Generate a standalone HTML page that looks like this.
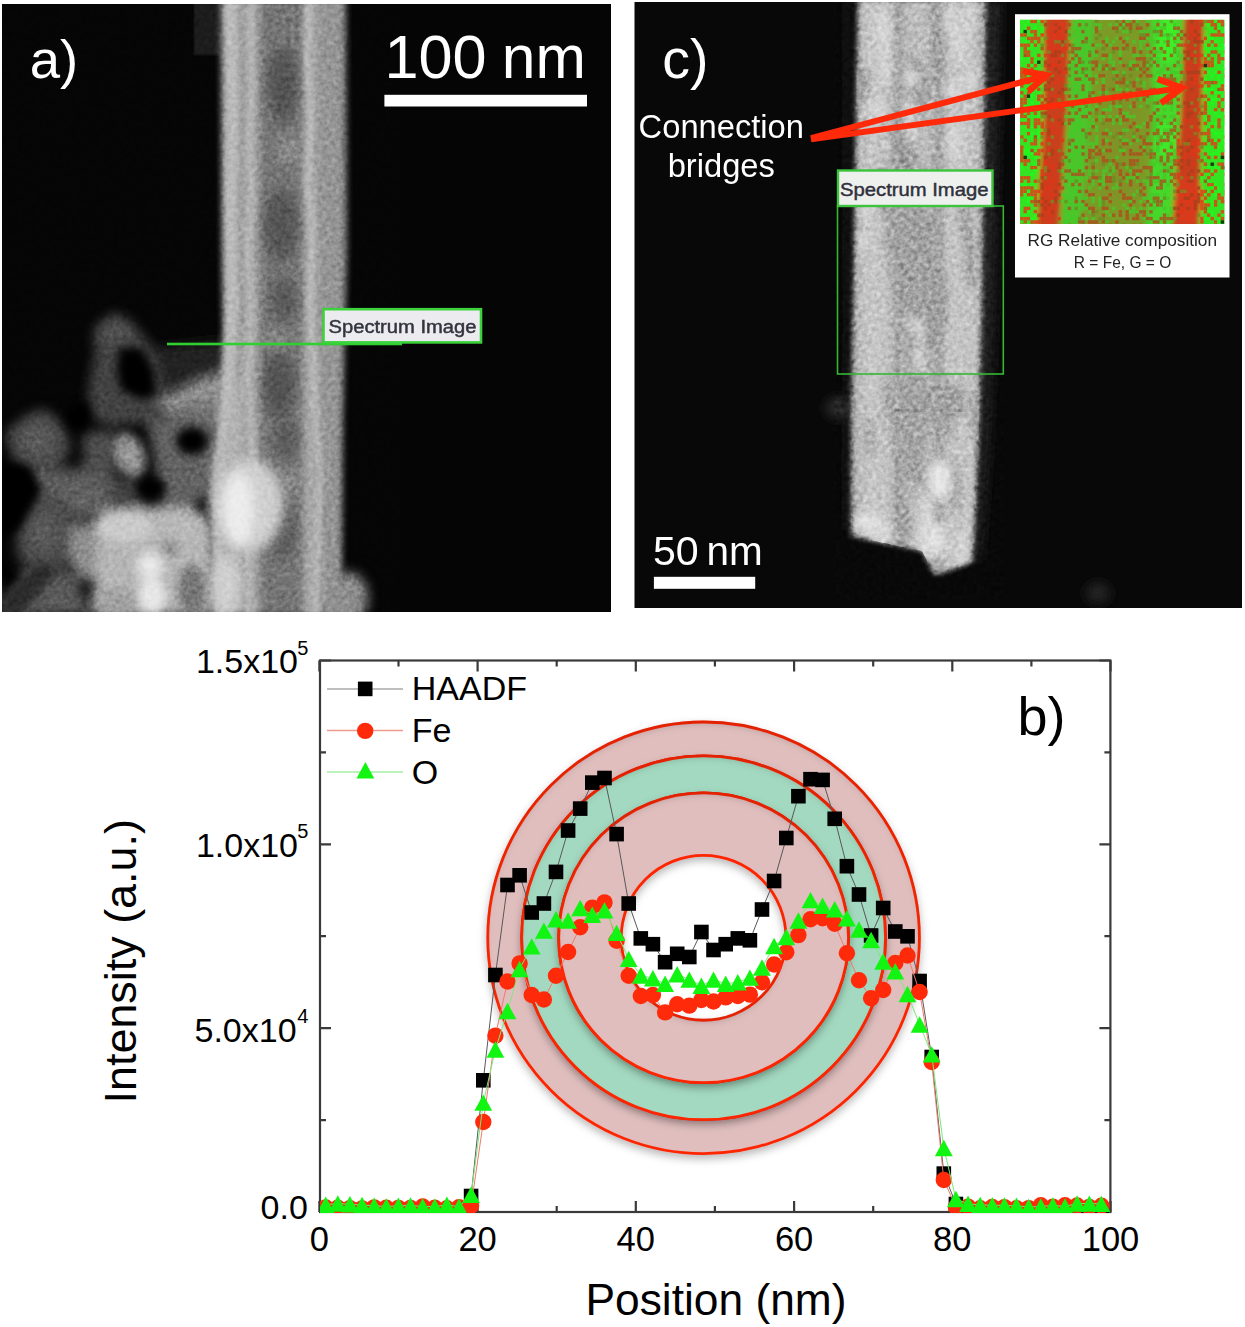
<!DOCTYPE html>
<html><head><meta charset="utf-8"><style>
html,body{margin:0;padding:0;background:#fff;}
body{width:1245px;height:1327px;overflow:hidden;position:relative;}
svg{position:absolute;left:0;top:0;}
text{font-family:"Liberation Sans",sans-serif;}
</style></head><body>
<svg width="1245" height="1327" viewBox="0 0 1245 1327">
<defs>
<filter id="sh" x="-20%" y="-20%" width="140%" height="140%">
<feGaussianBlur in="SourceAlpha" stdDeviation="4" result="b1"/><feOffset in="b1" dy="4" result="o1"/><feFlood flood-color="#000" flood-opacity="0.28" result="f1"/><feComposite in="f1" in2="o1" operator="in" result="drop"/>
<feComponentTransfer in="SourceAlpha" result="inv"><feFuncA type="table" tableValues="1 0"/></feComponentTransfer><feGaussianBlur in="inv" stdDeviation="3" result="b2"/><feOffset in="b2" dy="3.5" result="o2"/><feFlood flood-color="#000" flood-opacity="0.3" result="f2"/><feComposite in="f2" in2="o2" operator="in" result="is1"/><feComposite in="is1" in2="SourceAlpha" operator="in" result="inner"/>
<feMerge><feMergeNode in="drop"/><feMergeNode in="SourceGraphic"/><feMergeNode in="inner"/></feMerge></filter>
<filter id="b1" x="-50%" y="-50%" width="200%" height="200%"><feGaussianBlur stdDeviation="1.5"/></filter>
<filter id="b2" x="-50%" y="-50%" width="200%" height="200%"><feGaussianBlur stdDeviation="2.5"/></filter>
<filter id="b3" x="-50%" y="-50%" width="200%" height="200%"><feGaussianBlur stdDeviation="3"/></filter>
<filter id="b4" x="-50%" y="-50%" width="200%" height="200%"><feGaussianBlur stdDeviation="4"/></filter>
<filter id="b6" x="-50%" y="-50%" width="200%" height="200%"><feGaussianBlur stdDeviation="6"/></filter>
<filter id="noise2" x="0" y="0" width="100%" height="100%" color-interpolation-filters="sRGB"><feTurbulence type="fractalNoise" baseFrequency="0.22" numOctaves="2" seed="9"/><feColorMatrix type="matrix" values="0.33 0.33 0.33 0 0  0.33 0.33 0.33 0 0  0.33 0.33 0.33 0 0  0 0 0 0 1"/><feComponentTransfer><feFuncR type="linear" slope="2.5" intercept="-0.75"/><feFuncG type="linear" slope="2.5" intercept="-0.75"/><feFuncB type="linear" slope="2.5" intercept="-0.75"/></feComponentTransfer></filter>
<clipPath id="pa"><rect x="2" y="4" width="609" height="608"/></clipPath>
<clipPath id="pcl"><rect x="634.5" y="2" width="607.5" height="606"/></clipPath>
<clipPath id="pc"><rect x="320" y="660" width="790.4" height="553"/></clipPath>
</defs>
<g clip-path="url(#pa)">
<rect x="2" y="4" width="609" height="608" fill="#050505"/>
<rect x="194" y="0" width="28" height="55" fill="#1c1c1c" filter="url(#b1)"/>
<defs>
<radialGradient id="rg1"><stop offset="0" stop-color="#5a5a5a"/><stop offset="1" stop-color="#3c3c3c"/></radialGradient>
<radialGradient id="rg2"><stop offset="0" stop-color="#a8a8a8"/><stop offset="1" stop-color="#7a7a7a"/></radialGradient>
<radialGradient id="rg3"><stop offset="0" stop-color="#f8f8f8"/><stop offset="0.5" stop-color="#d8d8d8"/><stop offset="1" stop-color="#a8a8a8"/></radialGradient>
<radialGradient id="rg4"><stop offset="0" stop-color="#606060"/><stop offset="1" stop-color="#444"/></radialGradient>
<linearGradient id="lg1" x1="0" x2="1" y1="0" y2="0"><stop offset="0" stop-color="#585858"/><stop offset="1" stop-color="#8a8a8a"/></linearGradient>
</defs>
<!-- particle cluster -->
<g filter="url(#b6)">
 <path d="M95,328 L114,314 L133,324 L147,340 L157,359 L164,383 L166,400 L159,416 L142,423 L112,426 L93,419 L88,402 L90,378 L95,355 L94,338Z" fill="#434343"/>
 <path d="M96,326 L114,313 L132,322 L130,340 L110,345 L97,340Z" fill="#505050"/>
 <path d="M152,348 L226,340 L226,366 L165,392Z" fill="#202020"/>
 <path d="M160,400 L197,382 L228,372 L228,434 L197,426 L166,422Z" fill="url(#lg1)"/>
 <path d="M160,400 L200,380 L228,370 L228,390 L200,398 L166,412Z" fill="#969696"/>
 <path d="M5,433 L28,414 L45,409 L62,423 L71,447 L62,466 L38,471 L14,461Z" fill="url(#rg4)"/>
 <path d="M83,433 L114,430 L116,476 L100,484 L84,472Z" fill="#4e4e4e"/>
 <path d="M96,478 L140,478 L142,508 L100,510Z" fill="#404040"/>
 <path d="M147,419 L214,416 L222,470 L218,515 L165,512 L160,490Z" fill="#626262"/>
 <path d="M30,470 L84,468 L112,480 L112,515 L60,520 L30,505Z" fill="#585858"/>
 <path d="M43,485 L100,484 L104,512 L60,516Z" fill="#626262"/>
 <path d="M14,500 L50,492 L72,505 L74,560 L50,572 L18,560Z" fill="url(#rg4)"/>
 <path d="M71,525 L105,520 L110,575 L80,580 L70,560Z" fill="#8e8e8e"/>
 <path d="M100,512 L150,506 L200,510 L214,530 L214,615 L92,615 L96,560Z" fill="#b6b6b6"/>
 <path d="M0,585 L40,560 L75,575 L90,615 L0,615Z" fill="#5a5a5a"/>
</g>
<g filter="url(#b4)">
 <ellipse cx="129" cy="455" rx="16" ry="24" fill="url(#rg2)" transform="rotate(-22 129 455)"/>
 <ellipse cx="150" cy="566" rx="22" ry="24" fill="url(#rg3)"/>
 <ellipse cx="125" cy="528" rx="28" ry="15" fill="#cacaca"/>
 <ellipse cx="180" cy="530" rx="20" ry="15" fill="#b8b8b8"/>
 <ellipse cx="170" cy="548" rx="8" ry="9" fill="#8a8a8a"/>
 <ellipse cx="118" cy="600" rx="22" ry="12" fill="#a0a0a0"/>
 <ellipse cx="192" cy="590" rx="14" ry="26" fill="#767676"/>
 <ellipse cx="152" cy="596" rx="14" ry="18" fill="#e6e6e6"/>
 <path d="M0,600 L40,560 L60,570 L20,615 L0,615Z" fill="#2a2a2a"/>
</g>
<g filter="url(#b4)">
 <path d="M119,348 L142,348 L154,371 L156,395 L142,400 L121,390 L117,371Z" fill="#050505"/>
 <ellipse cx="192" cy="441" rx="16" ry="14" fill="#050505"/>
 <ellipse cx="151" cy="488" rx="15" ry="10" fill="#050505"/>
 <ellipse cx="202" cy="505" rx="7" ry="9" fill="#1a1a1a"/>
 <path d="M0,462 L30,468 L42,490 L20,530 L0,540Z" fill="#050505"/>
 <path d="M0,560 L22,575 L0,600Z" fill="#050505"/>
 <path d="M66,410 L86,400 L92,418 L82,432 L66,424Z" fill="#050505"/>
</g>
<!-- tube -->
<defs>
<linearGradient id="tg" gradientUnits="userSpaceOnUse" x1="214" x2="350" y1="0" y2="0">
<stop offset="0.044" stop-color="#a8a8a8"/><stop offset="0.088" stop-color="#b2b2b2"/>
<stop offset="0.191" stop-color="#b2b2b2"/><stop offset="0.221" stop-color="#9c9c9c"/>
<stop offset="0.257" stop-color="#adadad"/><stop offset="0.301" stop-color="#aaaaaa"/>
<stop offset="0.331" stop-color="#8e8e8e"/><stop offset="0.368" stop-color="#747474"/>
<stop offset="0.632" stop-color="#767676"/><stop offset="0.669" stop-color="#9e9e9e"/>
<stop offset="0.706" stop-color="#b0b0b0"/><stop offset="0.743" stop-color="#a2a2a2"/>
<stop offset="0.779" stop-color="#959595"/><stop offset="0.912" stop-color="#959595"/>
<stop offset="0.971" stop-color="#868686"/>
</linearGradient>
</defs>
<g filter="url(#b3)">
 <path d="M221,0 L346,0 L347,250 L345,330 L343,420 L342,565 L342,615 L212,615 L210,470 L219,420 L223,330 L222,250 Z" fill="url(#tg)"/>

</g>
<g filter="url(#b6)">
 <ellipse cx="283" cy="85" rx="15" ry="38" fill="#525252"/>
 <ellipse cx="281" cy="225" rx="17" ry="36" fill="#545454"/>
 <ellipse cx="284" cy="300" rx="13" ry="22" fill="#585858"/>
 <ellipse cx="279" cy="385" rx="16" ry="34" fill="#525252"/>
 <ellipse cx="286" cy="440" rx="12" ry="20" fill="#5a5a5a"/>
 <ellipse cx="283" cy="530" rx="13" ry="30" fill="#5c5c5c"/>
 <ellipse cx="290" cy="150" rx="12" ry="14" fill="#8c8c8c"/>
 <ellipse cx="276" cy="340" rx="12" ry="10" fill="#888"/>
 <ellipse cx="292" cy="480" rx="10" ry="12" fill="#8a8a8a"/>
</g>
<g filter="url(#b2)" fill="none" stroke-linecap="round" opacity="0.85">
 <path d="M230,0 L233,100 L230,200 L232,300 L228,380 L222,440 L218,500 L220,615" stroke="#bdbdbd" stroke-width="9"/>
 <path d="M251,0 L252,80 L249,150 L252,200 L247,240 L251,300 L248,380 L252,460 L247,540 L250,615" stroke="#bcbcbc" stroke-width="5"/>
 <path d="M309,0 L307,60 L311,120 L307,180 L313,240 L310,300 L314,360 L316,420 L320,470 L318,540 L316,615" stroke="#c0c0c0" stroke-width="6"/>
 <path d="M241,0 L242,100 L240,200 L241,300 L238,380" stroke="#909090" stroke-width="3"/>
</g>
<g filter="url(#b6)">
 <ellipse cx="348" cy="598" rx="20" ry="26" fill="#8e8e8e"/>
 <ellipse cx="250" cy="505" rx="34" ry="46" fill="#cfcfcf"/>
 <ellipse cx="238" cy="510" rx="16" ry="38" fill="#ececec"/>
 <ellipse cx="226" cy="585" rx="14" ry="30" fill="#d0d0d0"/>
</g>
<rect x="0" y="0" width="400" height="612" filter="url(#noise2)" style="mix-blend-mode:overlay" opacity="0.2"/>
<!-- label -->
<rect x="167" y="342.7" width="235" height="2.6" fill="#2fd02f"/>
<rect x="323.5" y="309.2" width="157.5" height="33.2" fill="#ececf0" stroke="#3cd23c" stroke-width="2.6"/>
<text x="328.5" y="333.3" font-size="18" fill="#34343f" stroke="#34343f" stroke-width="0.45" textLength="148" lengthAdjust="spacingAndGlyphs">Spectrum Image</text>
<text x="29.8" y="77.8" font-size="54.5" fill="#fff">a)</text>
<text x="384.4" y="78.4" font-size="61.2" fill="#fff">100</text><text x="501.8" y="78.2" font-size="60.5" fill="#fff">nm</text>
<rect x="384.4" y="94.8" width="202.6" height="11.7" fill="#fff"/>
</g>

<g clip-path="url(#pcl)">
<rect x="634.5" y="2" width="607.5" height="606" fill="#080808"/>
<g filter="url(#b6)"><path d="M984,0 L1000,0 L994,300 L988,450 L980,560 L972,560 L978,420 L982,200Z" fill="#262626"/><path d="M846,0 L858,0 L855,200 L852,400 L850,530 L844,530 L846,300Z" fill="#141414"/><ellipse cx="838" cy="408" rx="12" ry="10" fill="#2e2e2e"/><ellipse cx="1098" cy="593" rx="12" ry="10" fill="#262626"/></g>
<defs><linearGradient id="ctg" gradientUnits="userSpaceOnUse" x1="850" x2="988" y1="0" y2="0"><stop offset="0" stop-color="#9a9a9a"/><stop offset="0.06" stop-color="#bcbcbc"/><stop offset="0.15" stop-color="#c8c8c8"/><stop offset="0.28" stop-color="#c2c2c2"/><stop offset="0.35" stop-color="#a0a0a0"/><stop offset="0.42" stop-color="#bebebe"/><stop offset="0.57" stop-color="#bebebe"/><stop offset="0.64" stop-color="#a0a0a0"/><stop offset="0.71" stop-color="#c6c6c6"/><stop offset="0.9" stop-color="#c4c4c4"/><stop offset="0.96" stop-color="#b0b0b0"/><stop offset="1" stop-color="#8a8a8a"/></linearGradient></defs>
<g filter="url(#b2)"><path d="M858,0 L986,0 L984,150 L982,300 L979,420 L975,520 L972,562 L940,574 L934,574 L922,551 L851,536 L851,420 L854,250 L856,120Z" fill="url(#ctg)"/></g>
<g filter="url(#b4)" clip-path="url(#ctube)"><ellipse cx="971" cy="259" rx="6" ry="31" fill="#a0a0a0"/><ellipse cx="917" cy="112" rx="4" ry="20" fill="#a0a0a0"/><ellipse cx="936" cy="306" rx="8" ry="27" fill="#9c9c9c"/><ellipse cx="922" cy="368" rx="4" ry="18" fill="#a0a0a0"/><ellipse cx="930" cy="340" rx="6" ry="27" fill="#a6a6a6"/><ellipse cx="939" cy="13" rx="8" ry="34" fill="#a0a0a0"/><ellipse cx="888" cy="399" rx="4" ry="25" fill="#a0a0a0"/><ellipse cx="933" cy="230" rx="7" ry="14" fill="#a0a0a0"/><ellipse cx="905" cy="520" rx="6" ry="25" fill="#a0a0a0"/><ellipse cx="870" cy="438" rx="4" ry="22" fill="#a0a0a0"/><ellipse cx="861" cy="84" rx="7" ry="18" fill="#9c9c9c"/><ellipse cx="917" cy="114" rx="6" ry="22" fill="#a6a6a6"/><ellipse cx="892" cy="241" rx="8" ry="14" fill="#a0a0a0"/><ellipse cx="933" cy="227" rx="4" ry="17" fill="#a6a6a6"/><ellipse cx="899" cy="152" rx="6" ry="15" fill="#a0a0a0"/><ellipse cx="932" cy="331" rx="6" ry="17" fill="#9c9c9c"/><ellipse cx="920" cy="276" rx="7" ry="20" fill="#a0a0a0"/><ellipse cx="905" cy="460" rx="7" ry="22" fill="#a6a6a6"/><ellipse cx="913" cy="342" rx="6" ry="19" fill="#9c9c9c"/><ellipse cx="959" cy="398" rx="5" ry="18" fill="#9c9c9c"/><ellipse cx="899" cy="547" rx="5" ry="32" fill="#a0a0a0"/><ellipse cx="896" cy="422" rx="4" ry="18" fill="#a6a6a6"/><ellipse cx="939" cy="302" rx="8" ry="34" fill="#9c9c9c"/><ellipse cx="918" cy="413" rx="8" ry="23" fill="#a6a6a6"/><ellipse cx="938" cy="396" rx="6" ry="29" fill="#a6a6a6"/><ellipse cx="914" cy="85" rx="7" ry="32" fill="#9c9c9c"/><ellipse cx="976" cy="415" rx="5" ry="28" fill="#a0a0a0"/><ellipse cx="955" cy="489" rx="6" ry="26" fill="#a6a6a6"/><ellipse cx="894" cy="219" rx="7" ry="34" fill="#a6a6a6"/><ellipse cx="948" cy="411" rx="6" ry="31" fill="#a0a0a0"/><ellipse cx="917" cy="295" rx="6" ry="19" fill="#9c9c9c"/><ellipse cx="939" cy="72" rx="5" ry="14" fill="#a6a6a6"/><ellipse cx="922" cy="89" rx="7" ry="23" fill="#a0a0a0"/><ellipse cx="884" cy="190" rx="7" ry="29" fill="#a0a0a0"/><ellipse cx="930" cy="494" rx="5" ry="17" fill="#a6a6a6"/><ellipse cx="945" cy="470" rx="7" ry="16" fill="#a6a6a6"/><ellipse cx="910" cy="161" rx="7" ry="28" fill="#9c9c9c"/><ellipse cx="897" cy="259" rx="7" ry="20" fill="#a6a6a6"/><ellipse cx="930" cy="180" rx="6" ry="18" fill="#a6a6a6"/><ellipse cx="900" cy="141" rx="6" ry="27" fill="#9c9c9c"/><ellipse cx="910" cy="362" rx="5" ry="24" fill="#a0a0a0"/><ellipse cx="928" cy="403" rx="5" ry="19" fill="#a6a6a6"/><ellipse cx="938" cy="307" rx="6" ry="30" fill="#a0a0a0"/><ellipse cx="937" cy="58" rx="6" ry="18" fill="#a0a0a0"/><ellipse cx="966" cy="217" rx="6" ry="27" fill="#a0a0a0"/><ellipse cx="885" cy="64" rx="5" ry="23" fill="#d8d8d8"/><ellipse cx="962" cy="549" rx="5" ry="20" fill="#d8d8d8"/><ellipse cx="949" cy="19" rx="6" ry="17" fill="#d8d8d8"/><ellipse cx="883" cy="26" rx="6" ry="20" fill="#d8d8d8"/><ellipse cx="926" cy="514" rx="7" ry="20" fill="#d8d8d8"/><ellipse cx="875" cy="530" rx="5" ry="18" fill="#d8d8d8"/><ellipse cx="918" cy="467" rx="5" ry="19" fill="#d8d8d8"/><ellipse cx="885" cy="535" rx="7" ry="17" fill="#d8d8d8"/><ellipse cx="918" cy="325" rx="5" ry="18" fill="#d8d8d8"/><ellipse cx="886" cy="34" rx="5" ry="20" fill="#d8d8d8"/><ellipse cx="959" cy="46" rx="5" ry="17" fill="#d8d8d8"/><ellipse cx="970" cy="80" rx="6" ry="12" fill="#d8d8d8"/><ellipse cx="863" cy="241" rx="4" ry="12" fill="#d8d8d8"/><ellipse cx="968" cy="17" rx="4" ry="20" fill="#d8d8d8"/><ellipse cx="912" cy="78" rx="7" ry="10" fill="#d8d8d8"/><ellipse cx="919" cy="358" rx="6" ry="13" fill="#d8d8d8"/><ellipse cx="911" cy="129" rx="6" ry="15" fill="#d8d8d8"/><ellipse cx="878" cy="110" rx="7" ry="12" fill="#d8d8d8"/><ellipse cx="955" cy="142" rx="6" ry="20" fill="#d8d8d8"/><ellipse cx="910" cy="120" rx="6" ry="23" fill="#d8d8d8"/><ellipse cx="923" cy="543" rx="7" ry="22" fill="#d8d8d8"/><ellipse cx="923" cy="452" rx="6" ry="18" fill="#d8d8d8"/><ellipse cx="954" cy="91" rx="7" ry="11" fill="#d8d8d8"/><ellipse cx="960" cy="44" rx="5" ry="16" fill="#d8d8d8"/><ellipse cx="867" cy="205" rx="7" ry="13" fill="#d8d8d8"/>
<path d="M895,200 Q920,190 938,230 Q945,290 925,320 Q900,320 892,280Z" fill="#a2a2a2"/>
<path d="M898,380 Q915,370 930,390 L926,480 Q910,500 898,470Z" fill="#a4a4a4"/>
<ellipse cx="940" cy="480" rx="12" ry="20" fill="#e6e6e6"/>
<ellipse cx="937" cy="540" rx="9" ry="18" fill="#e2e2e2"/>
<ellipse cx="866" cy="522" rx="12" ry="10" fill="#e0e0e0"/>
</g>
<defs><clipPath id="ctube"><path d="M858,0 L986,0 L984,150 L982,300 L979,420 L975,520 L972,562 L940,574 L934,574 L922,551 L851,536 L851,420 L854,250 L856,120Z"/></clipPath></defs>
<path d="M895,410 L972,411" stroke="#606060" stroke-width="2" opacity="0.45" filter="url(#b1)"/>
<rect x="834" y="0" width="170" height="600" filter="url(#noise2)" style="mix-blend-mode:overlay" opacity="0.4"/>
<rect x="837.5" y="206" width="165.8" height="168" fill="none" stroke="#34b834" stroke-width="1.6"/>
<rect x="838" y="170.5" width="154.5" height="35.5" fill="#eef0ee" stroke="#3cc43c" stroke-width="2.4"/>
<text x="840" y="195.5" font-size="18.5" fill="#30303c" stroke="#30303c" stroke-width="0.45" textLength="148.5" lengthAdjust="spacingAndGlyphs">Spectrum Image</text>
<rect x="1015" y="14.2" width="214.5" height="263.3" fill="#fff"/>
<defs><clipPath id="cmc"><rect x="1020.1" y="19.7" width="204.3" height="204.3"/></clipPath></defs>
<g clip-path="url(#cmc)">
<rect x="1020.1" y="19.7" width="204.3" height="204.3" fill="#7c9a26"/>
<g filter="url(#b2)">
<path d="M1010,10 L1042,10 L1044,120 L1036,235 L1010,235Z" fill="#30e424"/>
<path d="M1045,10 L1070,10 L1066,120 L1058,235 L1036,235 L1043,120Z" fill="#c8401c"/>
<path d="M1072,10 L1094,10 L1090,120 L1080,235 L1060,235 L1068,120Z" fill="#4cc62a"/>
<path d="M1100,60 L1140,60 L1140,200 L1100,200Z" fill="#84902a" opacity="0.6"/>
<path d="M1150,10 L1183,10 L1180,120 L1172,235 L1146,235 L1153,120Z" fill="#44d82a"/>
<path d="M1185,10 L1204,10 L1202,120 L1198,235 L1171,235 L1180,120Z" fill="#c83e1c"/>
<path d="M1205,10 L1235,10 L1235,235 L1200,235Z" fill="#30e424"/>
<ellipse cx="1058" cy="45" rx="12" ry="25" fill="#d43a1a"/>
<ellipse cx="1050" cy="190" rx="12" ry="30" fill="#d03a1a"/>
<ellipse cx="1188" cy="200" rx="14" ry="25" fill="#d83a1a"/>
<ellipse cx="1168" cy="40" rx="10" ry="22" fill="#3cf028"/>
<ellipse cx="1166" cy="140" rx="10" ry="18" fill="#40e82a"/>
</g>
<g opacity="0.8"><rect x="1020.1" y="19.7" width="3.4" height="3.4" fill="#22f81e"/><rect x="1026.9" y="19.7" width="3.4" height="3.4" fill="#22f81e"/><rect x="1030.3" y="19.7" width="3.4" height="3.4" fill="#f03018"/><rect x="1033.7" y="19.7" width="3.4" height="3.4" fill="#f03018"/><rect x="1037.1" y="19.7" width="3.4" height="3.4" fill="#22f81e"/><rect x="1040.5" y="19.7" width="3.4" height="3.4" fill="#f03018"/><rect x="1077.9" y="19.7" width="3.4" height="3.4" fill="#46c82a"/><rect x="1094.9" y="19.7" width="3.4" height="3.4" fill="#6c8a24"/><rect x="1115.3" y="19.7" width="3.4" height="3.4" fill="#6c8a24"/><rect x="1122.1" y="19.7" width="3.4" height="3.4" fill="#b04c1e"/><rect x="1125.5" y="19.7" width="3.4" height="3.4" fill="#46c82a"/><rect x="1132.3" y="19.7" width="3.4" height="3.4" fill="#b04c1e"/><rect x="1135.7" y="19.7" width="3.4" height="3.4" fill="#46c82a"/><rect x="1145.9" y="19.7" width="3.4" height="3.4" fill="#46c82a"/><rect x="1156.1" y="19.7" width="3.4" height="3.4" fill="#46c82a"/><rect x="1169.7" y="19.7" width="3.4" height="3.4" fill="#6c8a24"/><rect x="1190.1" y="19.7" width="3.4" height="3.4" fill="#a8401c"/><rect x="1200.3" y="19.7" width="3.4" height="3.4" fill="#e0361a"/><rect x="1203.7" y="19.7" width="3.4" height="3.4" fill="#6c8a24"/><rect x="1207.1" y="19.7" width="3.4" height="3.4" fill="#f03018"/><rect x="1210.5" y="19.7" width="3.4" height="3.4" fill="#f03018"/><rect x="1213.9" y="19.7" width="3.4" height="3.4" fill="#22f81e"/><rect x="1217.3" y="19.7" width="3.4" height="3.4" fill="#f03018"/><rect x="1220.7" y="19.7" width="3.4" height="3.4" fill="#f03018"/><rect x="1023.5" y="23.1" width="3.4" height="3.4" fill="#22f81e"/><rect x="1043.9" y="23.1" width="3.4" height="3.4" fill="#a8401c"/><rect x="1054.1" y="23.1" width="3.4" height="3.4" fill="#a8401c"/><rect x="1060.9" y="23.1" width="3.4" height="3.4" fill="#e0361a"/><rect x="1067.7" y="23.1" width="3.4" height="3.4" fill="#b04c1e"/><rect x="1077.9" y="23.1" width="3.4" height="3.4" fill="#b04c1e"/><rect x="1084.7" y="23.1" width="3.4" height="3.4" fill="#6c8a24"/><rect x="1094.9" y="23.1" width="3.4" height="3.4" fill="#46c82a"/><rect x="1098.3" y="23.1" width="3.4" height="3.4" fill="#46c82a"/><rect x="1108.5" y="23.1" width="3.4" height="3.4" fill="#46c82a"/><rect x="1115.3" y="23.1" width="3.4" height="3.4" fill="#46c82a"/><rect x="1118.7" y="23.1" width="3.4" height="3.4" fill="#b04c1e"/><rect x="1122.1" y="23.1" width="3.4" height="3.4" fill="#46c82a"/><rect x="1125.5" y="23.1" width="3.4" height="3.4" fill="#b04c1e"/><rect x="1128.9" y="23.1" width="3.4" height="3.4" fill="#b04c1e"/><rect x="1135.7" y="23.1" width="3.4" height="3.4" fill="#6c8a24"/><rect x="1145.9" y="23.1" width="3.4" height="3.4" fill="#b04c1e"/><rect x="1156.1" y="23.1" width="3.4" height="3.4" fill="#b04c1e"/><rect x="1162.9" y="23.1" width="3.4" height="3.4" fill="#6c8a24"/><rect x="1173.1" y="23.1" width="3.4" height="3.4" fill="#46c82a"/><rect x="1200.3" y="23.1" width="3.4" height="3.4" fill="#a8401c"/><rect x="1207.1" y="23.1" width="3.4" height="3.4" fill="#22f81e"/><rect x="1210.5" y="23.1" width="3.4" height="3.4" fill="#f03018"/><rect x="1213.9" y="23.1" width="3.4" height="3.4" fill="#f03018"/><rect x="1217.3" y="23.1" width="3.4" height="3.4" fill="#22f81e"/><rect x="1220.7" y="23.1" width="3.4" height="3.4" fill="#f03018"/><rect x="1224.1" y="23.1" width="3.4" height="3.4" fill="#22f81e"/><rect x="1023.5" y="26.5" width="3.4" height="3.4" fill="#22f81e"/><rect x="1026.9" y="26.5" width="3.4" height="3.4" fill="#f03018"/><rect x="1033.7" y="26.5" width="3.4" height="3.4" fill="#22f81e"/><rect x="1040.5" y="26.5" width="3.4" height="3.4" fill="#22f81e"/><rect x="1054.1" y="26.5" width="3.4" height="3.4" fill="#e0361a"/><rect x="1057.5" y="26.5" width="3.4" height="3.4" fill="#a8401c"/><rect x="1071.1" y="26.5" width="3.4" height="3.4" fill="#46c82a"/><rect x="1074.5" y="26.5" width="3.4" height="3.4" fill="#46c82a"/><rect x="1094.9" y="26.5" width="3.4" height="3.4" fill="#b04c1e"/><rect x="1098.3" y="26.5" width="3.4" height="3.4" fill="#46c82a"/><rect x="1111.9" y="26.5" width="3.4" height="3.4" fill="#b04c1e"/><rect x="1115.3" y="26.5" width="3.4" height="3.4" fill="#b04c1e"/><rect x="1118.7" y="26.5" width="3.4" height="3.4" fill="#46c82a"/><rect x="1122.1" y="26.5" width="3.4" height="3.4" fill="#6c8a24"/><rect x="1128.9" y="26.5" width="3.4" height="3.4" fill="#b04c1e"/><rect x="1135.7" y="26.5" width="3.4" height="3.4" fill="#b04c1e"/><rect x="1139.1" y="26.5" width="3.4" height="3.4" fill="#b04c1e"/><rect x="1152.7" y="26.5" width="3.4" height="3.4" fill="#46c82a"/><rect x="1159.5" y="26.5" width="3.4" height="3.4" fill="#46c82a"/><rect x="1162.9" y="26.5" width="3.4" height="3.4" fill="#46c82a"/><rect x="1173.1" y="26.5" width="3.4" height="3.4" fill="#b04c1e"/><rect x="1176.5" y="26.5" width="3.4" height="3.4" fill="#b04c1e"/><rect x="1190.1" y="26.5" width="3.4" height="3.4" fill="#e0361a"/><rect x="1196.9" y="26.5" width="3.4" height="3.4" fill="#e0361a"/><rect x="1203.7" y="26.5" width="3.4" height="3.4" fill="#46c82a"/><rect x="1213.9" y="26.5" width="3.4" height="3.4" fill="#f03018"/><rect x="1217.3" y="26.5" width="3.4" height="3.4" fill="#22f81e"/><rect x="1020.1" y="29.9" width="3.4" height="3.4" fill="#22f81e"/><rect x="1023.5" y="29.9" width="3.4" height="3.4" fill="#101010"/><rect x="1030.3" y="29.9" width="3.4" height="3.4" fill="#f03018"/><rect x="1033.7" y="29.9" width="3.4" height="3.4" fill="#f03018"/><rect x="1040.5" y="29.9" width="3.4" height="3.4" fill="#22f81e"/><rect x="1047.3" y="29.9" width="3.4" height="3.4" fill="#e0361a"/><rect x="1054.1" y="29.9" width="3.4" height="3.4" fill="#a8401c"/><rect x="1057.5" y="29.9" width="3.4" height="3.4" fill="#e0361a"/><rect x="1064.3" y="29.9" width="3.4" height="3.4" fill="#a8401c"/><rect x="1067.7" y="29.9" width="3.4" height="3.4" fill="#46c82a"/><rect x="1077.9" y="29.9" width="3.4" height="3.4" fill="#46c82a"/><rect x="1081.3" y="29.9" width="3.4" height="3.4" fill="#b04c1e"/><rect x="1084.7" y="29.9" width="3.4" height="3.4" fill="#46c82a"/><rect x="1091.5" y="29.9" width="3.4" height="3.4" fill="#46c82a"/><rect x="1094.9" y="29.9" width="3.4" height="3.4" fill="#b04c1e"/><rect x="1115.3" y="29.9" width="3.4" height="3.4" fill="#6c8a24"/><rect x="1122.1" y="29.9" width="3.4" height="3.4" fill="#46c82a"/><rect x="1125.5" y="29.9" width="3.4" height="3.4" fill="#46c82a"/><rect x="1128.9" y="29.9" width="3.4" height="3.4" fill="#6c8a24"/><rect x="1139.1" y="29.9" width="3.4" height="3.4" fill="#46c82a"/><rect x="1142.5" y="29.9" width="3.4" height="3.4" fill="#46c82a"/><rect x="1145.9" y="29.9" width="3.4" height="3.4" fill="#46c82a"/><rect x="1149.3" y="29.9" width="3.4" height="3.4" fill="#46c82a"/><rect x="1152.7" y="29.9" width="3.4" height="3.4" fill="#6c8a24"/><rect x="1156.1" y="29.9" width="3.4" height="3.4" fill="#6c8a24"/><rect x="1159.5" y="29.9" width="3.4" height="3.4" fill="#b04c1e"/><rect x="1179.9" y="29.9" width="3.4" height="3.4" fill="#b04c1e"/><rect x="1190.1" y="29.9" width="3.4" height="3.4" fill="#e0361a"/><rect x="1193.5" y="29.9" width="3.4" height="3.4" fill="#a8401c"/><rect x="1217.3" y="29.9" width="3.4" height="3.4" fill="#f03018"/><rect x="1220.7" y="29.9" width="3.4" height="3.4" fill="#22f81e"/><rect x="1020.1" y="33.3" width="3.4" height="3.4" fill="#f03018"/><rect x="1023.5" y="33.3" width="3.4" height="3.4" fill="#f03018"/><rect x="1033.7" y="33.3" width="3.4" height="3.4" fill="#f03018"/><rect x="1040.5" y="33.3" width="3.4" height="3.4" fill="#f03018"/><rect x="1050.7" y="33.3" width="3.4" height="3.4" fill="#e0361a"/><rect x="1054.1" y="33.3" width="3.4" height="3.4" fill="#e0361a"/><rect x="1067.7" y="33.3" width="3.4" height="3.4" fill="#6c8a24"/><rect x="1071.1" y="33.3" width="3.4" height="3.4" fill="#46c82a"/><rect x="1098.3" y="33.3" width="3.4" height="3.4" fill="#6c8a24"/><rect x="1139.1" y="33.3" width="3.4" height="3.4" fill="#6c8a24"/><rect x="1142.5" y="33.3" width="3.4" height="3.4" fill="#6c8a24"/><rect x="1145.9" y="33.3" width="3.4" height="3.4" fill="#b04c1e"/><rect x="1156.1" y="33.3" width="3.4" height="3.4" fill="#46c82a"/><rect x="1159.5" y="33.3" width="3.4" height="3.4" fill="#b04c1e"/><rect x="1162.9" y="33.3" width="3.4" height="3.4" fill="#46c82a"/><rect x="1166.3" y="33.3" width="3.4" height="3.4" fill="#6c8a24"/><rect x="1169.7" y="33.3" width="3.4" height="3.4" fill="#46c82a"/><rect x="1176.5" y="33.3" width="3.4" height="3.4" fill="#b04c1e"/><rect x="1179.9" y="33.3" width="3.4" height="3.4" fill="#46c82a"/><rect x="1183.3" y="33.3" width="3.4" height="3.4" fill="#a8401c"/><rect x="1193.5" y="33.3" width="3.4" height="3.4" fill="#e0361a"/><rect x="1196.9" y="33.3" width="3.4" height="3.4" fill="#a8401c"/><rect x="1210.5" y="33.3" width="3.4" height="3.4" fill="#f03018"/><rect x="1213.9" y="33.3" width="3.4" height="3.4" fill="#f03018"/><rect x="1217.3" y="33.3" width="3.4" height="3.4" fill="#f03018"/><rect x="1220.7" y="33.3" width="3.4" height="3.4" fill="#f03018"/><rect x="1224.1" y="33.3" width="3.4" height="3.4" fill="#f03018"/><rect x="1026.9" y="36.7" width="3.4" height="3.4" fill="#f03018"/><rect x="1030.3" y="36.7" width="3.4" height="3.4" fill="#f03018"/><rect x="1033.7" y="36.7" width="3.4" height="3.4" fill="#f03018"/><rect x="1037.1" y="36.7" width="3.4" height="3.4" fill="#f03018"/><rect x="1043.9" y="36.7" width="3.4" height="3.4" fill="#7a8a22"/><rect x="1057.5" y="36.7" width="3.4" height="3.4" fill="#e0361a"/><rect x="1067.7" y="36.7" width="3.4" height="3.4" fill="#46c82a"/><rect x="1081.3" y="36.7" width="3.4" height="3.4" fill="#46c82a"/><rect x="1084.7" y="36.7" width="3.4" height="3.4" fill="#b04c1e"/><rect x="1094.9" y="36.7" width="3.4" height="3.4" fill="#6c8a24"/><rect x="1105.1" y="36.7" width="3.4" height="3.4" fill="#46c82a"/><rect x="1115.3" y="36.7" width="3.4" height="3.4" fill="#46c82a"/><rect x="1118.7" y="36.7" width="3.4" height="3.4" fill="#b04c1e"/><rect x="1125.5" y="36.7" width="3.4" height="3.4" fill="#46c82a"/><rect x="1139.1" y="36.7" width="3.4" height="3.4" fill="#b04c1e"/><rect x="1142.5" y="36.7" width="3.4" height="3.4" fill="#b04c1e"/><rect x="1145.9" y="36.7" width="3.4" height="3.4" fill="#46c82a"/><rect x="1149.3" y="36.7" width="3.4" height="3.4" fill="#46c82a"/><rect x="1166.3" y="36.7" width="3.4" height="3.4" fill="#46c82a"/><rect x="1173.1" y="36.7" width="3.4" height="3.4" fill="#b04c1e"/><rect x="1179.9" y="36.7" width="3.4" height="3.4" fill="#b04c1e"/><rect x="1193.5" y="36.7" width="3.4" height="3.4" fill="#a8401c"/><rect x="1196.9" y="36.7" width="3.4" height="3.4" fill="#e0361a"/><rect x="1203.7" y="36.7" width="3.4" height="3.4" fill="#f03018"/><rect x="1207.1" y="36.7" width="3.4" height="3.4" fill="#22f81e"/><rect x="1210.5" y="36.7" width="3.4" height="3.4" fill="#22f81e"/><rect x="1224.1" y="36.7" width="3.4" height="3.4" fill="#f03018"/><rect x="1023.5" y="40.1" width="3.4" height="3.4" fill="#22f81e"/><rect x="1030.3" y="40.1" width="3.4" height="3.4" fill="#f03018"/><rect x="1037.1" y="40.1" width="3.4" height="3.4" fill="#f03018"/><rect x="1047.3" y="40.1" width="3.4" height="3.4" fill="#e0361a"/><rect x="1054.1" y="40.1" width="3.4" height="3.4" fill="#7a8a22"/><rect x="1057.5" y="40.1" width="3.4" height="3.4" fill="#7a8a22"/><rect x="1060.9" y="40.1" width="3.4" height="3.4" fill="#a8401c"/><rect x="1064.3" y="40.1" width="3.4" height="3.4" fill="#7a8a22"/><rect x="1074.5" y="40.1" width="3.4" height="3.4" fill="#46c82a"/><rect x="1081.3" y="40.1" width="3.4" height="3.4" fill="#b04c1e"/><rect x="1084.7" y="40.1" width="3.4" height="3.4" fill="#6c8a24"/><rect x="1101.7" y="40.1" width="3.4" height="3.4" fill="#b04c1e"/><rect x="1105.1" y="40.1" width="3.4" height="3.4" fill="#46c82a"/><rect x="1111.9" y="40.1" width="3.4" height="3.4" fill="#46c82a"/><rect x="1122.1" y="40.1" width="3.4" height="3.4" fill="#b04c1e"/><rect x="1132.3" y="40.1" width="3.4" height="3.4" fill="#46c82a"/><rect x="1139.1" y="40.1" width="3.4" height="3.4" fill="#46c82a"/><rect x="1142.5" y="40.1" width="3.4" height="3.4" fill="#46c82a"/><rect x="1149.3" y="40.1" width="3.4" height="3.4" fill="#46c82a"/><rect x="1152.7" y="40.1" width="3.4" height="3.4" fill="#46c82a"/><rect x="1156.1" y="40.1" width="3.4" height="3.4" fill="#6c8a24"/><rect x="1162.9" y="40.1" width="3.4" height="3.4" fill="#46c82a"/><rect x="1166.3" y="40.1" width="3.4" height="3.4" fill="#b04c1e"/><rect x="1173.1" y="40.1" width="3.4" height="3.4" fill="#46c82a"/><rect x="1186.7" y="40.1" width="3.4" height="3.4" fill="#7a8a22"/><rect x="1193.5" y="40.1" width="3.4" height="3.4" fill="#a8401c"/><rect x="1196.9" y="40.1" width="3.4" height="3.4" fill="#a8401c"/><rect x="1200.3" y="40.1" width="3.4" height="3.4" fill="#a8401c"/><rect x="1210.5" y="40.1" width="3.4" height="3.4" fill="#f03018"/><rect x="1213.9" y="40.1" width="3.4" height="3.4" fill="#22f81e"/><rect x="1224.1" y="40.1" width="3.4" height="3.4" fill="#f03018"/><rect x="1020.1" y="43.5" width="3.4" height="3.4" fill="#f03018"/><rect x="1023.5" y="43.5" width="3.4" height="3.4" fill="#f03018"/><rect x="1026.9" y="43.5" width="3.4" height="3.4" fill="#f03018"/><rect x="1030.3" y="43.5" width="3.4" height="3.4" fill="#22f81e"/><rect x="1033.7" y="43.5" width="3.4" height="3.4" fill="#f03018"/><rect x="1040.5" y="43.5" width="3.4" height="3.4" fill="#6c8a24"/><rect x="1060.9" y="43.5" width="3.4" height="3.4" fill="#7a8a22"/><rect x="1067.7" y="43.5" width="3.4" height="3.4" fill="#b04c1e"/><rect x="1071.1" y="43.5" width="3.4" height="3.4" fill="#6c8a24"/><rect x="1091.5" y="43.5" width="3.4" height="3.4" fill="#b04c1e"/><rect x="1094.9" y="43.5" width="3.4" height="3.4" fill="#46c82a"/><rect x="1098.3" y="43.5" width="3.4" height="3.4" fill="#46c82a"/><rect x="1105.1" y="43.5" width="3.4" height="3.4" fill="#b04c1e"/><rect x="1108.5" y="43.5" width="3.4" height="3.4" fill="#46c82a"/><rect x="1125.5" y="43.5" width="3.4" height="3.4" fill="#b04c1e"/><rect x="1139.1" y="43.5" width="3.4" height="3.4" fill="#46c82a"/><rect x="1145.9" y="43.5" width="3.4" height="3.4" fill="#b04c1e"/><rect x="1166.3" y="43.5" width="3.4" height="3.4" fill="#b04c1e"/><rect x="1176.5" y="43.5" width="3.4" height="3.4" fill="#b04c1e"/><rect x="1179.9" y="43.5" width="3.4" height="3.4" fill="#b04c1e"/><rect x="1183.3" y="43.5" width="3.4" height="3.4" fill="#e0361a"/><rect x="1193.5" y="43.5" width="3.4" height="3.4" fill="#7a8a22"/><rect x="1203.7" y="43.5" width="3.4" height="3.4" fill="#22f81e"/><rect x="1207.1" y="43.5" width="3.4" height="3.4" fill="#f03018"/><rect x="1213.9" y="43.5" width="3.4" height="3.4" fill="#f03018"/><rect x="1220.7" y="43.5" width="3.4" height="3.4" fill="#22f81e"/><rect x="1023.5" y="46.9" width="3.4" height="3.4" fill="#f03018"/><rect x="1040.5" y="46.9" width="3.4" height="3.4" fill="#b04c1e"/><rect x="1047.3" y="46.9" width="3.4" height="3.4" fill="#e0361a"/><rect x="1054.1" y="46.9" width="3.4" height="3.4" fill="#e0361a"/><rect x="1064.3" y="46.9" width="3.4" height="3.4" fill="#e0361a"/><rect x="1071.1" y="46.9" width="3.4" height="3.4" fill="#b04c1e"/><rect x="1074.5" y="46.9" width="3.4" height="3.4" fill="#b04c1e"/><rect x="1077.9" y="46.9" width="3.4" height="3.4" fill="#b04c1e"/><rect x="1091.5" y="46.9" width="3.4" height="3.4" fill="#46c82a"/><rect x="1101.7" y="46.9" width="3.4" height="3.4" fill="#6c8a24"/><rect x="1111.9" y="46.9" width="3.4" height="3.4" fill="#b04c1e"/><rect x="1115.3" y="46.9" width="3.4" height="3.4" fill="#b04c1e"/><rect x="1122.1" y="46.9" width="3.4" height="3.4" fill="#b04c1e"/><rect x="1125.5" y="46.9" width="3.4" height="3.4" fill="#6c8a24"/><rect x="1132.3" y="46.9" width="3.4" height="3.4" fill="#b04c1e"/><rect x="1139.1" y="46.9" width="3.4" height="3.4" fill="#46c82a"/><rect x="1145.9" y="46.9" width="3.4" height="3.4" fill="#46c82a"/><rect x="1152.7" y="46.9" width="3.4" height="3.4" fill="#b04c1e"/><rect x="1159.5" y="46.9" width="3.4" height="3.4" fill="#b04c1e"/><rect x="1173.1" y="46.9" width="3.4" height="3.4" fill="#6c8a24"/><rect x="1203.7" y="46.9" width="3.4" height="3.4" fill="#22f81e"/><rect x="1207.1" y="46.9" width="3.4" height="3.4" fill="#22f81e"/><rect x="1217.3" y="46.9" width="3.4" height="3.4" fill="#22f81e"/><rect x="1220.7" y="46.9" width="3.4" height="3.4" fill="#22f81e"/><rect x="1224.1" y="46.9" width="3.4" height="3.4" fill="#22f81e"/><rect x="1023.5" y="50.3" width="3.4" height="3.4" fill="#f03018"/><rect x="1026.9" y="50.3" width="3.4" height="3.4" fill="#f03018"/><rect x="1047.3" y="50.3" width="3.4" height="3.4" fill="#7a8a22"/><rect x="1054.1" y="50.3" width="3.4" height="3.4" fill="#a8401c"/><rect x="1057.5" y="50.3" width="3.4" height="3.4" fill="#a8401c"/><rect x="1067.7" y="50.3" width="3.4" height="3.4" fill="#6c8a24"/><rect x="1071.1" y="50.3" width="3.4" height="3.4" fill="#b04c1e"/><rect x="1081.3" y="50.3" width="3.4" height="3.4" fill="#46c82a"/><rect x="1084.7" y="50.3" width="3.4" height="3.4" fill="#46c82a"/><rect x="1088.1" y="50.3" width="3.4" height="3.4" fill="#6c8a24"/><rect x="1091.5" y="50.3" width="3.4" height="3.4" fill="#46c82a"/><rect x="1094.9" y="50.3" width="3.4" height="3.4" fill="#b04c1e"/><rect x="1111.9" y="50.3" width="3.4" height="3.4" fill="#6c8a24"/><rect x="1118.7" y="50.3" width="3.4" height="3.4" fill="#46c82a"/><rect x="1132.3" y="50.3" width="3.4" height="3.4" fill="#b04c1e"/><rect x="1139.1" y="50.3" width="3.4" height="3.4" fill="#b04c1e"/><rect x="1149.3" y="50.3" width="3.4" height="3.4" fill="#b04c1e"/><rect x="1152.7" y="50.3" width="3.4" height="3.4" fill="#46c82a"/><rect x="1156.1" y="50.3" width="3.4" height="3.4" fill="#46c82a"/><rect x="1159.5" y="50.3" width="3.4" height="3.4" fill="#46c82a"/><rect x="1162.9" y="50.3" width="3.4" height="3.4" fill="#b04c1e"/><rect x="1173.1" y="50.3" width="3.4" height="3.4" fill="#6c8a24"/><rect x="1176.5" y="50.3" width="3.4" height="3.4" fill="#46c82a"/><rect x="1183.3" y="50.3" width="3.4" height="3.4" fill="#a8401c"/><rect x="1186.7" y="50.3" width="3.4" height="3.4" fill="#a8401c"/><rect x="1193.5" y="50.3" width="3.4" height="3.4" fill="#7a8a22"/><rect x="1207.1" y="50.3" width="3.4" height="3.4" fill="#22f81e"/><rect x="1210.5" y="50.3" width="3.4" height="3.4" fill="#f03018"/><rect x="1213.9" y="50.3" width="3.4" height="3.4" fill="#f03018"/><rect x="1224.1" y="50.3" width="3.4" height="3.4" fill="#f03018"/><rect x="1023.5" y="53.7" width="3.4" height="3.4" fill="#b83c1c"/><rect x="1026.9" y="53.7" width="3.4" height="3.4" fill="#f03018"/><rect x="1037.1" y="53.7" width="3.4" height="3.4" fill="#f03018"/><rect x="1043.9" y="53.7" width="3.4" height="3.4" fill="#e0361a"/><rect x="1050.7" y="53.7" width="3.4" height="3.4" fill="#a8401c"/><rect x="1054.1" y="53.7" width="3.4" height="3.4" fill="#a8401c"/><rect x="1060.9" y="53.7" width="3.4" height="3.4" fill="#7a8a22"/><rect x="1074.5" y="53.7" width="3.4" height="3.4" fill="#b04c1e"/><rect x="1088.1" y="53.7" width="3.4" height="3.4" fill="#b04c1e"/><rect x="1091.5" y="53.7" width="3.4" height="3.4" fill="#46c82a"/><rect x="1094.9" y="53.7" width="3.4" height="3.4" fill="#46c82a"/><rect x="1101.7" y="53.7" width="3.4" height="3.4" fill="#b04c1e"/><rect x="1105.1" y="53.7" width="3.4" height="3.4" fill="#b04c1e"/><rect x="1108.5" y="53.7" width="3.4" height="3.4" fill="#46c82a"/><rect x="1118.7" y="53.7" width="3.4" height="3.4" fill="#46c82a"/><rect x="1132.3" y="53.7" width="3.4" height="3.4" fill="#46c82a"/><rect x="1135.7" y="53.7" width="3.4" height="3.4" fill="#46c82a"/><rect x="1145.9" y="53.7" width="3.4" height="3.4" fill="#46c82a"/><rect x="1152.7" y="53.7" width="3.4" height="3.4" fill="#b04c1e"/><rect x="1169.7" y="53.7" width="3.4" height="3.4" fill="#b04c1e"/><rect x="1176.5" y="53.7" width="3.4" height="3.4" fill="#46c82a"/><rect x="1179.9" y="53.7" width="3.4" height="3.4" fill="#46c82a"/><rect x="1186.7" y="53.7" width="3.4" height="3.4" fill="#a8401c"/><rect x="1190.1" y="53.7" width="3.4" height="3.4" fill="#e0361a"/><rect x="1196.9" y="53.7" width="3.4" height="3.4" fill="#e0361a"/><rect x="1200.3" y="53.7" width="3.4" height="3.4" fill="#e0361a"/><rect x="1203.7" y="53.7" width="3.4" height="3.4" fill="#22f81e"/><rect x="1207.1" y="53.7" width="3.4" height="3.4" fill="#f03018"/><rect x="1217.3" y="53.7" width="3.4" height="3.4" fill="#f03018"/><rect x="1220.7" y="53.7" width="3.4" height="3.4" fill="#22f81e"/><rect x="1020.1" y="57.1" width="3.4" height="3.4" fill="#22f81e"/><rect x="1026.9" y="57.1" width="3.4" height="3.4" fill="#22f81e"/><rect x="1030.3" y="57.1" width="3.4" height="3.4" fill="#f03018"/><rect x="1040.5" y="57.1" width="3.4" height="3.4" fill="#46c82a"/><rect x="1071.1" y="57.1" width="3.4" height="3.4" fill="#b04c1e"/><rect x="1077.9" y="57.1" width="3.4" height="3.4" fill="#b04c1e"/><rect x="1084.7" y="57.1" width="3.4" height="3.4" fill="#46c82a"/><rect x="1101.7" y="57.1" width="3.4" height="3.4" fill="#46c82a"/><rect x="1108.5" y="57.1" width="3.4" height="3.4" fill="#46c82a"/><rect x="1118.7" y="57.1" width="3.4" height="3.4" fill="#b04c1e"/><rect x="1135.7" y="57.1" width="3.4" height="3.4" fill="#b04c1e"/><rect x="1139.1" y="57.1" width="3.4" height="3.4" fill="#b04c1e"/><rect x="1142.5" y="57.1" width="3.4" height="3.4" fill="#b04c1e"/><rect x="1149.3" y="57.1" width="3.4" height="3.4" fill="#6c8a24"/><rect x="1156.1" y="57.1" width="3.4" height="3.4" fill="#46c82a"/><rect x="1162.9" y="57.1" width="3.4" height="3.4" fill="#b04c1e"/><rect x="1179.9" y="57.1" width="3.4" height="3.4" fill="#46c82a"/><rect x="1183.3" y="57.1" width="3.4" height="3.4" fill="#a8401c"/><rect x="1186.7" y="57.1" width="3.4" height="3.4" fill="#7a8a22"/><rect x="1190.1" y="57.1" width="3.4" height="3.4" fill="#a8401c"/><rect x="1193.5" y="57.1" width="3.4" height="3.4" fill="#7a8a22"/><rect x="1203.7" y="57.1" width="3.4" height="3.4" fill="#f03018"/><rect x="1210.5" y="57.1" width="3.4" height="3.4" fill="#f03018"/><rect x="1217.3" y="57.1" width="3.4" height="3.4" fill="#f03018"/><rect x="1220.7" y="57.1" width="3.4" height="3.4" fill="#f03018"/><rect x="1224.1" y="57.1" width="3.4" height="3.4" fill="#f03018"/><rect x="1030.3" y="60.5" width="3.4" height="3.4" fill="#f03018"/><rect x="1033.7" y="60.5" width="3.4" height="3.4" fill="#22f81e"/><rect x="1037.1" y="60.5" width="3.4" height="3.4" fill="#101010"/><rect x="1043.9" y="60.5" width="3.4" height="3.4" fill="#a8401c"/><rect x="1057.5" y="60.5" width="3.4" height="3.4" fill="#a8401c"/><rect x="1067.7" y="60.5" width="3.4" height="3.4" fill="#b04c1e"/><rect x="1071.1" y="60.5" width="3.4" height="3.4" fill="#46c82a"/><rect x="1077.9" y="60.5" width="3.4" height="3.4" fill="#b04c1e"/><rect x="1081.3" y="60.5" width="3.4" height="3.4" fill="#6c8a24"/><rect x="1084.7" y="60.5" width="3.4" height="3.4" fill="#46c82a"/><rect x="1088.1" y="60.5" width="3.4" height="3.4" fill="#6c8a24"/><rect x="1091.5" y="60.5" width="3.4" height="3.4" fill="#b04c1e"/><rect x="1094.9" y="60.5" width="3.4" height="3.4" fill="#b04c1e"/><rect x="1108.5" y="60.5" width="3.4" height="3.4" fill="#46c82a"/><rect x="1111.9" y="60.5" width="3.4" height="3.4" fill="#46c82a"/><rect x="1118.7" y="60.5" width="3.4" height="3.4" fill="#46c82a"/><rect x="1128.9" y="60.5" width="3.4" height="3.4" fill="#46c82a"/><rect x="1132.3" y="60.5" width="3.4" height="3.4" fill="#46c82a"/><rect x="1142.5" y="60.5" width="3.4" height="3.4" fill="#b04c1e"/><rect x="1145.9" y="60.5" width="3.4" height="3.4" fill="#6c8a24"/><rect x="1152.7" y="60.5" width="3.4" height="3.4" fill="#b04c1e"/><rect x="1156.1" y="60.5" width="3.4" height="3.4" fill="#46c82a"/><rect x="1176.5" y="60.5" width="3.4" height="3.4" fill="#6c8a24"/><rect x="1190.1" y="60.5" width="3.4" height="3.4" fill="#e0361a"/><rect x="1193.5" y="60.5" width="3.4" height="3.4" fill="#7a8a22"/><rect x="1196.9" y="60.5" width="3.4" height="3.4" fill="#e0361a"/><rect x="1203.7" y="60.5" width="3.4" height="3.4" fill="#f03018"/><rect x="1207.1" y="60.5" width="3.4" height="3.4" fill="#f03018"/><rect x="1210.5" y="60.5" width="3.4" height="3.4" fill="#f03018"/><rect x="1213.9" y="60.5" width="3.4" height="3.4" fill="#22f81e"/><rect x="1217.3" y="60.5" width="3.4" height="3.4" fill="#f03018"/><rect x="1220.7" y="60.5" width="3.4" height="3.4" fill="#22f81e"/><rect x="1026.9" y="63.9" width="3.4" height="3.4" fill="#f03018"/><rect x="1030.3" y="63.9" width="3.4" height="3.4" fill="#22f81e"/><rect x="1033.7" y="63.9" width="3.4" height="3.4" fill="#f03018"/><rect x="1040.5" y="63.9" width="3.4" height="3.4" fill="#46c82a"/><rect x="1043.9" y="63.9" width="3.4" height="3.4" fill="#e0361a"/><rect x="1047.3" y="63.9" width="3.4" height="3.4" fill="#a8401c"/><rect x="1050.7" y="63.9" width="3.4" height="3.4" fill="#e0361a"/><rect x="1054.1" y="63.9" width="3.4" height="3.4" fill="#e0361a"/><rect x="1067.7" y="63.9" width="3.4" height="3.4" fill="#46c82a"/><rect x="1071.1" y="63.9" width="3.4" height="3.4" fill="#46c82a"/><rect x="1074.5" y="63.9" width="3.4" height="3.4" fill="#b04c1e"/><rect x="1081.3" y="63.9" width="3.4" height="3.4" fill="#46c82a"/><rect x="1094.9" y="63.9" width="3.4" height="3.4" fill="#b04c1e"/><rect x="1098.3" y="63.9" width="3.4" height="3.4" fill="#46c82a"/><rect x="1101.7" y="63.9" width="3.4" height="3.4" fill="#6c8a24"/><rect x="1105.1" y="63.9" width="3.4" height="3.4" fill="#b04c1e"/><rect x="1111.9" y="63.9" width="3.4" height="3.4" fill="#46c82a"/><rect x="1122.1" y="63.9" width="3.4" height="3.4" fill="#b04c1e"/><rect x="1125.5" y="63.9" width="3.4" height="3.4" fill="#6c8a24"/><rect x="1128.9" y="63.9" width="3.4" height="3.4" fill="#46c82a"/><rect x="1132.3" y="63.9" width="3.4" height="3.4" fill="#b04c1e"/><rect x="1135.7" y="63.9" width="3.4" height="3.4" fill="#b04c1e"/><rect x="1142.5" y="63.9" width="3.4" height="3.4" fill="#b04c1e"/><rect x="1145.9" y="63.9" width="3.4" height="3.4" fill="#46c82a"/><rect x="1149.3" y="63.9" width="3.4" height="3.4" fill="#6c8a24"/><rect x="1156.1" y="63.9" width="3.4" height="3.4" fill="#b04c1e"/><rect x="1162.9" y="63.9" width="3.4" height="3.4" fill="#46c82a"/><rect x="1173.1" y="63.9" width="3.4" height="3.4" fill="#b04c1e"/><rect x="1176.5" y="63.9" width="3.4" height="3.4" fill="#46c82a"/><rect x="1179.9" y="63.9" width="3.4" height="3.4" fill="#46c82a"/><rect x="1196.9" y="63.9" width="3.4" height="3.4" fill="#e0361a"/><rect x="1200.3" y="63.9" width="3.4" height="3.4" fill="#e0361a"/><rect x="1203.7" y="63.9" width="3.4" height="3.4" fill="#101010"/><rect x="1207.1" y="63.9" width="3.4" height="3.4" fill="#f03018"/><rect x="1210.5" y="63.9" width="3.4" height="3.4" fill="#f03018"/><rect x="1020.1" y="67.3" width="3.4" height="3.4" fill="#f03018"/><rect x="1030.3" y="67.3" width="3.4" height="3.4" fill="#f03018"/><rect x="1047.3" y="67.3" width="3.4" height="3.4" fill="#e0361a"/><rect x="1054.1" y="67.3" width="3.4" height="3.4" fill="#a8401c"/><rect x="1064.3" y="67.3" width="3.4" height="3.4" fill="#a8401c"/><rect x="1067.7" y="67.3" width="3.4" height="3.4" fill="#6c8a24"/><rect x="1071.1" y="67.3" width="3.4" height="3.4" fill="#46c82a"/><rect x="1077.9" y="67.3" width="3.4" height="3.4" fill="#46c82a"/><rect x="1081.3" y="67.3" width="3.4" height="3.4" fill="#b04c1e"/><rect x="1084.7" y="67.3" width="3.4" height="3.4" fill="#6c8a24"/><rect x="1091.5" y="67.3" width="3.4" height="3.4" fill="#b04c1e"/><rect x="1098.3" y="67.3" width="3.4" height="3.4" fill="#46c82a"/><rect x="1101.7" y="67.3" width="3.4" height="3.4" fill="#b04c1e"/><rect x="1105.1" y="67.3" width="3.4" height="3.4" fill="#46c82a"/><rect x="1108.5" y="67.3" width="3.4" height="3.4" fill="#6c8a24"/><rect x="1111.9" y="67.3" width="3.4" height="3.4" fill="#b04c1e"/><rect x="1128.9" y="67.3" width="3.4" height="3.4" fill="#b04c1e"/><rect x="1132.3" y="67.3" width="3.4" height="3.4" fill="#6c8a24"/><rect x="1135.7" y="67.3" width="3.4" height="3.4" fill="#46c82a"/><rect x="1139.1" y="67.3" width="3.4" height="3.4" fill="#b04c1e"/><rect x="1142.5" y="67.3" width="3.4" height="3.4" fill="#6c8a24"/><rect x="1145.9" y="67.3" width="3.4" height="3.4" fill="#b04c1e"/><rect x="1159.5" y="67.3" width="3.4" height="3.4" fill="#46c82a"/><rect x="1162.9" y="67.3" width="3.4" height="3.4" fill="#46c82a"/><rect x="1166.3" y="67.3" width="3.4" height="3.4" fill="#b04c1e"/><rect x="1169.7" y="67.3" width="3.4" height="3.4" fill="#46c82a"/><rect x="1179.9" y="67.3" width="3.4" height="3.4" fill="#46c82a"/><rect x="1186.7" y="67.3" width="3.4" height="3.4" fill="#e0361a"/><rect x="1220.7" y="67.3" width="3.4" height="3.4" fill="#22f81e"/><rect x="1224.1" y="67.3" width="3.4" height="3.4" fill="#22f81e"/><rect x="1020.1" y="70.7" width="3.4" height="3.4" fill="#f03018"/><rect x="1030.3" y="70.7" width="3.4" height="3.4" fill="#22f81e"/><rect x="1037.1" y="70.7" width="3.4" height="3.4" fill="#f03018"/><rect x="1040.5" y="70.7" width="3.4" height="3.4" fill="#b04c1e"/><rect x="1047.3" y="70.7" width="3.4" height="3.4" fill="#7a8a22"/><rect x="1057.5" y="70.7" width="3.4" height="3.4" fill="#a8401c"/><rect x="1060.9" y="70.7" width="3.4" height="3.4" fill="#e0361a"/><rect x="1064.3" y="70.7" width="3.4" height="3.4" fill="#e0361a"/><rect x="1071.1" y="70.7" width="3.4" height="3.4" fill="#46c82a"/><rect x="1074.5" y="70.7" width="3.4" height="3.4" fill="#b04c1e"/><rect x="1081.3" y="70.7" width="3.4" height="3.4" fill="#6c8a24"/><rect x="1084.7" y="70.7" width="3.4" height="3.4" fill="#46c82a"/><rect x="1111.9" y="70.7" width="3.4" height="3.4" fill="#46c82a"/><rect x="1115.3" y="70.7" width="3.4" height="3.4" fill="#46c82a"/><rect x="1122.1" y="70.7" width="3.4" height="3.4" fill="#46c82a"/><rect x="1142.5" y="70.7" width="3.4" height="3.4" fill="#b04c1e"/><rect x="1156.1" y="70.7" width="3.4" height="3.4" fill="#46c82a"/><rect x="1159.5" y="70.7" width="3.4" height="3.4" fill="#46c82a"/><rect x="1169.7" y="70.7" width="3.4" height="3.4" fill="#46c82a"/><rect x="1173.1" y="70.7" width="3.4" height="3.4" fill="#46c82a"/><rect x="1176.5" y="70.7" width="3.4" height="3.4" fill="#46c82a"/><rect x="1179.9" y="70.7" width="3.4" height="3.4" fill="#b04c1e"/><rect x="1186.7" y="70.7" width="3.4" height="3.4" fill="#a8401c"/><rect x="1190.1" y="70.7" width="3.4" height="3.4" fill="#a8401c"/><rect x="1193.5" y="70.7" width="3.4" height="3.4" fill="#a8401c"/><rect x="1196.9" y="70.7" width="3.4" height="3.4" fill="#a8401c"/><rect x="1203.7" y="70.7" width="3.4" height="3.4" fill="#f03018"/><rect x="1207.1" y="70.7" width="3.4" height="3.4" fill="#22f81e"/><rect x="1213.9" y="70.7" width="3.4" height="3.4" fill="#22f81e"/><rect x="1217.3" y="70.7" width="3.4" height="3.4" fill="#f03018"/><rect x="1020.1" y="74.1" width="3.4" height="3.4" fill="#f03018"/><rect x="1023.5" y="74.1" width="3.4" height="3.4" fill="#f03018"/><rect x="1026.9" y="74.1" width="3.4" height="3.4" fill="#22f81e"/><rect x="1033.7" y="74.1" width="3.4" height="3.4" fill="#22f81e"/><rect x="1040.5" y="74.1" width="3.4" height="3.4" fill="#46c82a"/><rect x="1047.3" y="74.1" width="3.4" height="3.4" fill="#7a8a22"/><rect x="1050.7" y="74.1" width="3.4" height="3.4" fill="#7a8a22"/><rect x="1067.7" y="74.1" width="3.4" height="3.4" fill="#6c8a24"/><rect x="1084.7" y="74.1" width="3.4" height="3.4" fill="#b04c1e"/><rect x="1088.1" y="74.1" width="3.4" height="3.4" fill="#46c82a"/><rect x="1094.9" y="74.1" width="3.4" height="3.4" fill="#46c82a"/><rect x="1098.3" y="74.1" width="3.4" height="3.4" fill="#b04c1e"/><rect x="1101.7" y="74.1" width="3.4" height="3.4" fill="#b04c1e"/><rect x="1115.3" y="74.1" width="3.4" height="3.4" fill="#b04c1e"/><rect x="1122.1" y="74.1" width="3.4" height="3.4" fill="#6c8a24"/><rect x="1128.9" y="74.1" width="3.4" height="3.4" fill="#6c8a24"/><rect x="1139.1" y="74.1" width="3.4" height="3.4" fill="#b04c1e"/><rect x="1145.9" y="74.1" width="3.4" height="3.4" fill="#b04c1e"/><rect x="1149.3" y="74.1" width="3.4" height="3.4" fill="#b04c1e"/><rect x="1152.7" y="74.1" width="3.4" height="3.4" fill="#46c82a"/><rect x="1162.9" y="74.1" width="3.4" height="3.4" fill="#b04c1e"/><rect x="1166.3" y="74.1" width="3.4" height="3.4" fill="#46c82a"/><rect x="1169.7" y="74.1" width="3.4" height="3.4" fill="#b04c1e"/><rect x="1179.9" y="74.1" width="3.4" height="3.4" fill="#46c82a"/><rect x="1183.3" y="74.1" width="3.4" height="3.4" fill="#7a8a22"/><rect x="1193.5" y="74.1" width="3.4" height="3.4" fill="#e0361a"/><rect x="1210.5" y="74.1" width="3.4" height="3.4" fill="#22f81e"/><rect x="1217.3" y="74.1" width="3.4" height="3.4" fill="#22f81e"/><rect x="1224.1" y="74.1" width="3.4" height="3.4" fill="#f03018"/><rect x="1020.1" y="77.5" width="3.4" height="3.4" fill="#f03018"/><rect x="1023.5" y="77.5" width="3.4" height="3.4" fill="#f03018"/><rect x="1030.3" y="77.5" width="3.4" height="3.4" fill="#f03018"/><rect x="1033.7" y="77.5" width="3.4" height="3.4" fill="#22f81e"/><rect x="1037.1" y="77.5" width="3.4" height="3.4" fill="#f03018"/><rect x="1040.5" y="77.5" width="3.4" height="3.4" fill="#46c82a"/><rect x="1043.9" y="77.5" width="3.4" height="3.4" fill="#a8401c"/><rect x="1050.7" y="77.5" width="3.4" height="3.4" fill="#a8401c"/><rect x="1057.5" y="77.5" width="3.4" height="3.4" fill="#e0361a"/><rect x="1060.9" y="77.5" width="3.4" height="3.4" fill="#e0361a"/><rect x="1067.7" y="77.5" width="3.4" height="3.4" fill="#46c82a"/><rect x="1071.1" y="77.5" width="3.4" height="3.4" fill="#46c82a"/><rect x="1074.5" y="77.5" width="3.4" height="3.4" fill="#b04c1e"/><rect x="1077.9" y="77.5" width="3.4" height="3.4" fill="#b04c1e"/><rect x="1084.7" y="77.5" width="3.4" height="3.4" fill="#46c82a"/><rect x="1088.1" y="77.5" width="3.4" height="3.4" fill="#b04c1e"/><rect x="1091.5" y="77.5" width="3.4" height="3.4" fill="#b04c1e"/><rect x="1101.7" y="77.5" width="3.4" height="3.4" fill="#46c82a"/><rect x="1111.9" y="77.5" width="3.4" height="3.4" fill="#6c8a24"/><rect x="1118.7" y="77.5" width="3.4" height="3.4" fill="#6c8a24"/><rect x="1122.1" y="77.5" width="3.4" height="3.4" fill="#b04c1e"/><rect x="1135.7" y="77.5" width="3.4" height="3.4" fill="#46c82a"/><rect x="1159.5" y="77.5" width="3.4" height="3.4" fill="#b04c1e"/><rect x="1162.9" y="77.5" width="3.4" height="3.4" fill="#b04c1e"/><rect x="1166.3" y="77.5" width="3.4" height="3.4" fill="#b04c1e"/><rect x="1169.7" y="77.5" width="3.4" height="3.4" fill="#b04c1e"/><rect x="1173.1" y="77.5" width="3.4" height="3.4" fill="#b04c1e"/><rect x="1176.5" y="77.5" width="3.4" height="3.4" fill="#46c82a"/><rect x="1183.3" y="77.5" width="3.4" height="3.4" fill="#7a8a22"/><rect x="1190.1" y="77.5" width="3.4" height="3.4" fill="#a8401c"/><rect x="1193.5" y="77.5" width="3.4" height="3.4" fill="#e0361a"/><rect x="1200.3" y="77.5" width="3.4" height="3.4" fill="#a8401c"/><rect x="1203.7" y="77.5" width="3.4" height="3.4" fill="#22f81e"/><rect x="1217.3" y="77.5" width="3.4" height="3.4" fill="#22f81e"/><rect x="1026.9" y="80.9" width="3.4" height="3.4" fill="#f03018"/><rect x="1033.7" y="80.9" width="3.4" height="3.4" fill="#22f81e"/><rect x="1040.5" y="80.9" width="3.4" height="3.4" fill="#46c82a"/><rect x="1047.3" y="80.9" width="3.4" height="3.4" fill="#a8401c"/><rect x="1054.1" y="80.9" width="3.4" height="3.4" fill="#e0361a"/><rect x="1071.1" y="80.9" width="3.4" height="3.4" fill="#46c82a"/><rect x="1077.9" y="80.9" width="3.4" height="3.4" fill="#46c82a"/><rect x="1081.3" y="80.9" width="3.4" height="3.4" fill="#46c82a"/><rect x="1088.1" y="80.9" width="3.4" height="3.4" fill="#46c82a"/><rect x="1091.5" y="80.9" width="3.4" height="3.4" fill="#b04c1e"/><rect x="1094.9" y="80.9" width="3.4" height="3.4" fill="#46c82a"/><rect x="1101.7" y="80.9" width="3.4" height="3.4" fill="#46c82a"/><rect x="1115.3" y="80.9" width="3.4" height="3.4" fill="#b04c1e"/><rect x="1118.7" y="80.9" width="3.4" height="3.4" fill="#b04c1e"/><rect x="1122.1" y="80.9" width="3.4" height="3.4" fill="#b04c1e"/><rect x="1125.5" y="80.9" width="3.4" height="3.4" fill="#46c82a"/><rect x="1128.9" y="80.9" width="3.4" height="3.4" fill="#6c8a24"/><rect x="1132.3" y="80.9" width="3.4" height="3.4" fill="#b04c1e"/><rect x="1139.1" y="80.9" width="3.4" height="3.4" fill="#6c8a24"/><rect x="1142.5" y="80.9" width="3.4" height="3.4" fill="#46c82a"/><rect x="1152.7" y="80.9" width="3.4" height="3.4" fill="#46c82a"/><rect x="1159.5" y="80.9" width="3.4" height="3.4" fill="#46c82a"/><rect x="1166.3" y="80.9" width="3.4" height="3.4" fill="#b04c1e"/><rect x="1173.1" y="80.9" width="3.4" height="3.4" fill="#6c8a24"/><rect x="1179.9" y="80.9" width="3.4" height="3.4" fill="#e0361a"/><rect x="1190.1" y="80.9" width="3.4" height="3.4" fill="#e0361a"/><rect x="1193.5" y="80.9" width="3.4" height="3.4" fill="#e0361a"/><rect x="1203.7" y="80.9" width="3.4" height="3.4" fill="#f03018"/><rect x="1207.1" y="80.9" width="3.4" height="3.4" fill="#f03018"/><rect x="1210.5" y="80.9" width="3.4" height="3.4" fill="#b83c1c"/><rect x="1213.9" y="80.9" width="3.4" height="3.4" fill="#f03018"/><rect x="1220.7" y="80.9" width="3.4" height="3.4" fill="#22f81e"/><rect x="1020.1" y="84.3" width="3.4" height="3.4" fill="#f03018"/><rect x="1037.1" y="84.3" width="3.4" height="3.4" fill="#22f81e"/><rect x="1043.9" y="84.3" width="3.4" height="3.4" fill="#a8401c"/><rect x="1064.3" y="84.3" width="3.4" height="3.4" fill="#6c8a24"/><rect x="1067.7" y="84.3" width="3.4" height="3.4" fill="#46c82a"/><rect x="1081.3" y="84.3" width="3.4" height="3.4" fill="#b04c1e"/><rect x="1101.7" y="84.3" width="3.4" height="3.4" fill="#b04c1e"/><rect x="1115.3" y="84.3" width="3.4" height="3.4" fill="#46c82a"/><rect x="1125.5" y="84.3" width="3.4" height="3.4" fill="#6c8a24"/><rect x="1132.3" y="84.3" width="3.4" height="3.4" fill="#b04c1e"/><rect x="1142.5" y="84.3" width="3.4" height="3.4" fill="#46c82a"/><rect x="1169.7" y="84.3" width="3.4" height="3.4" fill="#b04c1e"/><rect x="1179.9" y="84.3" width="3.4" height="3.4" fill="#e0361a"/><rect x="1196.9" y="84.3" width="3.4" height="3.4" fill="#e0361a"/><rect x="1200.3" y="84.3" width="3.4" height="3.4" fill="#e0361a"/><rect x="1207.1" y="84.3" width="3.4" height="3.4" fill="#f03018"/><rect x="1217.3" y="84.3" width="3.4" height="3.4" fill="#22f81e"/><rect x="1220.7" y="84.3" width="3.4" height="3.4" fill="#f03018"/><rect x="1026.9" y="87.7" width="3.4" height="3.4" fill="#22f81e"/><rect x="1037.1" y="87.7" width="3.4" height="3.4" fill="#f03018"/><rect x="1040.5" y="87.7" width="3.4" height="3.4" fill="#46c82a"/><rect x="1043.9" y="87.7" width="3.4" height="3.4" fill="#a8401c"/><rect x="1047.3" y="87.7" width="3.4" height="3.4" fill="#a8401c"/><rect x="1050.7" y="87.7" width="3.4" height="3.4" fill="#7a8a22"/><rect x="1060.9" y="87.7" width="3.4" height="3.4" fill="#a8401c"/><rect x="1064.3" y="87.7" width="3.4" height="3.4" fill="#b04c1e"/><rect x="1067.7" y="87.7" width="3.4" height="3.4" fill="#6c8a24"/><rect x="1081.3" y="87.7" width="3.4" height="3.4" fill="#b04c1e"/><rect x="1088.1" y="87.7" width="3.4" height="3.4" fill="#46c82a"/><rect x="1101.7" y="87.7" width="3.4" height="3.4" fill="#b04c1e"/><rect x="1108.5" y="87.7" width="3.4" height="3.4" fill="#6c8a24"/><rect x="1111.9" y="87.7" width="3.4" height="3.4" fill="#b04c1e"/><rect x="1115.3" y="87.7" width="3.4" height="3.4" fill="#46c82a"/><rect x="1118.7" y="87.7" width="3.4" height="3.4" fill="#46c82a"/><rect x="1125.5" y="87.7" width="3.4" height="3.4" fill="#46c82a"/><rect x="1135.7" y="87.7" width="3.4" height="3.4" fill="#b04c1e"/><rect x="1139.1" y="87.7" width="3.4" height="3.4" fill="#b04c1e"/><rect x="1149.3" y="87.7" width="3.4" height="3.4" fill="#b04c1e"/><rect x="1152.7" y="87.7" width="3.4" height="3.4" fill="#b04c1e"/><rect x="1162.9" y="87.7" width="3.4" height="3.4" fill="#46c82a"/><rect x="1166.3" y="87.7" width="3.4" height="3.4" fill="#b04c1e"/><rect x="1183.3" y="87.7" width="3.4" height="3.4" fill="#7a8a22"/><rect x="1190.1" y="87.7" width="3.4" height="3.4" fill="#a8401c"/><rect x="1203.7" y="87.7" width="3.4" height="3.4" fill="#22f81e"/><rect x="1207.1" y="87.7" width="3.4" height="3.4" fill="#22f81e"/><rect x="1210.5" y="87.7" width="3.4" height="3.4" fill="#22f81e"/><rect x="1217.3" y="87.7" width="3.4" height="3.4" fill="#b83c1c"/><rect x="1220.7" y="87.7" width="3.4" height="3.4" fill="#f03018"/><rect x="1020.1" y="91.1" width="3.4" height="3.4" fill="#f03018"/><rect x="1026.9" y="91.1" width="3.4" height="3.4" fill="#f03018"/><rect x="1037.1" y="91.1" width="3.4" height="3.4" fill="#22f81e"/><rect x="1057.5" y="91.1" width="3.4" height="3.4" fill="#a8401c"/><rect x="1064.3" y="91.1" width="3.4" height="3.4" fill="#46c82a"/><rect x="1074.5" y="91.1" width="3.4" height="3.4" fill="#46c82a"/><rect x="1084.7" y="91.1" width="3.4" height="3.4" fill="#46c82a"/><rect x="1088.1" y="91.1" width="3.4" height="3.4" fill="#6c8a24"/><rect x="1091.5" y="91.1" width="3.4" height="3.4" fill="#b04c1e"/><rect x="1098.3" y="91.1" width="3.4" height="3.4" fill="#46c82a"/><rect x="1101.7" y="91.1" width="3.4" height="3.4" fill="#6c8a24"/><rect x="1105.1" y="91.1" width="3.4" height="3.4" fill="#46c82a"/><rect x="1122.1" y="91.1" width="3.4" height="3.4" fill="#b04c1e"/><rect x="1128.9" y="91.1" width="3.4" height="3.4" fill="#b04c1e"/><rect x="1132.3" y="91.1" width="3.4" height="3.4" fill="#46c82a"/><rect x="1135.7" y="91.1" width="3.4" height="3.4" fill="#46c82a"/><rect x="1145.9" y="91.1" width="3.4" height="3.4" fill="#46c82a"/><rect x="1156.1" y="91.1" width="3.4" height="3.4" fill="#b04c1e"/><rect x="1166.3" y="91.1" width="3.4" height="3.4" fill="#46c82a"/><rect x="1173.1" y="91.1" width="3.4" height="3.4" fill="#46c82a"/><rect x="1210.5" y="91.1" width="3.4" height="3.4" fill="#f03018"/><rect x="1213.9" y="91.1" width="3.4" height="3.4" fill="#22f81e"/><rect x="1217.3" y="91.1" width="3.4" height="3.4" fill="#22f81e"/><rect x="1224.1" y="91.1" width="3.4" height="3.4" fill="#f03018"/><rect x="1023.5" y="94.5" width="3.4" height="3.4" fill="#f03018"/><rect x="1026.9" y="94.5" width="3.4" height="3.4" fill="#101010"/><rect x="1030.3" y="94.5" width="3.4" height="3.4" fill="#22f81e"/><rect x="1037.1" y="94.5" width="3.4" height="3.4" fill="#f03018"/><rect x="1040.5" y="94.5" width="3.4" height="3.4" fill="#e0361a"/><rect x="1054.1" y="94.5" width="3.4" height="3.4" fill="#e0361a"/><rect x="1067.7" y="94.5" width="3.4" height="3.4" fill="#b04c1e"/><rect x="1074.5" y="94.5" width="3.4" height="3.4" fill="#b04c1e"/><rect x="1088.1" y="94.5" width="3.4" height="3.4" fill="#b04c1e"/><rect x="1091.5" y="94.5" width="3.4" height="3.4" fill="#46c82a"/><rect x="1101.7" y="94.5" width="3.4" height="3.4" fill="#b04c1e"/><rect x="1108.5" y="94.5" width="3.4" height="3.4" fill="#46c82a"/><rect x="1115.3" y="94.5" width="3.4" height="3.4" fill="#b04c1e"/><rect x="1122.1" y="94.5" width="3.4" height="3.4" fill="#b04c1e"/><rect x="1125.5" y="94.5" width="3.4" height="3.4" fill="#b04c1e"/><rect x="1132.3" y="94.5" width="3.4" height="3.4" fill="#46c82a"/><rect x="1139.1" y="94.5" width="3.4" height="3.4" fill="#46c82a"/><rect x="1142.5" y="94.5" width="3.4" height="3.4" fill="#6c8a24"/><rect x="1145.9" y="94.5" width="3.4" height="3.4" fill="#b04c1e"/><rect x="1149.3" y="94.5" width="3.4" height="3.4" fill="#46c82a"/><rect x="1166.3" y="94.5" width="3.4" height="3.4" fill="#b04c1e"/><rect x="1173.1" y="94.5" width="3.4" height="3.4" fill="#b04c1e"/><rect x="1200.3" y="94.5" width="3.4" height="3.4" fill="#a8401c"/><rect x="1203.7" y="94.5" width="3.4" height="3.4" fill="#f03018"/><rect x="1217.3" y="94.5" width="3.4" height="3.4" fill="#f03018"/><rect x="1220.7" y="94.5" width="3.4" height="3.4" fill="#22f81e"/><rect x="1224.1" y="94.5" width="3.4" height="3.4" fill="#f03018"/><rect x="1020.1" y="97.9" width="3.4" height="3.4" fill="#f03018"/><rect x="1023.5" y="97.9" width="3.4" height="3.4" fill="#f03018"/><rect x="1037.1" y="97.9" width="3.4" height="3.4" fill="#f03018"/><rect x="1043.9" y="97.9" width="3.4" height="3.4" fill="#a8401c"/><rect x="1047.3" y="97.9" width="3.4" height="3.4" fill="#e0361a"/><rect x="1050.7" y="97.9" width="3.4" height="3.4" fill="#a8401c"/><rect x="1057.5" y="97.9" width="3.4" height="3.4" fill="#7a8a22"/><rect x="1084.7" y="97.9" width="3.4" height="3.4" fill="#6c8a24"/><rect x="1088.1" y="97.9" width="3.4" height="3.4" fill="#46c82a"/><rect x="1094.9" y="97.9" width="3.4" height="3.4" fill="#46c82a"/><rect x="1098.3" y="97.9" width="3.4" height="3.4" fill="#46c82a"/><rect x="1101.7" y="97.9" width="3.4" height="3.4" fill="#6c8a24"/><rect x="1108.5" y="97.9" width="3.4" height="3.4" fill="#46c82a"/><rect x="1111.9" y="97.9" width="3.4" height="3.4" fill="#6c8a24"/><rect x="1118.7" y="97.9" width="3.4" height="3.4" fill="#b04c1e"/><rect x="1125.5" y="97.9" width="3.4" height="3.4" fill="#b04c1e"/><rect x="1135.7" y="97.9" width="3.4" height="3.4" fill="#6c8a24"/><rect x="1139.1" y="97.9" width="3.4" height="3.4" fill="#46c82a"/><rect x="1142.5" y="97.9" width="3.4" height="3.4" fill="#b04c1e"/><rect x="1145.9" y="97.9" width="3.4" height="3.4" fill="#46c82a"/><rect x="1149.3" y="97.9" width="3.4" height="3.4" fill="#46c82a"/><rect x="1156.1" y="97.9" width="3.4" height="3.4" fill="#46c82a"/><rect x="1166.3" y="97.9" width="3.4" height="3.4" fill="#b04c1e"/><rect x="1169.7" y="97.9" width="3.4" height="3.4" fill="#6c8a24"/><rect x="1176.5" y="97.9" width="3.4" height="3.4" fill="#b04c1e"/><rect x="1196.9" y="97.9" width="3.4" height="3.4" fill="#7a8a22"/><rect x="1207.1" y="97.9" width="3.4" height="3.4" fill="#f03018"/><rect x="1210.5" y="97.9" width="3.4" height="3.4" fill="#22f81e"/><rect x="1213.9" y="97.9" width="3.4" height="3.4" fill="#22f81e"/><rect x="1220.7" y="97.9" width="3.4" height="3.4" fill="#f03018"/><rect x="1224.1" y="97.9" width="3.4" height="3.4" fill="#f03018"/><rect x="1020.1" y="101.3" width="3.4" height="3.4" fill="#f03018"/><rect x="1023.5" y="101.3" width="3.4" height="3.4" fill="#f03018"/><rect x="1030.3" y="101.3" width="3.4" height="3.4" fill="#22f81e"/><rect x="1037.1" y="101.3" width="3.4" height="3.4" fill="#22f81e"/><rect x="1040.5" y="101.3" width="3.4" height="3.4" fill="#e0361a"/><rect x="1047.3" y="101.3" width="3.4" height="3.4" fill="#a8401c"/><rect x="1057.5" y="101.3" width="3.4" height="3.4" fill="#7a8a22"/><rect x="1060.9" y="101.3" width="3.4" height="3.4" fill="#7a8a22"/><rect x="1074.5" y="101.3" width="3.4" height="3.4" fill="#b04c1e"/><rect x="1081.3" y="101.3" width="3.4" height="3.4" fill="#b04c1e"/><rect x="1098.3" y="101.3" width="3.4" height="3.4" fill="#b04c1e"/><rect x="1111.9" y="101.3" width="3.4" height="3.4" fill="#b04c1e"/><rect x="1118.7" y="101.3" width="3.4" height="3.4" fill="#6c8a24"/><rect x="1132.3" y="101.3" width="3.4" height="3.4" fill="#b04c1e"/><rect x="1145.9" y="101.3" width="3.4" height="3.4" fill="#46c82a"/><rect x="1152.7" y="101.3" width="3.4" height="3.4" fill="#6c8a24"/><rect x="1156.1" y="101.3" width="3.4" height="3.4" fill="#b04c1e"/><rect x="1159.5" y="101.3" width="3.4" height="3.4" fill="#46c82a"/><rect x="1166.3" y="101.3" width="3.4" height="3.4" fill="#b04c1e"/><rect x="1169.7" y="101.3" width="3.4" height="3.4" fill="#b04c1e"/><rect x="1183.3" y="101.3" width="3.4" height="3.4" fill="#a8401c"/><rect x="1186.7" y="101.3" width="3.4" height="3.4" fill="#a8401c"/><rect x="1190.1" y="101.3" width="3.4" height="3.4" fill="#7a8a22"/><rect x="1203.7" y="101.3" width="3.4" height="3.4" fill="#f03018"/><rect x="1207.1" y="101.3" width="3.4" height="3.4" fill="#22f81e"/><rect x="1210.5" y="101.3" width="3.4" height="3.4" fill="#22f81e"/><rect x="1217.3" y="101.3" width="3.4" height="3.4" fill="#f03018"/><rect x="1224.1" y="101.3" width="3.4" height="3.4" fill="#22f81e"/><rect x="1020.1" y="104.7" width="3.4" height="3.4" fill="#f03018"/><rect x="1023.5" y="104.7" width="3.4" height="3.4" fill="#22f81e"/><rect x="1026.9" y="104.7" width="3.4" height="3.4" fill="#22f81e"/><rect x="1037.1" y="104.7" width="3.4" height="3.4" fill="#22f81e"/><rect x="1050.7" y="104.7" width="3.4" height="3.4" fill="#a8401c"/><rect x="1057.5" y="104.7" width="3.4" height="3.4" fill="#e0361a"/><rect x="1064.3" y="104.7" width="3.4" height="3.4" fill="#46c82a"/><rect x="1067.7" y="104.7" width="3.4" height="3.4" fill="#46c82a"/><rect x="1071.1" y="104.7" width="3.4" height="3.4" fill="#b04c1e"/><rect x="1074.5" y="104.7" width="3.4" height="3.4" fill="#46c82a"/><rect x="1084.7" y="104.7" width="3.4" height="3.4" fill="#6c8a24"/><rect x="1094.9" y="104.7" width="3.4" height="3.4" fill="#46c82a"/><rect x="1108.5" y="104.7" width="3.4" height="3.4" fill="#46c82a"/><rect x="1115.3" y="104.7" width="3.4" height="3.4" fill="#46c82a"/><rect x="1118.7" y="104.7" width="3.4" height="3.4" fill="#46c82a"/><rect x="1128.9" y="104.7" width="3.4" height="3.4" fill="#46c82a"/><rect x="1132.3" y="104.7" width="3.4" height="3.4" fill="#b04c1e"/><rect x="1139.1" y="104.7" width="3.4" height="3.4" fill="#46c82a"/><rect x="1145.9" y="104.7" width="3.4" height="3.4" fill="#6c8a24"/><rect x="1169.7" y="104.7" width="3.4" height="3.4" fill="#46c82a"/><rect x="1176.5" y="104.7" width="3.4" height="3.4" fill="#b04c1e"/><rect x="1179.9" y="104.7" width="3.4" height="3.4" fill="#7a8a22"/><rect x="1186.7" y="104.7" width="3.4" height="3.4" fill="#a8401c"/><rect x="1200.3" y="104.7" width="3.4" height="3.4" fill="#7a8a22"/><rect x="1203.7" y="104.7" width="3.4" height="3.4" fill="#f03018"/><rect x="1217.3" y="104.7" width="3.4" height="3.4" fill="#f03018"/><rect x="1224.1" y="104.7" width="3.4" height="3.4" fill="#f03018"/><rect x="1020.1" y="108.1" width="3.4" height="3.4" fill="#f03018"/><rect x="1023.5" y="108.1" width="3.4" height="3.4" fill="#22f81e"/><rect x="1030.3" y="108.1" width="3.4" height="3.4" fill="#f03018"/><rect x="1060.9" y="108.1" width="3.4" height="3.4" fill="#e0361a"/><rect x="1071.1" y="108.1" width="3.4" height="3.4" fill="#46c82a"/><rect x="1074.5" y="108.1" width="3.4" height="3.4" fill="#46c82a"/><rect x="1077.9" y="108.1" width="3.4" height="3.4" fill="#b04c1e"/><rect x="1084.7" y="108.1" width="3.4" height="3.4" fill="#46c82a"/><rect x="1088.1" y="108.1" width="3.4" height="3.4" fill="#46c82a"/><rect x="1091.5" y="108.1" width="3.4" height="3.4" fill="#46c82a"/><rect x="1094.9" y="108.1" width="3.4" height="3.4" fill="#b04c1e"/><rect x="1101.7" y="108.1" width="3.4" height="3.4" fill="#46c82a"/><rect x="1105.1" y="108.1" width="3.4" height="3.4" fill="#46c82a"/><rect x="1108.5" y="108.1" width="3.4" height="3.4" fill="#46c82a"/><rect x="1118.7" y="108.1" width="3.4" height="3.4" fill="#b04c1e"/><rect x="1152.7" y="108.1" width="3.4" height="3.4" fill="#46c82a"/><rect x="1156.1" y="108.1" width="3.4" height="3.4" fill="#b04c1e"/><rect x="1162.9" y="108.1" width="3.4" height="3.4" fill="#46c82a"/><rect x="1169.7" y="108.1" width="3.4" height="3.4" fill="#46c82a"/><rect x="1176.5" y="108.1" width="3.4" height="3.4" fill="#46c82a"/><rect x="1193.5" y="108.1" width="3.4" height="3.4" fill="#7a8a22"/><rect x="1196.9" y="108.1" width="3.4" height="3.4" fill="#e0361a"/><rect x="1203.7" y="108.1" width="3.4" height="3.4" fill="#f03018"/><rect x="1213.9" y="108.1" width="3.4" height="3.4" fill="#f03018"/><rect x="1220.7" y="108.1" width="3.4" height="3.4" fill="#f03018"/><rect x="1020.1" y="111.5" width="3.4" height="3.4" fill="#f03018"/><rect x="1026.9" y="111.5" width="3.4" height="3.4" fill="#f03018"/><rect x="1033.7" y="111.5" width="3.4" height="3.4" fill="#f03018"/><rect x="1040.5" y="111.5" width="3.4" height="3.4" fill="#a8401c"/><rect x="1043.9" y="111.5" width="3.4" height="3.4" fill="#a8401c"/><rect x="1067.7" y="111.5" width="3.4" height="3.4" fill="#b04c1e"/><rect x="1074.5" y="111.5" width="3.4" height="3.4" fill="#b04c1e"/><rect x="1081.3" y="111.5" width="3.4" height="3.4" fill="#46c82a"/><rect x="1088.1" y="111.5" width="3.4" height="3.4" fill="#b04c1e"/><rect x="1094.9" y="111.5" width="3.4" height="3.4" fill="#6c8a24"/><rect x="1101.7" y="111.5" width="3.4" height="3.4" fill="#b04c1e"/><rect x="1118.7" y="111.5" width="3.4" height="3.4" fill="#b04c1e"/><rect x="1122.1" y="111.5" width="3.4" height="3.4" fill="#46c82a"/><rect x="1125.5" y="111.5" width="3.4" height="3.4" fill="#46c82a"/><rect x="1152.7" y="111.5" width="3.4" height="3.4" fill="#b04c1e"/><rect x="1176.5" y="111.5" width="3.4" height="3.4" fill="#b04c1e"/><rect x="1186.7" y="111.5" width="3.4" height="3.4" fill="#a8401c"/><rect x="1190.1" y="111.5" width="3.4" height="3.4" fill="#a8401c"/><rect x="1200.3" y="111.5" width="3.4" height="3.4" fill="#a8401c"/><rect x="1203.7" y="111.5" width="3.4" height="3.4" fill="#f03018"/><rect x="1213.9" y="111.5" width="3.4" height="3.4" fill="#22f81e"/><rect x="1020.1" y="114.9" width="3.4" height="3.4" fill="#f03018"/><rect x="1023.5" y="114.9" width="3.4" height="3.4" fill="#f03018"/><rect x="1037.1" y="114.9" width="3.4" height="3.4" fill="#22f81e"/><rect x="1040.5" y="114.9" width="3.4" height="3.4" fill="#7a8a22"/><rect x="1043.9" y="114.9" width="3.4" height="3.4" fill="#7a8a22"/><rect x="1047.3" y="114.9" width="3.4" height="3.4" fill="#a8401c"/><rect x="1054.1" y="114.9" width="3.4" height="3.4" fill="#e0361a"/><rect x="1064.3" y="114.9" width="3.4" height="3.4" fill="#46c82a"/><rect x="1074.5" y="114.9" width="3.4" height="3.4" fill="#46c82a"/><rect x="1081.3" y="114.9" width="3.4" height="3.4" fill="#b04c1e"/><rect x="1084.7" y="114.9" width="3.4" height="3.4" fill="#b04c1e"/><rect x="1088.1" y="114.9" width="3.4" height="3.4" fill="#46c82a"/><rect x="1098.3" y="114.9" width="3.4" height="3.4" fill="#46c82a"/><rect x="1101.7" y="114.9" width="3.4" height="3.4" fill="#46c82a"/><rect x="1108.5" y="114.9" width="3.4" height="3.4" fill="#46c82a"/><rect x="1115.3" y="114.9" width="3.4" height="3.4" fill="#46c82a"/><rect x="1122.1" y="114.9" width="3.4" height="3.4" fill="#b04c1e"/><rect x="1125.5" y="114.9" width="3.4" height="3.4" fill="#46c82a"/><rect x="1128.9" y="114.9" width="3.4" height="3.4" fill="#46c82a"/><rect x="1132.3" y="114.9" width="3.4" height="3.4" fill="#46c82a"/><rect x="1149.3" y="114.9" width="3.4" height="3.4" fill="#b04c1e"/><rect x="1156.1" y="114.9" width="3.4" height="3.4" fill="#46c82a"/><rect x="1159.5" y="114.9" width="3.4" height="3.4" fill="#46c82a"/><rect x="1162.9" y="114.9" width="3.4" height="3.4" fill="#6c8a24"/><rect x="1169.7" y="114.9" width="3.4" height="3.4" fill="#46c82a"/><rect x="1173.1" y="114.9" width="3.4" height="3.4" fill="#46c82a"/><rect x="1186.7" y="114.9" width="3.4" height="3.4" fill="#a8401c"/><rect x="1196.9" y="114.9" width="3.4" height="3.4" fill="#7a8a22"/><rect x="1203.7" y="114.9" width="3.4" height="3.4" fill="#22f81e"/><rect x="1207.1" y="114.9" width="3.4" height="3.4" fill="#f03018"/><rect x="1217.3" y="114.9" width="3.4" height="3.4" fill="#22f81e"/><rect x="1224.1" y="114.9" width="3.4" height="3.4" fill="#f03018"/><rect x="1020.1" y="118.3" width="3.4" height="3.4" fill="#22f81e"/><rect x="1023.5" y="118.3" width="3.4" height="3.4" fill="#22f81e"/><rect x="1026.9" y="118.3" width="3.4" height="3.4" fill="#f03018"/><rect x="1033.7" y="118.3" width="3.4" height="3.4" fill="#f03018"/><rect x="1037.1" y="118.3" width="3.4" height="3.4" fill="#f03018"/><rect x="1050.7" y="118.3" width="3.4" height="3.4" fill="#7a8a22"/><rect x="1057.5" y="118.3" width="3.4" height="3.4" fill="#a8401c"/><rect x="1067.7" y="118.3" width="3.4" height="3.4" fill="#b04c1e"/><rect x="1071.1" y="118.3" width="3.4" height="3.4" fill="#b04c1e"/><rect x="1091.5" y="118.3" width="3.4" height="3.4" fill="#46c82a"/><rect x="1094.9" y="118.3" width="3.4" height="3.4" fill="#b04c1e"/><rect x="1098.3" y="118.3" width="3.4" height="3.4" fill="#46c82a"/><rect x="1105.1" y="118.3" width="3.4" height="3.4" fill="#b04c1e"/><rect x="1108.5" y="118.3" width="3.4" height="3.4" fill="#b04c1e"/><rect x="1111.9" y="118.3" width="3.4" height="3.4" fill="#46c82a"/><rect x="1115.3" y="118.3" width="3.4" height="3.4" fill="#b04c1e"/><rect x="1118.7" y="118.3" width="3.4" height="3.4" fill="#46c82a"/><rect x="1122.1" y="118.3" width="3.4" height="3.4" fill="#b04c1e"/><rect x="1125.5" y="118.3" width="3.4" height="3.4" fill="#b04c1e"/><rect x="1149.3" y="118.3" width="3.4" height="3.4" fill="#b04c1e"/><rect x="1152.7" y="118.3" width="3.4" height="3.4" fill="#46c82a"/><rect x="1156.1" y="118.3" width="3.4" height="3.4" fill="#b04c1e"/><rect x="1159.5" y="118.3" width="3.4" height="3.4" fill="#46c82a"/><rect x="1173.1" y="118.3" width="3.4" height="3.4" fill="#b04c1e"/><rect x="1176.5" y="118.3" width="3.4" height="3.4" fill="#46c82a"/><rect x="1183.3" y="118.3" width="3.4" height="3.4" fill="#e0361a"/><rect x="1203.7" y="118.3" width="3.4" height="3.4" fill="#22f81e"/><rect x="1207.1" y="118.3" width="3.4" height="3.4" fill="#f03018"/><rect x="1217.3" y="118.3" width="3.4" height="3.4" fill="#f03018"/><rect x="1224.1" y="118.3" width="3.4" height="3.4" fill="#22f81e"/><rect x="1020.1" y="121.7" width="3.4" height="3.4" fill="#f03018"/><rect x="1023.5" y="121.7" width="3.4" height="3.4" fill="#f03018"/><rect x="1026.9" y="121.7" width="3.4" height="3.4" fill="#f03018"/><rect x="1033.7" y="121.7" width="3.4" height="3.4" fill="#f03018"/><rect x="1037.1" y="121.7" width="3.4" height="3.4" fill="#f03018"/><rect x="1040.5" y="121.7" width="3.4" height="3.4" fill="#e0361a"/><rect x="1057.5" y="121.7" width="3.4" height="3.4" fill="#e0361a"/><rect x="1060.9" y="121.7" width="3.4" height="3.4" fill="#a8401c"/><rect x="1064.3" y="121.7" width="3.4" height="3.4" fill="#46c82a"/><rect x="1067.7" y="121.7" width="3.4" height="3.4" fill="#b04c1e"/><rect x="1071.1" y="121.7" width="3.4" height="3.4" fill="#46c82a"/><rect x="1077.9" y="121.7" width="3.4" height="3.4" fill="#46c82a"/><rect x="1088.1" y="121.7" width="3.4" height="3.4" fill="#46c82a"/><rect x="1091.5" y="121.7" width="3.4" height="3.4" fill="#46c82a"/><rect x="1101.7" y="121.7" width="3.4" height="3.4" fill="#6c8a24"/><rect x="1111.9" y="121.7" width="3.4" height="3.4" fill="#46c82a"/><rect x="1118.7" y="121.7" width="3.4" height="3.4" fill="#46c82a"/><rect x="1132.3" y="121.7" width="3.4" height="3.4" fill="#b04c1e"/><rect x="1142.5" y="121.7" width="3.4" height="3.4" fill="#46c82a"/><rect x="1145.9" y="121.7" width="3.4" height="3.4" fill="#b04c1e"/><rect x="1152.7" y="121.7" width="3.4" height="3.4" fill="#46c82a"/><rect x="1159.5" y="121.7" width="3.4" height="3.4" fill="#b04c1e"/><rect x="1166.3" y="121.7" width="3.4" height="3.4" fill="#46c82a"/><rect x="1169.7" y="121.7" width="3.4" height="3.4" fill="#b04c1e"/><rect x="1176.5" y="121.7" width="3.4" height="3.4" fill="#46c82a"/><rect x="1196.9" y="121.7" width="3.4" height="3.4" fill="#a8401c"/><rect x="1203.7" y="121.7" width="3.4" height="3.4" fill="#f03018"/><rect x="1213.9" y="121.7" width="3.4" height="3.4" fill="#22f81e"/><rect x="1217.3" y="121.7" width="3.4" height="3.4" fill="#f03018"/><rect x="1220.7" y="121.7" width="3.4" height="3.4" fill="#22f81e"/><rect x="1224.1" y="121.7" width="3.4" height="3.4" fill="#22f81e"/><rect x="1026.9" y="125.1" width="3.4" height="3.4" fill="#f03018"/><rect x="1030.3" y="125.1" width="3.4" height="3.4" fill="#22f81e"/><rect x="1033.7" y="125.1" width="3.4" height="3.4" fill="#f03018"/><rect x="1040.5" y="125.1" width="3.4" height="3.4" fill="#e0361a"/><rect x="1050.7" y="125.1" width="3.4" height="3.4" fill="#e0361a"/><rect x="1077.9" y="125.1" width="3.4" height="3.4" fill="#46c82a"/><rect x="1088.1" y="125.1" width="3.4" height="3.4" fill="#46c82a"/><rect x="1091.5" y="125.1" width="3.4" height="3.4" fill="#b04c1e"/><rect x="1094.9" y="125.1" width="3.4" height="3.4" fill="#46c82a"/><rect x="1128.9" y="125.1" width="3.4" height="3.4" fill="#b04c1e"/><rect x="1135.7" y="125.1" width="3.4" height="3.4" fill="#46c82a"/><rect x="1139.1" y="125.1" width="3.4" height="3.4" fill="#46c82a"/><rect x="1145.9" y="125.1" width="3.4" height="3.4" fill="#b04c1e"/><rect x="1152.7" y="125.1" width="3.4" height="3.4" fill="#46c82a"/><rect x="1173.1" y="125.1" width="3.4" height="3.4" fill="#b04c1e"/><rect x="1179.9" y="125.1" width="3.4" height="3.4" fill="#a8401c"/><rect x="1190.1" y="125.1" width="3.4" height="3.4" fill="#7a8a22"/><rect x="1193.5" y="125.1" width="3.4" height="3.4" fill="#e0361a"/><rect x="1210.5" y="125.1" width="3.4" height="3.4" fill="#f03018"/><rect x="1217.3" y="125.1" width="3.4" height="3.4" fill="#f03018"/><rect x="1037.1" y="128.5" width="3.4" height="3.4" fill="#22f81e"/><rect x="1043.9" y="128.5" width="3.4" height="3.4" fill="#7a8a22"/><rect x="1047.3" y="128.5" width="3.4" height="3.4" fill="#a8401c"/><rect x="1050.7" y="128.5" width="3.4" height="3.4" fill="#e0361a"/><rect x="1057.5" y="128.5" width="3.4" height="3.4" fill="#e0361a"/><rect x="1074.5" y="128.5" width="3.4" height="3.4" fill="#46c82a"/><rect x="1077.9" y="128.5" width="3.4" height="3.4" fill="#46c82a"/><rect x="1081.3" y="128.5" width="3.4" height="3.4" fill="#b04c1e"/><rect x="1094.9" y="128.5" width="3.4" height="3.4" fill="#46c82a"/><rect x="1105.1" y="128.5" width="3.4" height="3.4" fill="#46c82a"/><rect x="1122.1" y="128.5" width="3.4" height="3.4" fill="#46c82a"/><rect x="1125.5" y="128.5" width="3.4" height="3.4" fill="#46c82a"/><rect x="1135.7" y="128.5" width="3.4" height="3.4" fill="#b04c1e"/><rect x="1152.7" y="128.5" width="3.4" height="3.4" fill="#46c82a"/><rect x="1156.1" y="128.5" width="3.4" height="3.4" fill="#b04c1e"/><rect x="1162.9" y="128.5" width="3.4" height="3.4" fill="#46c82a"/><rect x="1166.3" y="128.5" width="3.4" height="3.4" fill="#46c82a"/><rect x="1169.7" y="128.5" width="3.4" height="3.4" fill="#b04c1e"/><rect x="1173.1" y="128.5" width="3.4" height="3.4" fill="#b04c1e"/><rect x="1176.5" y="128.5" width="3.4" height="3.4" fill="#46c82a"/><rect x="1196.9" y="128.5" width="3.4" height="3.4" fill="#e0361a"/><rect x="1207.1" y="128.5" width="3.4" height="3.4" fill="#f03018"/><rect x="1210.5" y="128.5" width="3.4" height="3.4" fill="#22f81e"/><rect x="1026.9" y="131.9" width="3.4" height="3.4" fill="#f03018"/><rect x="1030.3" y="131.9" width="3.4" height="3.4" fill="#22f81e"/><rect x="1037.1" y="131.9" width="3.4" height="3.4" fill="#22f81e"/><rect x="1040.5" y="131.9" width="3.4" height="3.4" fill="#e0361a"/><rect x="1047.3" y="131.9" width="3.4" height="3.4" fill="#a8401c"/><rect x="1050.7" y="131.9" width="3.4" height="3.4" fill="#e0361a"/><rect x="1057.5" y="131.9" width="3.4" height="3.4" fill="#e0361a"/><rect x="1067.7" y="131.9" width="3.4" height="3.4" fill="#46c82a"/><rect x="1084.7" y="131.9" width="3.4" height="3.4" fill="#6c8a24"/><rect x="1088.1" y="131.9" width="3.4" height="3.4" fill="#b04c1e"/><rect x="1101.7" y="131.9" width="3.4" height="3.4" fill="#b04c1e"/><rect x="1105.1" y="131.9" width="3.4" height="3.4" fill="#b04c1e"/><rect x="1108.5" y="131.9" width="3.4" height="3.4" fill="#46c82a"/><rect x="1115.3" y="131.9" width="3.4" height="3.4" fill="#6c8a24"/><rect x="1118.7" y="131.9" width="3.4" height="3.4" fill="#b04c1e"/><rect x="1122.1" y="131.9" width="3.4" height="3.4" fill="#6c8a24"/><rect x="1132.3" y="131.9" width="3.4" height="3.4" fill="#6c8a24"/><rect x="1145.9" y="131.9" width="3.4" height="3.4" fill="#b04c1e"/><rect x="1152.7" y="131.9" width="3.4" height="3.4" fill="#b04c1e"/><rect x="1156.1" y="131.9" width="3.4" height="3.4" fill="#b04c1e"/><rect x="1162.9" y="131.9" width="3.4" height="3.4" fill="#b04c1e"/><rect x="1166.3" y="131.9" width="3.4" height="3.4" fill="#b04c1e"/><rect x="1169.7" y="131.9" width="3.4" height="3.4" fill="#6c8a24"/><rect x="1176.5" y="131.9" width="3.4" height="3.4" fill="#b04c1e"/><rect x="1193.5" y="131.9" width="3.4" height="3.4" fill="#7a8a22"/><rect x="1200.3" y="131.9" width="3.4" height="3.4" fill="#b04c1e"/><rect x="1203.7" y="131.9" width="3.4" height="3.4" fill="#f03018"/><rect x="1207.1" y="131.9" width="3.4" height="3.4" fill="#f03018"/><rect x="1213.9" y="131.9" width="3.4" height="3.4" fill="#22f81e"/><rect x="1217.3" y="131.9" width="3.4" height="3.4" fill="#22f81e"/><rect x="1220.7" y="131.9" width="3.4" height="3.4" fill="#22f81e"/><rect x="1020.1" y="135.3" width="3.4" height="3.4" fill="#f03018"/><rect x="1030.3" y="135.3" width="3.4" height="3.4" fill="#22f81e"/><rect x="1033.7" y="135.3" width="3.4" height="3.4" fill="#b83c1c"/><rect x="1037.1" y="135.3" width="3.4" height="3.4" fill="#22f81e"/><rect x="1040.5" y="135.3" width="3.4" height="3.4" fill="#7a8a22"/><rect x="1050.7" y="135.3" width="3.4" height="3.4" fill="#7a8a22"/><rect x="1071.1" y="135.3" width="3.4" height="3.4" fill="#46c82a"/><rect x="1084.7" y="135.3" width="3.4" height="3.4" fill="#6c8a24"/><rect x="1094.9" y="135.3" width="3.4" height="3.4" fill="#46c82a"/><rect x="1111.9" y="135.3" width="3.4" height="3.4" fill="#6c8a24"/><rect x="1118.7" y="135.3" width="3.4" height="3.4" fill="#46c82a"/><rect x="1132.3" y="135.3" width="3.4" height="3.4" fill="#46c82a"/><rect x="1139.1" y="135.3" width="3.4" height="3.4" fill="#b04c1e"/><rect x="1142.5" y="135.3" width="3.4" height="3.4" fill="#6c8a24"/><rect x="1149.3" y="135.3" width="3.4" height="3.4" fill="#46c82a"/><rect x="1156.1" y="135.3" width="3.4" height="3.4" fill="#46c82a"/><rect x="1159.5" y="135.3" width="3.4" height="3.4" fill="#6c8a24"/><rect x="1166.3" y="135.3" width="3.4" height="3.4" fill="#b04c1e"/><rect x="1173.1" y="135.3" width="3.4" height="3.4" fill="#b04c1e"/><rect x="1207.1" y="135.3" width="3.4" height="3.4" fill="#f03018"/><rect x="1217.3" y="135.3" width="3.4" height="3.4" fill="#22f81e"/><rect x="1224.1" y="135.3" width="3.4" height="3.4" fill="#f03018"/><rect x="1023.5" y="138.7" width="3.4" height="3.4" fill="#f03018"/><rect x="1033.7" y="138.7" width="3.4" height="3.4" fill="#f03018"/><rect x="1047.3" y="138.7" width="3.4" height="3.4" fill="#e0361a"/><rect x="1060.9" y="138.7" width="3.4" height="3.4" fill="#e0361a"/><rect x="1067.7" y="138.7" width="3.4" height="3.4" fill="#6c8a24"/><rect x="1071.1" y="138.7" width="3.4" height="3.4" fill="#b04c1e"/><rect x="1094.9" y="138.7" width="3.4" height="3.4" fill="#46c82a"/><rect x="1101.7" y="138.7" width="3.4" height="3.4" fill="#b04c1e"/><rect x="1105.1" y="138.7" width="3.4" height="3.4" fill="#46c82a"/><rect x="1118.7" y="138.7" width="3.4" height="3.4" fill="#6c8a24"/><rect x="1122.1" y="138.7" width="3.4" height="3.4" fill="#46c82a"/><rect x="1125.5" y="138.7" width="3.4" height="3.4" fill="#46c82a"/><rect x="1132.3" y="138.7" width="3.4" height="3.4" fill="#b04c1e"/><rect x="1135.7" y="138.7" width="3.4" height="3.4" fill="#46c82a"/><rect x="1142.5" y="138.7" width="3.4" height="3.4" fill="#b04c1e"/><rect x="1145.9" y="138.7" width="3.4" height="3.4" fill="#46c82a"/><rect x="1156.1" y="138.7" width="3.4" height="3.4" fill="#46c82a"/><rect x="1159.5" y="138.7" width="3.4" height="3.4" fill="#b04c1e"/><rect x="1162.9" y="138.7" width="3.4" height="3.4" fill="#b04c1e"/><rect x="1166.3" y="138.7" width="3.4" height="3.4" fill="#b04c1e"/><rect x="1176.5" y="138.7" width="3.4" height="3.4" fill="#e0361a"/><rect x="1186.7" y="138.7" width="3.4" height="3.4" fill="#a8401c"/><rect x="1196.9" y="138.7" width="3.4" height="3.4" fill="#e0361a"/><rect x="1207.1" y="138.7" width="3.4" height="3.4" fill="#b83c1c"/><rect x="1210.5" y="138.7" width="3.4" height="3.4" fill="#f03018"/><rect x="1213.9" y="138.7" width="3.4" height="3.4" fill="#22f81e"/><rect x="1217.3" y="138.7" width="3.4" height="3.4" fill="#f03018"/><rect x="1220.7" y="138.7" width="3.4" height="3.4" fill="#22f81e"/><rect x="1030.3" y="142.1" width="3.4" height="3.4" fill="#f03018"/><rect x="1033.7" y="142.1" width="3.4" height="3.4" fill="#f03018"/><rect x="1040.5" y="142.1" width="3.4" height="3.4" fill="#e0361a"/><rect x="1047.3" y="142.1" width="3.4" height="3.4" fill="#7a8a22"/><rect x="1067.7" y="142.1" width="3.4" height="3.4" fill="#b04c1e"/><rect x="1071.1" y="142.1" width="3.4" height="3.4" fill="#46c82a"/><rect x="1077.9" y="142.1" width="3.4" height="3.4" fill="#46c82a"/><rect x="1088.1" y="142.1" width="3.4" height="3.4" fill="#46c82a"/><rect x="1091.5" y="142.1" width="3.4" height="3.4" fill="#46c82a"/><rect x="1094.9" y="142.1" width="3.4" height="3.4" fill="#46c82a"/><rect x="1101.7" y="142.1" width="3.4" height="3.4" fill="#b04c1e"/><rect x="1108.5" y="142.1" width="3.4" height="3.4" fill="#b04c1e"/><rect x="1122.1" y="142.1" width="3.4" height="3.4" fill="#b04c1e"/><rect x="1125.5" y="142.1" width="3.4" height="3.4" fill="#b04c1e"/><rect x="1128.9" y="142.1" width="3.4" height="3.4" fill="#46c82a"/><rect x="1142.5" y="142.1" width="3.4" height="3.4" fill="#b04c1e"/><rect x="1145.9" y="142.1" width="3.4" height="3.4" fill="#b04c1e"/><rect x="1149.3" y="142.1" width="3.4" height="3.4" fill="#b04c1e"/><rect x="1156.1" y="142.1" width="3.4" height="3.4" fill="#b04c1e"/><rect x="1159.5" y="142.1" width="3.4" height="3.4" fill="#46c82a"/><rect x="1169.7" y="142.1" width="3.4" height="3.4" fill="#46c82a"/><rect x="1176.5" y="142.1" width="3.4" height="3.4" fill="#e0361a"/><rect x="1183.3" y="142.1" width="3.4" height="3.4" fill="#7a8a22"/><rect x="1186.7" y="142.1" width="3.4" height="3.4" fill="#7a8a22"/><rect x="1190.1" y="142.1" width="3.4" height="3.4" fill="#e0361a"/><rect x="1193.5" y="142.1" width="3.4" height="3.4" fill="#e0361a"/><rect x="1196.9" y="142.1" width="3.4" height="3.4" fill="#e0361a"/><rect x="1200.3" y="142.1" width="3.4" height="3.4" fill="#b04c1e"/><rect x="1203.7" y="142.1" width="3.4" height="3.4" fill="#f03018"/><rect x="1210.5" y="142.1" width="3.4" height="3.4" fill="#f03018"/><rect x="1213.9" y="142.1" width="3.4" height="3.4" fill="#f03018"/><rect x="1220.7" y="142.1" width="3.4" height="3.4" fill="#22f81e"/><rect x="1224.1" y="142.1" width="3.4" height="3.4" fill="#22f81e"/><rect x="1020.1" y="145.5" width="3.4" height="3.4" fill="#f03018"/><rect x="1071.1" y="145.5" width="3.4" height="3.4" fill="#46c82a"/><rect x="1074.5" y="145.5" width="3.4" height="3.4" fill="#b04c1e"/><rect x="1077.9" y="145.5" width="3.4" height="3.4" fill="#46c82a"/><rect x="1081.3" y="145.5" width="3.4" height="3.4" fill="#b04c1e"/><rect x="1091.5" y="145.5" width="3.4" height="3.4" fill="#46c82a"/><rect x="1094.9" y="145.5" width="3.4" height="3.4" fill="#b04c1e"/><rect x="1118.7" y="145.5" width="3.4" height="3.4" fill="#6c8a24"/><rect x="1139.1" y="145.5" width="3.4" height="3.4" fill="#b04c1e"/><rect x="1142.5" y="145.5" width="3.4" height="3.4" fill="#46c82a"/><rect x="1156.1" y="145.5" width="3.4" height="3.4" fill="#46c82a"/><rect x="1169.7" y="145.5" width="3.4" height="3.4" fill="#b04c1e"/><rect x="1176.5" y="145.5" width="3.4" height="3.4" fill="#a8401c"/><rect x="1179.9" y="145.5" width="3.4" height="3.4" fill="#a8401c"/><rect x="1190.1" y="145.5" width="3.4" height="3.4" fill="#a8401c"/><rect x="1200.3" y="145.5" width="3.4" height="3.4" fill="#6c8a24"/><rect x="1213.9" y="145.5" width="3.4" height="3.4" fill="#f03018"/><rect x="1217.3" y="145.5" width="3.4" height="3.4" fill="#22f81e"/><rect x="1020.1" y="148.9" width="3.4" height="3.4" fill="#f03018"/><rect x="1023.5" y="148.9" width="3.4" height="3.4" fill="#22f81e"/><rect x="1026.9" y="148.9" width="3.4" height="3.4" fill="#22f81e"/><rect x="1030.3" y="148.9" width="3.4" height="3.4" fill="#b83c1c"/><rect x="1037.1" y="148.9" width="3.4" height="3.4" fill="#f03018"/><rect x="1040.5" y="148.9" width="3.4" height="3.4" fill="#e0361a"/><rect x="1047.3" y="148.9" width="3.4" height="3.4" fill="#e0361a"/><rect x="1050.7" y="148.9" width="3.4" height="3.4" fill="#a8401c"/><rect x="1057.5" y="148.9" width="3.4" height="3.4" fill="#7a8a22"/><rect x="1067.7" y="148.9" width="3.4" height="3.4" fill="#b04c1e"/><rect x="1074.5" y="148.9" width="3.4" height="3.4" fill="#46c82a"/><rect x="1088.1" y="148.9" width="3.4" height="3.4" fill="#b04c1e"/><rect x="1091.5" y="148.9" width="3.4" height="3.4" fill="#b04c1e"/><rect x="1098.3" y="148.9" width="3.4" height="3.4" fill="#b04c1e"/><rect x="1101.7" y="148.9" width="3.4" height="3.4" fill="#46c82a"/><rect x="1105.1" y="148.9" width="3.4" height="3.4" fill="#b04c1e"/><rect x="1108.5" y="148.9" width="3.4" height="3.4" fill="#b04c1e"/><rect x="1118.7" y="148.9" width="3.4" height="3.4" fill="#46c82a"/><rect x="1122.1" y="148.9" width="3.4" height="3.4" fill="#46c82a"/><rect x="1128.9" y="148.9" width="3.4" height="3.4" fill="#b04c1e"/><rect x="1142.5" y="148.9" width="3.4" height="3.4" fill="#b04c1e"/><rect x="1149.3" y="148.9" width="3.4" height="3.4" fill="#6c8a24"/><rect x="1156.1" y="148.9" width="3.4" height="3.4" fill="#46c82a"/><rect x="1162.9" y="148.9" width="3.4" height="3.4" fill="#b04c1e"/><rect x="1173.1" y="148.9" width="3.4" height="3.4" fill="#46c82a"/><rect x="1176.5" y="148.9" width="3.4" height="3.4" fill="#e0361a"/><rect x="1186.7" y="148.9" width="3.4" height="3.4" fill="#a8401c"/><rect x="1190.1" y="148.9" width="3.4" height="3.4" fill="#e0361a"/><rect x="1193.5" y="148.9" width="3.4" height="3.4" fill="#e0361a"/><rect x="1196.9" y="148.9" width="3.4" height="3.4" fill="#e0361a"/><rect x="1217.3" y="148.9" width="3.4" height="3.4" fill="#22f81e"/><rect x="1224.1" y="148.9" width="3.4" height="3.4" fill="#22f81e"/><rect x="1020.1" y="152.3" width="3.4" height="3.4" fill="#f03018"/><rect x="1023.5" y="152.3" width="3.4" height="3.4" fill="#22f81e"/><rect x="1026.9" y="152.3" width="3.4" height="3.4" fill="#22f81e"/><rect x="1030.3" y="152.3" width="3.4" height="3.4" fill="#22f81e"/><rect x="1033.7" y="152.3" width="3.4" height="3.4" fill="#f03018"/><rect x="1037.1" y="152.3" width="3.4" height="3.4" fill="#f03018"/><rect x="1047.3" y="152.3" width="3.4" height="3.4" fill="#7a8a22"/><rect x="1050.7" y="152.3" width="3.4" height="3.4" fill="#a8401c"/><rect x="1060.9" y="152.3" width="3.4" height="3.4" fill="#b04c1e"/><rect x="1077.9" y="152.3" width="3.4" height="3.4" fill="#46c82a"/><rect x="1081.3" y="152.3" width="3.4" height="3.4" fill="#b04c1e"/><rect x="1088.1" y="152.3" width="3.4" height="3.4" fill="#b04c1e"/><rect x="1094.9" y="152.3" width="3.4" height="3.4" fill="#b04c1e"/><rect x="1098.3" y="152.3" width="3.4" height="3.4" fill="#b04c1e"/><rect x="1122.1" y="152.3" width="3.4" height="3.4" fill="#b04c1e"/><rect x="1128.9" y="152.3" width="3.4" height="3.4" fill="#b04c1e"/><rect x="1132.3" y="152.3" width="3.4" height="3.4" fill="#b04c1e"/><rect x="1135.7" y="152.3" width="3.4" height="3.4" fill="#b04c1e"/><rect x="1139.1" y="152.3" width="3.4" height="3.4" fill="#b04c1e"/><rect x="1145.9" y="152.3" width="3.4" height="3.4" fill="#6c8a24"/><rect x="1149.3" y="152.3" width="3.4" height="3.4" fill="#b04c1e"/><rect x="1152.7" y="152.3" width="3.4" height="3.4" fill="#b04c1e"/><rect x="1166.3" y="152.3" width="3.4" height="3.4" fill="#b04c1e"/><rect x="1169.7" y="152.3" width="3.4" height="3.4" fill="#b04c1e"/><rect x="1173.1" y="152.3" width="3.4" height="3.4" fill="#46c82a"/><rect x="1176.5" y="152.3" width="3.4" height="3.4" fill="#e0361a"/><rect x="1179.9" y="152.3" width="3.4" height="3.4" fill="#a8401c"/><rect x="1183.3" y="152.3" width="3.4" height="3.4" fill="#e0361a"/><rect x="1190.1" y="152.3" width="3.4" height="3.4" fill="#e0361a"/><rect x="1193.5" y="152.3" width="3.4" height="3.4" fill="#e0361a"/><rect x="1200.3" y="152.3" width="3.4" height="3.4" fill="#46c82a"/><rect x="1203.7" y="152.3" width="3.4" height="3.4" fill="#f03018"/><rect x="1210.5" y="152.3" width="3.4" height="3.4" fill="#22f81e"/><rect x="1213.9" y="152.3" width="3.4" height="3.4" fill="#22f81e"/><rect x="1217.3" y="152.3" width="3.4" height="3.4" fill="#22f81e"/><rect x="1220.7" y="152.3" width="3.4" height="3.4" fill="#f03018"/><rect x="1020.1" y="155.7" width="3.4" height="3.4" fill="#f03018"/><rect x="1023.5" y="155.7" width="3.4" height="3.4" fill="#101010"/><rect x="1033.7" y="155.7" width="3.4" height="3.4" fill="#22f81e"/><rect x="1043.9" y="155.7" width="3.4" height="3.4" fill="#a8401c"/><rect x="1064.3" y="155.7" width="3.4" height="3.4" fill="#b04c1e"/><rect x="1067.7" y="155.7" width="3.4" height="3.4" fill="#46c82a"/><rect x="1071.1" y="155.7" width="3.4" height="3.4" fill="#46c82a"/><rect x="1088.1" y="155.7" width="3.4" height="3.4" fill="#b04c1e"/><rect x="1091.5" y="155.7" width="3.4" height="3.4" fill="#6c8a24"/><rect x="1101.7" y="155.7" width="3.4" height="3.4" fill="#b04c1e"/><rect x="1115.3" y="155.7" width="3.4" height="3.4" fill="#46c82a"/><rect x="1149.3" y="155.7" width="3.4" height="3.4" fill="#b04c1e"/><rect x="1152.7" y="155.7" width="3.4" height="3.4" fill="#6c8a24"/><rect x="1159.5" y="155.7" width="3.4" height="3.4" fill="#b04c1e"/><rect x="1166.3" y="155.7" width="3.4" height="3.4" fill="#b04c1e"/><rect x="1173.1" y="155.7" width="3.4" height="3.4" fill="#46c82a"/><rect x="1176.5" y="155.7" width="3.4" height="3.4" fill="#7a8a22"/><rect x="1183.3" y="155.7" width="3.4" height="3.4" fill="#e0361a"/><rect x="1196.9" y="155.7" width="3.4" height="3.4" fill="#e0361a"/><rect x="1200.3" y="155.7" width="3.4" height="3.4" fill="#46c82a"/><rect x="1207.1" y="155.7" width="3.4" height="3.4" fill="#f03018"/><rect x="1213.9" y="155.7" width="3.4" height="3.4" fill="#f03018"/><rect x="1220.7" y="155.7" width="3.4" height="3.4" fill="#101010"/><rect x="1224.1" y="155.7" width="3.4" height="3.4" fill="#f03018"/><rect x="1020.1" y="159.1" width="3.4" height="3.4" fill="#f03018"/><rect x="1023.5" y="159.1" width="3.4" height="3.4" fill="#f03018"/><rect x="1026.9" y="159.1" width="3.4" height="3.4" fill="#f03018"/><rect x="1037.1" y="159.1" width="3.4" height="3.4" fill="#b04c1e"/><rect x="1043.9" y="159.1" width="3.4" height="3.4" fill="#e0361a"/><rect x="1060.9" y="159.1" width="3.4" height="3.4" fill="#6c8a24"/><rect x="1064.3" y="159.1" width="3.4" height="3.4" fill="#46c82a"/><rect x="1067.7" y="159.1" width="3.4" height="3.4" fill="#6c8a24"/><rect x="1071.1" y="159.1" width="3.4" height="3.4" fill="#46c82a"/><rect x="1084.7" y="159.1" width="3.4" height="3.4" fill="#b04c1e"/><rect x="1094.9" y="159.1" width="3.4" height="3.4" fill="#46c82a"/><rect x="1101.7" y="159.1" width="3.4" height="3.4" fill="#b04c1e"/><rect x="1105.1" y="159.1" width="3.4" height="3.4" fill="#b04c1e"/><rect x="1108.5" y="159.1" width="3.4" height="3.4" fill="#6c8a24"/><rect x="1111.9" y="159.1" width="3.4" height="3.4" fill="#b04c1e"/><rect x="1128.9" y="159.1" width="3.4" height="3.4" fill="#b04c1e"/><rect x="1132.3" y="159.1" width="3.4" height="3.4" fill="#b04c1e"/><rect x="1135.7" y="159.1" width="3.4" height="3.4" fill="#b04c1e"/><rect x="1156.1" y="159.1" width="3.4" height="3.4" fill="#46c82a"/><rect x="1159.5" y="159.1" width="3.4" height="3.4" fill="#b04c1e"/><rect x="1166.3" y="159.1" width="3.4" height="3.4" fill="#b04c1e"/><rect x="1169.7" y="159.1" width="3.4" height="3.4" fill="#46c82a"/><rect x="1173.1" y="159.1" width="3.4" height="3.4" fill="#b04c1e"/><rect x="1176.5" y="159.1" width="3.4" height="3.4" fill="#e0361a"/><rect x="1179.9" y="159.1" width="3.4" height="3.4" fill="#a8401c"/><rect x="1186.7" y="159.1" width="3.4" height="3.4" fill="#a8401c"/><rect x="1196.9" y="159.1" width="3.4" height="3.4" fill="#7a8a22"/><rect x="1200.3" y="159.1" width="3.4" height="3.4" fill="#b04c1e"/><rect x="1023.5" y="162.5" width="3.4" height="3.4" fill="#f03018"/><rect x="1033.7" y="162.5" width="3.4" height="3.4" fill="#22f81e"/><rect x="1037.1" y="162.5" width="3.4" height="3.4" fill="#b04c1e"/><rect x="1043.9" y="162.5" width="3.4" height="3.4" fill="#e0361a"/><rect x="1057.5" y="162.5" width="3.4" height="3.4" fill="#a8401c"/><rect x="1060.9" y="162.5" width="3.4" height="3.4" fill="#b04c1e"/><rect x="1077.9" y="162.5" width="3.4" height="3.4" fill="#46c82a"/><rect x="1091.5" y="162.5" width="3.4" height="3.4" fill="#6c8a24"/><rect x="1101.7" y="162.5" width="3.4" height="3.4" fill="#6c8a24"/><rect x="1108.5" y="162.5" width="3.4" height="3.4" fill="#46c82a"/><rect x="1115.3" y="162.5" width="3.4" height="3.4" fill="#b04c1e"/><rect x="1118.7" y="162.5" width="3.4" height="3.4" fill="#6c8a24"/><rect x="1122.1" y="162.5" width="3.4" height="3.4" fill="#b04c1e"/><rect x="1128.9" y="162.5" width="3.4" height="3.4" fill="#b04c1e"/><rect x="1132.3" y="162.5" width="3.4" height="3.4" fill="#b04c1e"/><rect x="1135.7" y="162.5" width="3.4" height="3.4" fill="#6c8a24"/><rect x="1149.3" y="162.5" width="3.4" height="3.4" fill="#46c82a"/><rect x="1152.7" y="162.5" width="3.4" height="3.4" fill="#46c82a"/><rect x="1159.5" y="162.5" width="3.4" height="3.4" fill="#46c82a"/><rect x="1162.9" y="162.5" width="3.4" height="3.4" fill="#b04c1e"/><rect x="1173.1" y="162.5" width="3.4" height="3.4" fill="#b04c1e"/><rect x="1176.5" y="162.5" width="3.4" height="3.4" fill="#a8401c"/><rect x="1186.7" y="162.5" width="3.4" height="3.4" fill="#a8401c"/><rect x="1193.5" y="162.5" width="3.4" height="3.4" fill="#e0361a"/><rect x="1203.7" y="162.5" width="3.4" height="3.4" fill="#f03018"/><rect x="1210.5" y="162.5" width="3.4" height="3.4" fill="#101010"/><rect x="1217.3" y="162.5" width="3.4" height="3.4" fill="#f03018"/><rect x="1220.7" y="162.5" width="3.4" height="3.4" fill="#f03018"/><rect x="1020.1" y="165.9" width="3.4" height="3.4" fill="#22f81e"/><rect x="1030.3" y="165.9" width="3.4" height="3.4" fill="#f03018"/><rect x="1033.7" y="165.9" width="3.4" height="3.4" fill="#f03018"/><rect x="1043.9" y="165.9" width="3.4" height="3.4" fill="#7a8a22"/><rect x="1050.7" y="165.9" width="3.4" height="3.4" fill="#e0361a"/><rect x="1057.5" y="165.9" width="3.4" height="3.4" fill="#a8401c"/><rect x="1071.1" y="165.9" width="3.4" height="3.4" fill="#46c82a"/><rect x="1084.7" y="165.9" width="3.4" height="3.4" fill="#b04c1e"/><rect x="1091.5" y="165.9" width="3.4" height="3.4" fill="#b04c1e"/><rect x="1105.1" y="165.9" width="3.4" height="3.4" fill="#46c82a"/><rect x="1111.9" y="165.9" width="3.4" height="3.4" fill="#46c82a"/><rect x="1115.3" y="165.9" width="3.4" height="3.4" fill="#b04c1e"/><rect x="1125.5" y="165.9" width="3.4" height="3.4" fill="#46c82a"/><rect x="1128.9" y="165.9" width="3.4" height="3.4" fill="#6c8a24"/><rect x="1142.5" y="165.9" width="3.4" height="3.4" fill="#b04c1e"/><rect x="1145.9" y="165.9" width="3.4" height="3.4" fill="#b04c1e"/><rect x="1149.3" y="165.9" width="3.4" height="3.4" fill="#b04c1e"/><rect x="1162.9" y="165.9" width="3.4" height="3.4" fill="#46c82a"/><rect x="1166.3" y="165.9" width="3.4" height="3.4" fill="#46c82a"/><rect x="1169.7" y="165.9" width="3.4" height="3.4" fill="#b04c1e"/><rect x="1179.9" y="165.9" width="3.4" height="3.4" fill="#a8401c"/><rect x="1207.1" y="165.9" width="3.4" height="3.4" fill="#22f81e"/><rect x="1213.9" y="165.9" width="3.4" height="3.4" fill="#22f81e"/><rect x="1217.3" y="165.9" width="3.4" height="3.4" fill="#22f81e"/><rect x="1220.7" y="165.9" width="3.4" height="3.4" fill="#b83c1c"/><rect x="1224.1" y="165.9" width="3.4" height="3.4" fill="#101010"/><rect x="1033.7" y="169.3" width="3.4" height="3.4" fill="#22f81e"/><rect x="1040.5" y="169.3" width="3.4" height="3.4" fill="#e0361a"/><rect x="1043.9" y="169.3" width="3.4" height="3.4" fill="#7a8a22"/><rect x="1047.3" y="169.3" width="3.4" height="3.4" fill="#a8401c"/><rect x="1057.5" y="169.3" width="3.4" height="3.4" fill="#7a8a22"/><rect x="1060.9" y="169.3" width="3.4" height="3.4" fill="#46c82a"/><rect x="1064.3" y="169.3" width="3.4" height="3.4" fill="#b04c1e"/><rect x="1067.7" y="169.3" width="3.4" height="3.4" fill="#b04c1e"/><rect x="1077.9" y="169.3" width="3.4" height="3.4" fill="#b04c1e"/><rect x="1081.3" y="169.3" width="3.4" height="3.4" fill="#46c82a"/><rect x="1088.1" y="169.3" width="3.4" height="3.4" fill="#46c82a"/><rect x="1094.9" y="169.3" width="3.4" height="3.4" fill="#46c82a"/><rect x="1101.7" y="169.3" width="3.4" height="3.4" fill="#46c82a"/><rect x="1105.1" y="169.3" width="3.4" height="3.4" fill="#46c82a"/><rect x="1108.5" y="169.3" width="3.4" height="3.4" fill="#6c8a24"/><rect x="1111.9" y="169.3" width="3.4" height="3.4" fill="#46c82a"/><rect x="1118.7" y="169.3" width="3.4" height="3.4" fill="#b04c1e"/><rect x="1128.9" y="169.3" width="3.4" height="3.4" fill="#46c82a"/><rect x="1132.3" y="169.3" width="3.4" height="3.4" fill="#b04c1e"/><rect x="1135.7" y="169.3" width="3.4" height="3.4" fill="#b04c1e"/><rect x="1139.1" y="169.3" width="3.4" height="3.4" fill="#b04c1e"/><rect x="1149.3" y="169.3" width="3.4" height="3.4" fill="#b04c1e"/><rect x="1159.5" y="169.3" width="3.4" height="3.4" fill="#46c82a"/><rect x="1162.9" y="169.3" width="3.4" height="3.4" fill="#b04c1e"/><rect x="1166.3" y="169.3" width="3.4" height="3.4" fill="#6c8a24"/><rect x="1169.7" y="169.3" width="3.4" height="3.4" fill="#46c82a"/><rect x="1176.5" y="169.3" width="3.4" height="3.4" fill="#7a8a22"/><rect x="1190.1" y="169.3" width="3.4" height="3.4" fill="#a8401c"/><rect x="1196.9" y="169.3" width="3.4" height="3.4" fill="#a8401c"/><rect x="1203.7" y="169.3" width="3.4" height="3.4" fill="#f03018"/><rect x="1207.1" y="169.3" width="3.4" height="3.4" fill="#f03018"/><rect x="1210.5" y="169.3" width="3.4" height="3.4" fill="#22f81e"/><rect x="1213.9" y="169.3" width="3.4" height="3.4" fill="#f03018"/><rect x="1030.3" y="172.7" width="3.4" height="3.4" fill="#22f81e"/><rect x="1040.5" y="172.7" width="3.4" height="3.4" fill="#e0361a"/><rect x="1071.1" y="172.7" width="3.4" height="3.4" fill="#b04c1e"/><rect x="1074.5" y="172.7" width="3.4" height="3.4" fill="#b04c1e"/><rect x="1077.9" y="172.7" width="3.4" height="3.4" fill="#b04c1e"/><rect x="1081.3" y="172.7" width="3.4" height="3.4" fill="#b04c1e"/><rect x="1088.1" y="172.7" width="3.4" height="3.4" fill="#46c82a"/><rect x="1091.5" y="172.7" width="3.4" height="3.4" fill="#6c8a24"/><rect x="1101.7" y="172.7" width="3.4" height="3.4" fill="#46c82a"/><rect x="1108.5" y="172.7" width="3.4" height="3.4" fill="#46c82a"/><rect x="1118.7" y="172.7" width="3.4" height="3.4" fill="#b04c1e"/><rect x="1125.5" y="172.7" width="3.4" height="3.4" fill="#b04c1e"/><rect x="1132.3" y="172.7" width="3.4" height="3.4" fill="#b04c1e"/><rect x="1135.7" y="172.7" width="3.4" height="3.4" fill="#46c82a"/><rect x="1149.3" y="172.7" width="3.4" height="3.4" fill="#6c8a24"/><rect x="1156.1" y="172.7" width="3.4" height="3.4" fill="#46c82a"/><rect x="1162.9" y="172.7" width="3.4" height="3.4" fill="#46c82a"/><rect x="1169.7" y="172.7" width="3.4" height="3.4" fill="#b04c1e"/><rect x="1173.1" y="172.7" width="3.4" height="3.4" fill="#b04c1e"/><rect x="1176.5" y="172.7" width="3.4" height="3.4" fill="#e0361a"/><rect x="1186.7" y="172.7" width="3.4" height="3.4" fill="#a8401c"/><rect x="1200.3" y="172.7" width="3.4" height="3.4" fill="#f03018"/><rect x="1210.5" y="172.7" width="3.4" height="3.4" fill="#f03018"/><rect x="1224.1" y="172.7" width="3.4" height="3.4" fill="#f03018"/><rect x="1020.1" y="176.1" width="3.4" height="3.4" fill="#f03018"/><rect x="1023.5" y="176.1" width="3.4" height="3.4" fill="#f03018"/><rect x="1026.9" y="176.1" width="3.4" height="3.4" fill="#f03018"/><rect x="1040.5" y="176.1" width="3.4" height="3.4" fill="#a8401c"/><rect x="1043.9" y="176.1" width="3.4" height="3.4" fill="#7a8a22"/><rect x="1047.3" y="176.1" width="3.4" height="3.4" fill="#e0361a"/><rect x="1060.9" y="176.1" width="3.4" height="3.4" fill="#6c8a24"/><rect x="1071.1" y="176.1" width="3.4" height="3.4" fill="#46c82a"/><rect x="1084.7" y="176.1" width="3.4" height="3.4" fill="#46c82a"/><rect x="1091.5" y="176.1" width="3.4" height="3.4" fill="#b04c1e"/><rect x="1094.9" y="176.1" width="3.4" height="3.4" fill="#b04c1e"/><rect x="1098.3" y="176.1" width="3.4" height="3.4" fill="#6c8a24"/><rect x="1101.7" y="176.1" width="3.4" height="3.4" fill="#46c82a"/><rect x="1105.1" y="176.1" width="3.4" height="3.4" fill="#b04c1e"/><rect x="1108.5" y="176.1" width="3.4" height="3.4" fill="#b04c1e"/><rect x="1111.9" y="176.1" width="3.4" height="3.4" fill="#6c8a24"/><rect x="1122.1" y="176.1" width="3.4" height="3.4" fill="#b04c1e"/><rect x="1125.5" y="176.1" width="3.4" height="3.4" fill="#46c82a"/><rect x="1128.9" y="176.1" width="3.4" height="3.4" fill="#46c82a"/><rect x="1132.3" y="176.1" width="3.4" height="3.4" fill="#46c82a"/><rect x="1135.7" y="176.1" width="3.4" height="3.4" fill="#b04c1e"/><rect x="1145.9" y="176.1" width="3.4" height="3.4" fill="#6c8a24"/><rect x="1149.3" y="176.1" width="3.4" height="3.4" fill="#b04c1e"/><rect x="1152.7" y="176.1" width="3.4" height="3.4" fill="#b04c1e"/><rect x="1156.1" y="176.1" width="3.4" height="3.4" fill="#b04c1e"/><rect x="1162.9" y="176.1" width="3.4" height="3.4" fill="#46c82a"/><rect x="1173.1" y="176.1" width="3.4" height="3.4" fill="#b04c1e"/><rect x="1176.5" y="176.1" width="3.4" height="3.4" fill="#e0361a"/><rect x="1179.9" y="176.1" width="3.4" height="3.4" fill="#7a8a22"/><rect x="1190.1" y="176.1" width="3.4" height="3.4" fill="#7a8a22"/><rect x="1196.9" y="176.1" width="3.4" height="3.4" fill="#7a8a22"/><rect x="1200.3" y="176.1" width="3.4" height="3.4" fill="#22f81e"/><rect x="1207.1" y="176.1" width="3.4" height="3.4" fill="#f03018"/><rect x="1020.1" y="179.5" width="3.4" height="3.4" fill="#f03018"/><rect x="1026.9" y="179.5" width="3.4" height="3.4" fill="#f03018"/><rect x="1033.7" y="179.5" width="3.4" height="3.4" fill="#f03018"/><rect x="1037.1" y="179.5" width="3.4" height="3.4" fill="#7a8a22"/><rect x="1050.7" y="179.5" width="3.4" height="3.4" fill="#e0361a"/><rect x="1064.3" y="179.5" width="3.4" height="3.4" fill="#b04c1e"/><rect x="1067.7" y="179.5" width="3.4" height="3.4" fill="#46c82a"/><rect x="1071.1" y="179.5" width="3.4" height="3.4" fill="#46c82a"/><rect x="1074.5" y="179.5" width="3.4" height="3.4" fill="#6c8a24"/><rect x="1088.1" y="179.5" width="3.4" height="3.4" fill="#b04c1e"/><rect x="1091.5" y="179.5" width="3.4" height="3.4" fill="#46c82a"/><rect x="1098.3" y="179.5" width="3.4" height="3.4" fill="#46c82a"/><rect x="1101.7" y="179.5" width="3.4" height="3.4" fill="#46c82a"/><rect x="1105.1" y="179.5" width="3.4" height="3.4" fill="#b04c1e"/><rect x="1108.5" y="179.5" width="3.4" height="3.4" fill="#b04c1e"/><rect x="1111.9" y="179.5" width="3.4" height="3.4" fill="#6c8a24"/><rect x="1118.7" y="179.5" width="3.4" height="3.4" fill="#6c8a24"/><rect x="1125.5" y="179.5" width="3.4" height="3.4" fill="#46c82a"/><rect x="1128.9" y="179.5" width="3.4" height="3.4" fill="#b04c1e"/><rect x="1135.7" y="179.5" width="3.4" height="3.4" fill="#46c82a"/><rect x="1142.5" y="179.5" width="3.4" height="3.4" fill="#46c82a"/><rect x="1145.9" y="179.5" width="3.4" height="3.4" fill="#46c82a"/><rect x="1149.3" y="179.5" width="3.4" height="3.4" fill="#b04c1e"/><rect x="1152.7" y="179.5" width="3.4" height="3.4" fill="#46c82a"/><rect x="1156.1" y="179.5" width="3.4" height="3.4" fill="#46c82a"/><rect x="1159.5" y="179.5" width="3.4" height="3.4" fill="#b04c1e"/><rect x="1162.9" y="179.5" width="3.4" height="3.4" fill="#b04c1e"/><rect x="1169.7" y="179.5" width="3.4" height="3.4" fill="#b04c1e"/><rect x="1186.7" y="179.5" width="3.4" height="3.4" fill="#a8401c"/><rect x="1190.1" y="179.5" width="3.4" height="3.4" fill="#a8401c"/><rect x="1200.3" y="179.5" width="3.4" height="3.4" fill="#22f81e"/><rect x="1203.7" y="179.5" width="3.4" height="3.4" fill="#b83c1c"/><rect x="1207.1" y="179.5" width="3.4" height="3.4" fill="#22f81e"/><rect x="1020.1" y="182.9" width="3.4" height="3.4" fill="#22f81e"/><rect x="1023.5" y="182.9" width="3.4" height="3.4" fill="#22f81e"/><rect x="1030.3" y="182.9" width="3.4" height="3.4" fill="#22f81e"/><rect x="1040.5" y="182.9" width="3.4" height="3.4" fill="#a8401c"/><rect x="1057.5" y="182.9" width="3.4" height="3.4" fill="#a8401c"/><rect x="1064.3" y="182.9" width="3.4" height="3.4" fill="#46c82a"/><rect x="1071.1" y="182.9" width="3.4" height="3.4" fill="#b04c1e"/><rect x="1077.9" y="182.9" width="3.4" height="3.4" fill="#b04c1e"/><rect x="1091.5" y="182.9" width="3.4" height="3.4" fill="#46c82a"/><rect x="1098.3" y="182.9" width="3.4" height="3.4" fill="#b04c1e"/><rect x="1101.7" y="182.9" width="3.4" height="3.4" fill="#46c82a"/><rect x="1115.3" y="182.9" width="3.4" height="3.4" fill="#46c82a"/><rect x="1118.7" y="182.9" width="3.4" height="3.4" fill="#b04c1e"/><rect x="1128.9" y="182.9" width="3.4" height="3.4" fill="#b04c1e"/><rect x="1139.1" y="182.9" width="3.4" height="3.4" fill="#b04c1e"/><rect x="1145.9" y="182.9" width="3.4" height="3.4" fill="#46c82a"/><rect x="1149.3" y="182.9" width="3.4" height="3.4" fill="#b04c1e"/><rect x="1159.5" y="182.9" width="3.4" height="3.4" fill="#b04c1e"/><rect x="1166.3" y="182.9" width="3.4" height="3.4" fill="#46c82a"/><rect x="1173.1" y="182.9" width="3.4" height="3.4" fill="#b04c1e"/><rect x="1176.5" y="182.9" width="3.4" height="3.4" fill="#7a8a22"/><rect x="1207.1" y="182.9" width="3.4" height="3.4" fill="#f03018"/><rect x="1210.5" y="182.9" width="3.4" height="3.4" fill="#f03018"/><rect x="1213.9" y="182.9" width="3.4" height="3.4" fill="#22f81e"/><rect x="1224.1" y="182.9" width="3.4" height="3.4" fill="#b83c1c"/><rect x="1020.1" y="186.3" width="3.4" height="3.4" fill="#f03018"/><rect x="1023.5" y="186.3" width="3.4" height="3.4" fill="#f03018"/><rect x="1026.9" y="186.3" width="3.4" height="3.4" fill="#f03018"/><rect x="1030.3" y="186.3" width="3.4" height="3.4" fill="#f03018"/><rect x="1040.5" y="186.3" width="3.4" height="3.4" fill="#a8401c"/><rect x="1043.9" y="186.3" width="3.4" height="3.4" fill="#e0361a"/><rect x="1047.3" y="186.3" width="3.4" height="3.4" fill="#e0361a"/><rect x="1057.5" y="186.3" width="3.4" height="3.4" fill="#e0361a"/><rect x="1060.9" y="186.3" width="3.4" height="3.4" fill="#b04c1e"/><rect x="1088.1" y="186.3" width="3.4" height="3.4" fill="#46c82a"/><rect x="1098.3" y="186.3" width="3.4" height="3.4" fill="#46c82a"/><rect x="1105.1" y="186.3" width="3.4" height="3.4" fill="#b04c1e"/><rect x="1111.9" y="186.3" width="3.4" height="3.4" fill="#46c82a"/><rect x="1115.3" y="186.3" width="3.4" height="3.4" fill="#46c82a"/><rect x="1142.5" y="186.3" width="3.4" height="3.4" fill="#b04c1e"/><rect x="1156.1" y="186.3" width="3.4" height="3.4" fill="#b04c1e"/><rect x="1159.5" y="186.3" width="3.4" height="3.4" fill="#b04c1e"/><rect x="1196.9" y="186.3" width="3.4" height="3.4" fill="#a8401c"/><rect x="1210.5" y="186.3" width="3.4" height="3.4" fill="#22f81e"/><rect x="1213.9" y="186.3" width="3.4" height="3.4" fill="#f03018"/><rect x="1217.3" y="186.3" width="3.4" height="3.4" fill="#22f81e"/><rect x="1224.1" y="186.3" width="3.4" height="3.4" fill="#22f81e"/><rect x="1020.1" y="189.7" width="3.4" height="3.4" fill="#f03018"/><rect x="1023.5" y="189.7" width="3.4" height="3.4" fill="#f03018"/><rect x="1026.9" y="189.7" width="3.4" height="3.4" fill="#22f81e"/><rect x="1030.3" y="189.7" width="3.4" height="3.4" fill="#f03018"/><rect x="1033.7" y="189.7" width="3.4" height="3.4" fill="#f03018"/><rect x="1037.1" y="189.7" width="3.4" height="3.4" fill="#e0361a"/><rect x="1054.1" y="189.7" width="3.4" height="3.4" fill="#a8401c"/><rect x="1071.1" y="189.7" width="3.4" height="3.4" fill="#46c82a"/><rect x="1074.5" y="189.7" width="3.4" height="3.4" fill="#46c82a"/><rect x="1077.9" y="189.7" width="3.4" height="3.4" fill="#b04c1e"/><rect x="1084.7" y="189.7" width="3.4" height="3.4" fill="#b04c1e"/><rect x="1118.7" y="189.7" width="3.4" height="3.4" fill="#b04c1e"/><rect x="1135.7" y="189.7" width="3.4" height="3.4" fill="#46c82a"/><rect x="1139.1" y="189.7" width="3.4" height="3.4" fill="#b04c1e"/><rect x="1173.1" y="189.7" width="3.4" height="3.4" fill="#6c8a24"/><rect x="1176.5" y="189.7" width="3.4" height="3.4" fill="#a8401c"/><rect x="1179.9" y="189.7" width="3.4" height="3.4" fill="#7a8a22"/><rect x="1183.3" y="189.7" width="3.4" height="3.4" fill="#7a8a22"/><rect x="1193.5" y="189.7" width="3.4" height="3.4" fill="#e0361a"/><rect x="1200.3" y="189.7" width="3.4" height="3.4" fill="#f03018"/><rect x="1203.7" y="189.7" width="3.4" height="3.4" fill="#f03018"/><rect x="1207.1" y="189.7" width="3.4" height="3.4" fill="#22f81e"/><rect x="1210.5" y="189.7" width="3.4" height="3.4" fill="#f03018"/><rect x="1217.3" y="189.7" width="3.4" height="3.4" fill="#22f81e"/><rect x="1224.1" y="189.7" width="3.4" height="3.4" fill="#b83c1c"/><rect x="1020.1" y="193.1" width="3.4" height="3.4" fill="#f03018"/><rect x="1023.5" y="193.1" width="3.4" height="3.4" fill="#22f81e"/><rect x="1026.9" y="193.1" width="3.4" height="3.4" fill="#f03018"/><rect x="1030.3" y="193.1" width="3.4" height="3.4" fill="#f03018"/><rect x="1033.7" y="193.1" width="3.4" height="3.4" fill="#f03018"/><rect x="1040.5" y="193.1" width="3.4" height="3.4" fill="#e0361a"/><rect x="1050.7" y="193.1" width="3.4" height="3.4" fill="#e0361a"/><rect x="1057.5" y="193.1" width="3.4" height="3.4" fill="#a8401c"/><rect x="1060.9" y="193.1" width="3.4" height="3.4" fill="#46c82a"/><rect x="1064.3" y="193.1" width="3.4" height="3.4" fill="#46c82a"/><rect x="1088.1" y="193.1" width="3.4" height="3.4" fill="#b04c1e"/><rect x="1091.5" y="193.1" width="3.4" height="3.4" fill="#b04c1e"/><rect x="1108.5" y="193.1" width="3.4" height="3.4" fill="#b04c1e"/><rect x="1122.1" y="193.1" width="3.4" height="3.4" fill="#b04c1e"/><rect x="1132.3" y="193.1" width="3.4" height="3.4" fill="#46c82a"/><rect x="1139.1" y="193.1" width="3.4" height="3.4" fill="#6c8a24"/><rect x="1142.5" y="193.1" width="3.4" height="3.4" fill="#b04c1e"/><rect x="1149.3" y="193.1" width="3.4" height="3.4" fill="#46c82a"/><rect x="1152.7" y="193.1" width="3.4" height="3.4" fill="#46c82a"/><rect x="1156.1" y="193.1" width="3.4" height="3.4" fill="#46c82a"/><rect x="1162.9" y="193.1" width="3.4" height="3.4" fill="#46c82a"/><rect x="1183.3" y="193.1" width="3.4" height="3.4" fill="#e0361a"/><rect x="1190.1" y="193.1" width="3.4" height="3.4" fill="#a8401c"/><rect x="1196.9" y="193.1" width="3.4" height="3.4" fill="#a8401c"/><rect x="1200.3" y="193.1" width="3.4" height="3.4" fill="#f03018"/><rect x="1207.1" y="193.1" width="3.4" height="3.4" fill="#f03018"/><rect x="1213.9" y="193.1" width="3.4" height="3.4" fill="#22f81e"/><rect x="1217.3" y="193.1" width="3.4" height="3.4" fill="#f03018"/><rect x="1224.1" y="193.1" width="3.4" height="3.4" fill="#f03018"/><rect x="1026.9" y="196.5" width="3.4" height="3.4" fill="#22f81e"/><rect x="1030.3" y="196.5" width="3.4" height="3.4" fill="#22f81e"/><rect x="1033.7" y="196.5" width="3.4" height="3.4" fill="#f03018"/><rect x="1040.5" y="196.5" width="3.4" height="3.4" fill="#a8401c"/><rect x="1054.1" y="196.5" width="3.4" height="3.4" fill="#a8401c"/><rect x="1064.3" y="196.5" width="3.4" height="3.4" fill="#46c82a"/><rect x="1074.5" y="196.5" width="3.4" height="3.4" fill="#6c8a24"/><rect x="1081.3" y="196.5" width="3.4" height="3.4" fill="#46c82a"/><rect x="1084.7" y="196.5" width="3.4" height="3.4" fill="#46c82a"/><rect x="1091.5" y="196.5" width="3.4" height="3.4" fill="#46c82a"/><rect x="1098.3" y="196.5" width="3.4" height="3.4" fill="#46c82a"/><rect x="1101.7" y="196.5" width="3.4" height="3.4" fill="#b04c1e"/><rect x="1105.1" y="196.5" width="3.4" height="3.4" fill="#b04c1e"/><rect x="1122.1" y="196.5" width="3.4" height="3.4" fill="#b04c1e"/><rect x="1125.5" y="196.5" width="3.4" height="3.4" fill="#b04c1e"/><rect x="1128.9" y="196.5" width="3.4" height="3.4" fill="#b04c1e"/><rect x="1142.5" y="196.5" width="3.4" height="3.4" fill="#46c82a"/><rect x="1145.9" y="196.5" width="3.4" height="3.4" fill="#46c82a"/><rect x="1149.3" y="196.5" width="3.4" height="3.4" fill="#46c82a"/><rect x="1152.7" y="196.5" width="3.4" height="3.4" fill="#b04c1e"/><rect x="1156.1" y="196.5" width="3.4" height="3.4" fill="#b04c1e"/><rect x="1162.9" y="196.5" width="3.4" height="3.4" fill="#6c8a24"/><rect x="1166.3" y="196.5" width="3.4" height="3.4" fill="#46c82a"/><rect x="1173.1" y="196.5" width="3.4" height="3.4" fill="#7a8a22"/><rect x="1183.3" y="196.5" width="3.4" height="3.4" fill="#a8401c"/><rect x="1186.7" y="196.5" width="3.4" height="3.4" fill="#a8401c"/><rect x="1196.9" y="196.5" width="3.4" height="3.4" fill="#a8401c"/><rect x="1203.7" y="196.5" width="3.4" height="3.4" fill="#f03018"/><rect x="1217.3" y="196.5" width="3.4" height="3.4" fill="#f03018"/><rect x="1220.7" y="196.5" width="3.4" height="3.4" fill="#f03018"/><rect x="1026.9" y="199.9" width="3.4" height="3.4" fill="#22f81e"/><rect x="1030.3" y="199.9" width="3.4" height="3.4" fill="#f03018"/><rect x="1033.7" y="199.9" width="3.4" height="3.4" fill="#b83c1c"/><rect x="1037.1" y="199.9" width="3.4" height="3.4" fill="#a8401c"/><rect x="1040.5" y="199.9" width="3.4" height="3.4" fill="#e0361a"/><rect x="1043.9" y="199.9" width="3.4" height="3.4" fill="#a8401c"/><rect x="1050.7" y="199.9" width="3.4" height="3.4" fill="#7a8a22"/><rect x="1054.1" y="199.9" width="3.4" height="3.4" fill="#a8401c"/><rect x="1057.5" y="199.9" width="3.4" height="3.4" fill="#7a8a22"/><rect x="1060.9" y="199.9" width="3.4" height="3.4" fill="#46c82a"/><rect x="1064.3" y="199.9" width="3.4" height="3.4" fill="#6c8a24"/><rect x="1074.5" y="199.9" width="3.4" height="3.4" fill="#b04c1e"/><rect x="1081.3" y="199.9" width="3.4" height="3.4" fill="#b04c1e"/><rect x="1091.5" y="199.9" width="3.4" height="3.4" fill="#46c82a"/><rect x="1098.3" y="199.9" width="3.4" height="3.4" fill="#46c82a"/><rect x="1101.7" y="199.9" width="3.4" height="3.4" fill="#6c8a24"/><rect x="1108.5" y="199.9" width="3.4" height="3.4" fill="#b04c1e"/><rect x="1128.9" y="199.9" width="3.4" height="3.4" fill="#46c82a"/><rect x="1132.3" y="199.9" width="3.4" height="3.4" fill="#b04c1e"/><rect x="1139.1" y="199.9" width="3.4" height="3.4" fill="#46c82a"/><rect x="1145.9" y="199.9" width="3.4" height="3.4" fill="#b04c1e"/><rect x="1152.7" y="199.9" width="3.4" height="3.4" fill="#6c8a24"/><rect x="1156.1" y="199.9" width="3.4" height="3.4" fill="#b04c1e"/><rect x="1159.5" y="199.9" width="3.4" height="3.4" fill="#b04c1e"/><rect x="1179.9" y="199.9" width="3.4" height="3.4" fill="#e0361a"/><rect x="1190.1" y="199.9" width="3.4" height="3.4" fill="#e0361a"/><rect x="1193.5" y="199.9" width="3.4" height="3.4" fill="#a8401c"/><rect x="1196.9" y="199.9" width="3.4" height="3.4" fill="#a8401c"/><rect x="1200.3" y="199.9" width="3.4" height="3.4" fill="#f03018"/><rect x="1210.5" y="199.9" width="3.4" height="3.4" fill="#22f81e"/><rect x="1213.9" y="199.9" width="3.4" height="3.4" fill="#f03018"/><rect x="1220.7" y="199.9" width="3.4" height="3.4" fill="#f03018"/><rect x="1224.1" y="199.9" width="3.4" height="3.4" fill="#f03018"/><rect x="1033.7" y="203.3" width="3.4" height="3.4" fill="#f03018"/><rect x="1037.1" y="203.3" width="3.4" height="3.4" fill="#7a8a22"/><rect x="1040.5" y="203.3" width="3.4" height="3.4" fill="#a8401c"/><rect x="1047.3" y="203.3" width="3.4" height="3.4" fill="#a8401c"/><rect x="1077.9" y="203.3" width="3.4" height="3.4" fill="#46c82a"/><rect x="1081.3" y="203.3" width="3.4" height="3.4" fill="#46c82a"/><rect x="1084.7" y="203.3" width="3.4" height="3.4" fill="#b04c1e"/><rect x="1098.3" y="203.3" width="3.4" height="3.4" fill="#46c82a"/><rect x="1101.7" y="203.3" width="3.4" height="3.4" fill="#6c8a24"/><rect x="1122.1" y="203.3" width="3.4" height="3.4" fill="#46c82a"/><rect x="1128.9" y="203.3" width="3.4" height="3.4" fill="#b04c1e"/><rect x="1142.5" y="203.3" width="3.4" height="3.4" fill="#b04c1e"/><rect x="1149.3" y="203.3" width="3.4" height="3.4" fill="#b04c1e"/><rect x="1156.1" y="203.3" width="3.4" height="3.4" fill="#b04c1e"/><rect x="1159.5" y="203.3" width="3.4" height="3.4" fill="#6c8a24"/><rect x="1179.9" y="203.3" width="3.4" height="3.4" fill="#a8401c"/><rect x="1193.5" y="203.3" width="3.4" height="3.4" fill="#a8401c"/><rect x="1200.3" y="203.3" width="3.4" height="3.4" fill="#f03018"/><rect x="1203.7" y="203.3" width="3.4" height="3.4" fill="#f03018"/><rect x="1207.1" y="203.3" width="3.4" height="3.4" fill="#f03018"/><rect x="1210.5" y="203.3" width="3.4" height="3.4" fill="#22f81e"/><rect x="1213.9" y="203.3" width="3.4" height="3.4" fill="#f03018"/><rect x="1023.5" y="206.7" width="3.4" height="3.4" fill="#f03018"/><rect x="1026.9" y="206.7" width="3.4" height="3.4" fill="#f03018"/><rect x="1043.9" y="206.7" width="3.4" height="3.4" fill="#a8401c"/><rect x="1047.3" y="206.7" width="3.4" height="3.4" fill="#e0361a"/><rect x="1064.3" y="206.7" width="3.4" height="3.4" fill="#46c82a"/><rect x="1067.7" y="206.7" width="3.4" height="3.4" fill="#b04c1e"/><rect x="1074.5" y="206.7" width="3.4" height="3.4" fill="#6c8a24"/><rect x="1081.3" y="206.7" width="3.4" height="3.4" fill="#46c82a"/><rect x="1084.7" y="206.7" width="3.4" height="3.4" fill="#46c82a"/><rect x="1088.1" y="206.7" width="3.4" height="3.4" fill="#b04c1e"/><rect x="1091.5" y="206.7" width="3.4" height="3.4" fill="#b04c1e"/><rect x="1101.7" y="206.7" width="3.4" height="3.4" fill="#b04c1e"/><rect x="1105.1" y="206.7" width="3.4" height="3.4" fill="#b04c1e"/><rect x="1111.9" y="206.7" width="3.4" height="3.4" fill="#46c82a"/><rect x="1125.5" y="206.7" width="3.4" height="3.4" fill="#46c82a"/><rect x="1132.3" y="206.7" width="3.4" height="3.4" fill="#46c82a"/><rect x="1139.1" y="206.7" width="3.4" height="3.4" fill="#46c82a"/><rect x="1152.7" y="206.7" width="3.4" height="3.4" fill="#46c82a"/><rect x="1162.9" y="206.7" width="3.4" height="3.4" fill="#46c82a"/><rect x="1169.7" y="206.7" width="3.4" height="3.4" fill="#46c82a"/><rect x="1173.1" y="206.7" width="3.4" height="3.4" fill="#a8401c"/><rect x="1176.5" y="206.7" width="3.4" height="3.4" fill="#a8401c"/><rect x="1183.3" y="206.7" width="3.4" height="3.4" fill="#e0361a"/><rect x="1186.7" y="206.7" width="3.4" height="3.4" fill="#a8401c"/><rect x="1193.5" y="206.7" width="3.4" height="3.4" fill="#a8401c"/><rect x="1200.3" y="206.7" width="3.4" height="3.4" fill="#f03018"/><rect x="1203.7" y="206.7" width="3.4" height="3.4" fill="#b83c1c"/><rect x="1023.5" y="210.1" width="3.4" height="3.4" fill="#f03018"/><rect x="1026.9" y="210.1" width="3.4" height="3.4" fill="#22f81e"/><rect x="1033.7" y="210.1" width="3.4" height="3.4" fill="#f03018"/><rect x="1047.3" y="210.1" width="3.4" height="3.4" fill="#e0361a"/><rect x="1050.7" y="210.1" width="3.4" height="3.4" fill="#a8401c"/><rect x="1088.1" y="210.1" width="3.4" height="3.4" fill="#46c82a"/><rect x="1091.5" y="210.1" width="3.4" height="3.4" fill="#b04c1e"/><rect x="1094.9" y="210.1" width="3.4" height="3.4" fill="#6c8a24"/><rect x="1105.1" y="210.1" width="3.4" height="3.4" fill="#46c82a"/><rect x="1118.7" y="210.1" width="3.4" height="3.4" fill="#b04c1e"/><rect x="1125.5" y="210.1" width="3.4" height="3.4" fill="#b04c1e"/><rect x="1128.9" y="210.1" width="3.4" height="3.4" fill="#46c82a"/><rect x="1132.3" y="210.1" width="3.4" height="3.4" fill="#46c82a"/><rect x="1135.7" y="210.1" width="3.4" height="3.4" fill="#46c82a"/><rect x="1139.1" y="210.1" width="3.4" height="3.4" fill="#b04c1e"/><rect x="1142.5" y="210.1" width="3.4" height="3.4" fill="#b04c1e"/><rect x="1149.3" y="210.1" width="3.4" height="3.4" fill="#b04c1e"/><rect x="1169.7" y="210.1" width="3.4" height="3.4" fill="#46c82a"/><rect x="1179.9" y="210.1" width="3.4" height="3.4" fill="#e0361a"/><rect x="1203.7" y="210.1" width="3.4" height="3.4" fill="#f03018"/><rect x="1207.1" y="210.1" width="3.4" height="3.4" fill="#22f81e"/><rect x="1210.5" y="210.1" width="3.4" height="3.4" fill="#22f81e"/><rect x="1220.7" y="210.1" width="3.4" height="3.4" fill="#f03018"/><rect x="1023.5" y="213.5" width="3.4" height="3.4" fill="#22f81e"/><rect x="1033.7" y="213.5" width="3.4" height="3.4" fill="#22f81e"/><rect x="1037.1" y="213.5" width="3.4" height="3.4" fill="#a8401c"/><rect x="1040.5" y="213.5" width="3.4" height="3.4" fill="#a8401c"/><rect x="1081.3" y="213.5" width="3.4" height="3.4" fill="#b04c1e"/><rect x="1091.5" y="213.5" width="3.4" height="3.4" fill="#6c8a24"/><rect x="1101.7" y="213.5" width="3.4" height="3.4" fill="#b04c1e"/><rect x="1108.5" y="213.5" width="3.4" height="3.4" fill="#46c82a"/><rect x="1111.9" y="213.5" width="3.4" height="3.4" fill="#b04c1e"/><rect x="1118.7" y="213.5" width="3.4" height="3.4" fill="#b04c1e"/><rect x="1125.5" y="213.5" width="3.4" height="3.4" fill="#b04c1e"/><rect x="1135.7" y="213.5" width="3.4" height="3.4" fill="#b04c1e"/><rect x="1142.5" y="213.5" width="3.4" height="3.4" fill="#b04c1e"/><rect x="1162.9" y="213.5" width="3.4" height="3.4" fill="#b04c1e"/><rect x="1166.3" y="213.5" width="3.4" height="3.4" fill="#46c82a"/><rect x="1176.5" y="213.5" width="3.4" height="3.4" fill="#a8401c"/><rect x="1196.9" y="213.5" width="3.4" height="3.4" fill="#7a8a22"/><rect x="1207.1" y="213.5" width="3.4" height="3.4" fill="#f03018"/><rect x="1210.5" y="213.5" width="3.4" height="3.4" fill="#22f81e"/><rect x="1217.3" y="213.5" width="3.4" height="3.4" fill="#f03018"/><rect x="1224.1" y="213.5" width="3.4" height="3.4" fill="#22f81e"/><rect x="1020.1" y="216.9" width="3.4" height="3.4" fill="#f03018"/><rect x="1023.5" y="216.9" width="3.4" height="3.4" fill="#f03018"/><rect x="1026.9" y="216.9" width="3.4" height="3.4" fill="#f03018"/><rect x="1030.3" y="216.9" width="3.4" height="3.4" fill="#22f81e"/><rect x="1033.7" y="216.9" width="3.4" height="3.4" fill="#22f81e"/><rect x="1040.5" y="216.9" width="3.4" height="3.4" fill="#e0361a"/><rect x="1057.5" y="216.9" width="3.4" height="3.4" fill="#e0361a"/><rect x="1067.7" y="216.9" width="3.4" height="3.4" fill="#46c82a"/><rect x="1071.1" y="216.9" width="3.4" height="3.4" fill="#46c82a"/><rect x="1077.9" y="216.9" width="3.4" height="3.4" fill="#6c8a24"/><rect x="1084.7" y="216.9" width="3.4" height="3.4" fill="#46c82a"/><rect x="1091.5" y="216.9" width="3.4" height="3.4" fill="#46c82a"/><rect x="1098.3" y="216.9" width="3.4" height="3.4" fill="#6c8a24"/><rect x="1101.7" y="216.9" width="3.4" height="3.4" fill="#6c8a24"/><rect x="1125.5" y="216.9" width="3.4" height="3.4" fill="#b04c1e"/><rect x="1132.3" y="216.9" width="3.4" height="3.4" fill="#b04c1e"/><rect x="1135.7" y="216.9" width="3.4" height="3.4" fill="#b04c1e"/><rect x="1142.5" y="216.9" width="3.4" height="3.4" fill="#46c82a"/><rect x="1145.9" y="216.9" width="3.4" height="3.4" fill="#b04c1e"/><rect x="1149.3" y="216.9" width="3.4" height="3.4" fill="#b04c1e"/><rect x="1159.5" y="216.9" width="3.4" height="3.4" fill="#b04c1e"/><rect x="1162.9" y="216.9" width="3.4" height="3.4" fill="#b04c1e"/><rect x="1166.3" y="216.9" width="3.4" height="3.4" fill="#b04c1e"/><rect x="1169.7" y="216.9" width="3.4" height="3.4" fill="#b04c1e"/><rect x="1173.1" y="216.9" width="3.4" height="3.4" fill="#7a8a22"/><rect x="1200.3" y="216.9" width="3.4" height="3.4" fill="#f03018"/><rect x="1203.7" y="216.9" width="3.4" height="3.4" fill="#22f81e"/><rect x="1207.1" y="216.9" width="3.4" height="3.4" fill="#22f81e"/><rect x="1210.5" y="216.9" width="3.4" height="3.4" fill="#f03018"/><rect x="1217.3" y="216.9" width="3.4" height="3.4" fill="#22f81e"/><rect x="1220.7" y="216.9" width="3.4" height="3.4" fill="#f03018"/><rect x="1224.1" y="216.9" width="3.4" height="3.4" fill="#22f81e"/><rect x="1023.5" y="220.3" width="3.4" height="3.4" fill="#f03018"/><rect x="1030.3" y="220.3" width="3.4" height="3.4" fill="#f03018"/><rect x="1033.7" y="220.3" width="3.4" height="3.4" fill="#f03018"/><rect x="1037.1" y="220.3" width="3.4" height="3.4" fill="#e0361a"/><rect x="1047.3" y="220.3" width="3.4" height="3.4" fill="#e0361a"/><rect x="1064.3" y="220.3" width="3.4" height="3.4" fill="#46c82a"/><rect x="1077.9" y="220.3" width="3.4" height="3.4" fill="#b04c1e"/><rect x="1081.3" y="220.3" width="3.4" height="3.4" fill="#b04c1e"/><rect x="1088.1" y="220.3" width="3.4" height="3.4" fill="#b04c1e"/><rect x="1091.5" y="220.3" width="3.4" height="3.4" fill="#b04c1e"/><rect x="1094.9" y="220.3" width="3.4" height="3.4" fill="#b04c1e"/><rect x="1101.7" y="220.3" width="3.4" height="3.4" fill="#b04c1e"/><rect x="1105.1" y="220.3" width="3.4" height="3.4" fill="#46c82a"/><rect x="1115.3" y="220.3" width="3.4" height="3.4" fill="#b04c1e"/><rect x="1145.9" y="220.3" width="3.4" height="3.4" fill="#46c82a"/><rect x="1152.7" y="220.3" width="3.4" height="3.4" fill="#b04c1e"/><rect x="1156.1" y="220.3" width="3.4" height="3.4" fill="#b04c1e"/><rect x="1162.9" y="220.3" width="3.4" height="3.4" fill="#b04c1e"/><rect x="1169.7" y="220.3" width="3.4" height="3.4" fill="#46c82a"/><rect x="1200.3" y="220.3" width="3.4" height="3.4" fill="#f03018"/><rect x="1213.9" y="220.3" width="3.4" height="3.4" fill="#f03018"/><rect x="1217.3" y="220.3" width="3.4" height="3.4" fill="#22f81e"/><rect x="1220.7" y="220.3" width="3.4" height="3.4" fill="#101010"/><rect x="1020.1" y="223.7" width="3.4" height="3.4" fill="#f03018"/><rect x="1023.5" y="223.7" width="3.4" height="3.4" fill="#22f81e"/><rect x="1026.9" y="223.7" width="3.4" height="3.4" fill="#22f81e"/><rect x="1030.3" y="223.7" width="3.4" height="3.4" fill="#f03018"/><rect x="1037.1" y="223.7" width="3.4" height="3.4" fill="#e0361a"/><rect x="1043.9" y="223.7" width="3.4" height="3.4" fill="#e0361a"/><rect x="1057.5" y="223.7" width="3.4" height="3.4" fill="#6c8a24"/><rect x="1067.7" y="223.7" width="3.4" height="3.4" fill="#b04c1e"/><rect x="1074.5" y="223.7" width="3.4" height="3.4" fill="#46c82a"/><rect x="1077.9" y="223.7" width="3.4" height="3.4" fill="#46c82a"/><rect x="1091.5" y="223.7" width="3.4" height="3.4" fill="#b04c1e"/><rect x="1098.3" y="223.7" width="3.4" height="3.4" fill="#b04c1e"/><rect x="1101.7" y="223.7" width="3.4" height="3.4" fill="#46c82a"/><rect x="1105.1" y="223.7" width="3.4" height="3.4" fill="#b04c1e"/><rect x="1108.5" y="223.7" width="3.4" height="3.4" fill="#b04c1e"/><rect x="1118.7" y="223.7" width="3.4" height="3.4" fill="#46c82a"/><rect x="1122.1" y="223.7" width="3.4" height="3.4" fill="#b04c1e"/><rect x="1132.3" y="223.7" width="3.4" height="3.4" fill="#b04c1e"/><rect x="1139.1" y="223.7" width="3.4" height="3.4" fill="#b04c1e"/><rect x="1142.5" y="223.7" width="3.4" height="3.4" fill="#46c82a"/><rect x="1152.7" y="223.7" width="3.4" height="3.4" fill="#46c82a"/><rect x="1169.7" y="223.7" width="3.4" height="3.4" fill="#b04c1e"/><rect x="1173.1" y="223.7" width="3.4" height="3.4" fill="#a8401c"/><rect x="1176.5" y="223.7" width="3.4" height="3.4" fill="#e0361a"/><rect x="1200.3" y="223.7" width="3.4" height="3.4" fill="#22f81e"/><rect x="1207.1" y="223.7" width="3.4" height="3.4" fill="#22f81e"/></g>
</g>
<text x="1027.5" y="245.8" font-size="16.3" fill="#222" textLength="189.5" lengthAdjust="spacingAndGlyphs">RG Relative composition</text>
<text x="1073.8" y="268.4" font-size="16.8" fill="#222" textLength="97.5" lengthAdjust="spacingAndGlyphs">R = Fe, G = O</text>
<path d="M811,138.2L1044.6,76.0" stroke="#ff2a0a" stroke-width="6" fill="none"/><path d="M1022.9,70.9L1046.5,75.5L1028.4,91.2" stroke="#ff2a0a" stroke-width="6.5" fill="none" stroke-linejoin="miter" stroke-miterlimit="10"/>
<path d="M811,139.2L1180.0,88.3" stroke="#ff2a0a" stroke-width="6" fill="none"/><path d="M1157.6,79.0L1182,88L1160.9,103.2" stroke="#ff2a0a" stroke-width="6.5" fill="none" stroke-linejoin="miter" stroke-miterlimit="10"/>
<text x="662.2" y="77.8" font-size="55.5" fill="#fff">c)</text>
<text x="721.3" y="138.3" font-size="32.7" fill="#fff" text-anchor="middle">Connection</text>
<text x="721.3" y="176.6" font-size="32.7" fill="#fff" text-anchor="middle">bridges</text>
<text x="652.9" y="565.2" font-size="41.2" fill="#fff">50</text><text x="706.5" y="565.2" font-size="40.5" fill="#fff">nm</text>
<rect x="653.9" y="576.8" width="101.3" height="12" fill="#fff"/>
</g>
<g stroke="#3a3a3a" stroke-width="2.2" fill="none">
<rect x="320" y="660.5" width="790.4" height="551.5"/>
<path d="M319.4,1212v-11M319.4,660.5v11M398.5,1212v-6M398.5,660.5v6M477.6,1212v-11M477.6,660.5v11M556.7,1212v-6M556.7,660.5v6M635.8,1212v-11M635.8,660.5v11M714.9,1212v-6M714.9,660.5v6M794.1,1212v-11M794.1,660.5v11M873.2,1212v-6M873.2,660.5v6M952.3,1212v-11M952.3,660.5v11M1031.4,1212v-6M1031.4,660.5v6M1110.5,1212v-11M1110.5,660.5v11M320,1212.0h11M1110.4,1212.0h-11M320,1120.1h6M1110.4,1120.1h-6M320,1028.2h11M1110.4,1028.2h-11M320,936.2h6M1110.4,936.2h-6M320,844.3h11M1110.4,844.3h-11M320,752.4h6M1110.4,752.4h-6M320,660.5h11M1110.4,660.5h-11"/>
</g>
<g font-size="34.5" fill="#000" text-anchor="middle">
<text x="319.4" y="1251">0</text>
<text x="477.6" y="1251">20</text>
<text x="635.8" y="1251">40</text>
<text x="794.1" y="1251">60</text>
<text x="952.3" y="1251">80</text>
<text x="1110.5" y="1251">100</text>
</g>
<g font-size="34" fill="#000">
<text x="195.9" y="673">1.5x10</text><text x="297.3" y="655" font-size="20">5</text>
<text x="195.9" y="857.2">1.0x10</text><text x="297.3" y="838.3" font-size="20">5</text>
<text x="194.5" y="1041.8">5.0x10</text><text x="297.3" y="1022.5" font-size="20">4</text>
<text x="260.6" y="1219">0.0</text>
</g>
<text x="585.5" y="1315" font-size="44.3" fill="#000">Position (nm)</text>
<text transform="translate(136,1103.5) rotate(-90)" x="0" y="0" font-size="44.9" fill="#000">Intensity (a.u.)</text>
<g stroke-width="1.6">
<path d="M327,689H403" stroke="#a8a8a8"/><path d="M327,730.5H403" stroke="#f09a90"/><path d="M327,772H403" stroke="#a6eea6"/>
</g>
<rect x="357.9" y="681.6" width="14.6" height="14.6" fill="#000"/>
<circle cx="365.2" cy="730.9" r="8.2" fill="#ff2a0a"/>
<path d="M365.4,762.1L374.3,778.6L356.5,778.6Z" fill="#12f512"/>
<g font-size="34" fill="#000"><text x="411.8" y="700">HAADF</text><text x="411.8" y="741.8">Fe</text><text x="411.8" y="783.5">O</text></g>
<text x="1017.5" y="734.8" font-size="54" fill="#000">b)</text>
<g fill-rule="evenodd" stroke="#ff2a0a" stroke-width="2.8">
<path d="M487.8,937.8a215.8,215.8 0 1,0 431.6,0a215.8,215.8 0 1,0 -431.6,0ZM521.7,937.8a181.9,181.9 0 1,0 363.8,0a181.9,181.9 0 1,0 -363.8,0Z" fill="#e0bebe" filter="url(#sh)"/>
<path d="M521.7,937.8a181.9,181.9 0 1,0 363.8,0a181.9,181.9 0 1,0 -363.8,0ZM558.7,937.8a144.9,144.9 0 1,0 289.8,0a144.9,144.9 0 1,0 -289.8,0Z" fill="#a3d9c0" filter="url(#sh)"/>
<path d="M558.7,937.8a144.9,144.9 0 1,0 289.8,0a144.9,144.9 0 1,0 -289.8,0ZM621.2,937.8a82.4,82.4 0 1,0 164.8,0a82.4,82.4 0 1,0 -164.8,0Z" fill="#e0bebe" filter="url(#sh)"/>
</g>
<g clip-path="url(#pc)">
<polyline points="325.7,1210.2 337.8,1210.6 349.9,1210.0 362.1,1210.2 374.2,1210.8 386.3,1210.2 398.4,1210.5 410.5,1210.1 422.7,1210.3 434.8,1210.5 446.9,1210.7 459.0,1210.8 471.1,1196.0 483.3,1080.3 495.4,975.0 507.5,885.0 519.6,875.3 531.7,912.5 543.9,903.5 556.0,871.9 568.1,830.5 580.2,808.6 592.3,782.6 604.5,778.0 616.6,834.1 628.7,903.5 640.8,938.4 652.9,944.2 665.1,962.2 677.2,953.8 689.3,957.0 701.4,932.0 713.5,950.0 725.7,944.2 737.8,938.4 749.9,940.3 762.0,909.5 774.1,881.0 786.3,838.0 798.4,796.2 810.5,779.2 822.6,779.9 834.7,818.8 846.9,866.2 859.0,894.5 871.1,935.5 883.2,908.0 895.3,931.5 907.5,936.3 919.6,981.0 931.7,1057.0 943.8,1173.6 955.9,1204.0 968.1,1210.9 980.2,1210.2 992.3,1210.6 1004.4,1210.4 1016.5,1210.6 1028.7,1210.9 1040.8,1210.7 1052.9,1211.0 1065.0,1210.7 1077.1,1210.6 1089.3,1210.9 1101.4,1210.8" fill="none" stroke="#585858" stroke-width="1"/>
<rect x="318.4" y="1202.9" width="14.6" height="14.6"/>
<rect x="330.5" y="1203.3" width="14.6" height="14.6"/>
<rect x="342.6" y="1202.7" width="14.6" height="14.6"/>
<rect x="354.8" y="1202.9" width="14.6" height="14.6"/>
<rect x="366.9" y="1203.5" width="14.6" height="14.6"/>
<rect x="379.0" y="1202.9" width="14.6" height="14.6"/>
<rect x="391.1" y="1203.2" width="14.6" height="14.6"/>
<rect x="403.2" y="1202.8" width="14.6" height="14.6"/>
<rect x="415.4" y="1203.0" width="14.6" height="14.6"/>
<rect x="427.5" y="1203.2" width="14.6" height="14.6"/>
<rect x="439.6" y="1203.4" width="14.6" height="14.6"/>
<rect x="451.7" y="1203.5" width="14.6" height="14.6"/>
<rect x="463.8" y="1188.7" width="14.6" height="14.6"/>
<rect x="476.0" y="1073.0" width="14.6" height="14.6"/>
<rect x="488.1" y="967.7" width="14.6" height="14.6"/>
<rect x="500.2" y="877.7" width="14.6" height="14.6"/>
<rect x="512.3" y="868.0" width="14.6" height="14.6"/>
<rect x="524.4" y="905.2" width="14.6" height="14.6"/>
<rect x="536.6" y="896.2" width="14.6" height="14.6"/>
<rect x="548.7" y="864.6" width="14.6" height="14.6"/>
<rect x="560.8" y="823.2" width="14.6" height="14.6"/>
<rect x="572.9" y="801.3" width="14.6" height="14.6"/>
<rect x="585.0" y="775.3" width="14.6" height="14.6"/>
<rect x="597.2" y="770.7" width="14.6" height="14.6"/>
<rect x="609.3" y="826.8" width="14.6" height="14.6"/>
<rect x="621.4" y="896.2" width="14.6" height="14.6"/>
<rect x="633.5" y="931.1" width="14.6" height="14.6"/>
<rect x="645.6" y="936.9" width="14.6" height="14.6"/>
<rect x="657.8" y="954.9" width="14.6" height="14.6"/>
<rect x="669.9" y="946.5" width="14.6" height="14.6"/>
<rect x="682.0" y="949.7" width="14.6" height="14.6"/>
<rect x="694.1" y="924.7" width="14.6" height="14.6"/>
<rect x="706.2" y="942.7" width="14.6" height="14.6"/>
<rect x="718.4" y="936.9" width="14.6" height="14.6"/>
<rect x="730.5" y="931.1" width="14.6" height="14.6"/>
<rect x="742.6" y="933.0" width="14.6" height="14.6"/>
<rect x="754.7" y="902.2" width="14.6" height="14.6"/>
<rect x="766.8" y="873.7" width="14.6" height="14.6"/>
<rect x="779.0" y="830.7" width="14.6" height="14.6"/>
<rect x="791.1" y="788.9" width="14.6" height="14.6"/>
<rect x="803.2" y="771.9" width="14.6" height="14.6"/>
<rect x="815.3" y="772.6" width="14.6" height="14.6"/>
<rect x="827.4" y="811.5" width="14.6" height="14.6"/>
<rect x="839.6" y="858.9" width="14.6" height="14.6"/>
<rect x="851.7" y="887.2" width="14.6" height="14.6"/>
<rect x="863.8" y="928.2" width="14.6" height="14.6"/>
<rect x="875.9" y="900.7" width="14.6" height="14.6"/>
<rect x="888.0" y="924.2" width="14.6" height="14.6"/>
<rect x="900.2" y="929.0" width="14.6" height="14.6"/>
<rect x="912.3" y="973.7" width="14.6" height="14.6"/>
<rect x="924.4" y="1049.7" width="14.6" height="14.6"/>
<rect x="936.5" y="1166.3" width="14.6" height="14.6"/>
<rect x="948.6" y="1196.7" width="14.6" height="14.6"/>
<rect x="960.8" y="1203.6" width="14.6" height="14.6"/>
<rect x="972.9" y="1202.9" width="14.6" height="14.6"/>
<rect x="985.0" y="1203.3" width="14.6" height="14.6"/>
<rect x="997.1" y="1203.1" width="14.6" height="14.6"/>
<rect x="1009.2" y="1203.3" width="14.6" height="14.6"/>
<rect x="1021.4" y="1203.6" width="14.6" height="14.6"/>
<rect x="1033.5" y="1203.4" width="14.6" height="14.6"/>
<rect x="1045.6" y="1203.7" width="14.6" height="14.6"/>
<rect x="1057.7" y="1203.4" width="14.6" height="14.6"/>
<rect x="1069.8" y="1203.3" width="14.6" height="14.6"/>
<rect x="1082.0" y="1203.6" width="14.6" height="14.6"/>
<rect x="1094.1" y="1203.5" width="14.6" height="14.6"/>
<polyline points="325.7,1207.5 337.8,1207.7 349.9,1208.1 362.1,1208.4 374.2,1207.4 386.3,1207.7 398.4,1207.9 410.5,1207.9 422.7,1206.5 434.8,1207.8 446.9,1208.2 459.0,1207.3 471.1,1205.8 483.3,1122.0 495.4,1035.6 507.5,981.5 519.6,963.4 531.7,995.0 543.9,999.5 556.0,975.8 568.1,952.0 580.2,927.2 592.3,907.6 604.5,902.4 616.6,940.8 628.7,975.8 640.8,996.0 652.9,995.0 665.1,1012.4 677.2,1004.2 689.3,1005.6 701.4,1000.0 713.5,1001.5 725.7,997.4 737.8,996.0 749.9,994.6 762.0,982.3 774.1,964.5 786.3,952.2 798.4,935.1 810.5,919.3 822.6,918.2 834.7,923.8 846.9,953.2 859.0,980.3 871.1,998.2 883.2,990.0 895.3,963.0 907.5,955.5 919.6,992.0 931.7,1062.0 943.8,1180.0 955.9,1207.0 968.1,1206.6 980.2,1208.3 992.3,1207.0 1004.4,1207.1 1016.5,1208.2 1028.7,1208.1 1040.8,1205.2 1052.9,1206.7 1065.0,1205.3 1077.1,1205.5 1089.3,1206.9 1101.4,1205.7" fill="none" stroke="#f07a6a" stroke-width="1"/>
<circle cx="325.7" cy="1207.5" r="8.2" fill="#ff2a0a"/>
<circle cx="337.8" cy="1207.7" r="8.2" fill="#ff2a0a"/>
<circle cx="349.9" cy="1208.1" r="8.2" fill="#ff2a0a"/>
<circle cx="362.1" cy="1208.4" r="8.2" fill="#ff2a0a"/>
<circle cx="374.2" cy="1207.4" r="8.2" fill="#ff2a0a"/>
<circle cx="386.3" cy="1207.7" r="8.2" fill="#ff2a0a"/>
<circle cx="398.4" cy="1207.9" r="8.2" fill="#ff2a0a"/>
<circle cx="410.5" cy="1207.9" r="8.2" fill="#ff2a0a"/>
<circle cx="422.7" cy="1206.5" r="8.2" fill="#ff2a0a"/>
<circle cx="434.8" cy="1207.8" r="8.2" fill="#ff2a0a"/>
<circle cx="446.9" cy="1208.2" r="8.2" fill="#ff2a0a"/>
<circle cx="459.0" cy="1207.3" r="8.2" fill="#ff2a0a"/>
<circle cx="471.1" cy="1205.8" r="8.2" fill="#ff2a0a"/>
<circle cx="483.3" cy="1122.0" r="8.2" fill="#ff2a0a"/>
<circle cx="495.4" cy="1035.6" r="8.2" fill="#ff2a0a"/>
<circle cx="507.5" cy="981.5" r="8.2" fill="#ff2a0a"/>
<circle cx="519.6" cy="963.4" r="8.2" fill="#ff2a0a"/>
<circle cx="531.7" cy="995.0" r="8.2" fill="#ff2a0a"/>
<circle cx="543.9" cy="999.5" r="8.2" fill="#ff2a0a"/>
<circle cx="556.0" cy="975.8" r="8.2" fill="#ff2a0a"/>
<circle cx="568.1" cy="952.0" r="8.2" fill="#ff2a0a"/>
<circle cx="580.2" cy="927.2" r="8.2" fill="#ff2a0a"/>
<circle cx="592.3" cy="907.6" r="8.2" fill="#ff2a0a"/>
<circle cx="604.5" cy="902.4" r="8.2" fill="#ff2a0a"/>
<circle cx="616.6" cy="940.8" r="8.2" fill="#ff2a0a"/>
<circle cx="628.7" cy="975.8" r="8.2" fill="#ff2a0a"/>
<circle cx="640.8" cy="996.0" r="8.2" fill="#ff2a0a"/>
<circle cx="652.9" cy="995.0" r="8.2" fill="#ff2a0a"/>
<circle cx="665.1" cy="1012.4" r="8.2" fill="#ff2a0a"/>
<circle cx="677.2" cy="1004.2" r="8.2" fill="#ff2a0a"/>
<circle cx="689.3" cy="1005.6" r="8.2" fill="#ff2a0a"/>
<circle cx="701.4" cy="1000.0" r="8.2" fill="#ff2a0a"/>
<circle cx="713.5" cy="1001.5" r="8.2" fill="#ff2a0a"/>
<circle cx="725.7" cy="997.4" r="8.2" fill="#ff2a0a"/>
<circle cx="737.8" cy="996.0" r="8.2" fill="#ff2a0a"/>
<circle cx="749.9" cy="994.6" r="8.2" fill="#ff2a0a"/>
<circle cx="762.0" cy="982.3" r="8.2" fill="#ff2a0a"/>
<circle cx="774.1" cy="964.5" r="8.2" fill="#ff2a0a"/>
<circle cx="786.3" cy="952.2" r="8.2" fill="#ff2a0a"/>
<circle cx="798.4" cy="935.1" r="8.2" fill="#ff2a0a"/>
<circle cx="810.5" cy="919.3" r="8.2" fill="#ff2a0a"/>
<circle cx="822.6" cy="918.2" r="8.2" fill="#ff2a0a"/>
<circle cx="834.7" cy="923.8" r="8.2" fill="#ff2a0a"/>
<circle cx="846.9" cy="953.2" r="8.2" fill="#ff2a0a"/>
<circle cx="859.0" cy="980.3" r="8.2" fill="#ff2a0a"/>
<circle cx="871.1" cy="998.2" r="8.2" fill="#ff2a0a"/>
<circle cx="883.2" cy="990.0" r="8.2" fill="#ff2a0a"/>
<circle cx="895.3" cy="963.0" r="8.2" fill="#ff2a0a"/>
<circle cx="907.5" cy="955.5" r="8.2" fill="#ff2a0a"/>
<circle cx="919.6" cy="992.0" r="8.2" fill="#ff2a0a"/>
<circle cx="931.7" cy="1062.0" r="8.2" fill="#ff2a0a"/>
<circle cx="943.8" cy="1180.0" r="8.2" fill="#ff2a0a"/>
<circle cx="955.9" cy="1207.0" r="8.2" fill="#ff2a0a"/>
<circle cx="968.1" cy="1206.6" r="8.2" fill="#ff2a0a"/>
<circle cx="980.2" cy="1208.3" r="8.2" fill="#ff2a0a"/>
<circle cx="992.3" cy="1207.0" r="8.2" fill="#ff2a0a"/>
<circle cx="1004.4" cy="1207.1" r="8.2" fill="#ff2a0a"/>
<circle cx="1016.5" cy="1208.2" r="8.2" fill="#ff2a0a"/>
<circle cx="1028.7" cy="1208.1" r="8.2" fill="#ff2a0a"/>
<circle cx="1040.8" cy="1205.2" r="8.2" fill="#ff2a0a"/>
<circle cx="1052.9" cy="1206.7" r="8.2" fill="#ff2a0a"/>
<circle cx="1065.0" cy="1205.3" r="8.2" fill="#ff2a0a"/>
<circle cx="1077.1" cy="1205.5" r="8.2" fill="#ff2a0a"/>
<circle cx="1089.3" cy="1206.9" r="8.2" fill="#ff2a0a"/>
<circle cx="1101.4" cy="1205.7" r="8.2" fill="#ff2a0a"/>
<polyline points="325.7,1204.7 337.8,1203.5 349.9,1204.3 362.1,1205.0 374.2,1205.7 386.3,1206.5 398.4,1205.8 410.5,1205.5 422.7,1206.5 434.8,1206.6 446.9,1204.8 459.0,1206.8 471.1,1194.7 483.3,1102.6 495.4,1049.5 507.5,1011.0 519.6,969.0 531.7,946.4 543.9,930.6 556.0,919.3 568.1,920.5 580.2,908.0 592.3,914.8 604.5,910.3 616.6,932.9 628.7,958.9 640.8,975.5 652.9,978.3 665.1,983.7 677.2,974.2 689.3,979.6 701.4,985.8 713.5,979.6 725.7,983.7 737.8,982.3 749.9,977.6 762.0,967.5 774.1,946.0 786.3,937.0 798.4,920.5 810.5,900.1 822.6,905.8 834.7,909.2 846.9,918.2 859.0,929.5 871.1,940.0 883.2,961.5 895.3,971.2 907.5,994.0 919.6,1024.5 931.7,1054.4 943.8,1148.0 955.9,1199.0 968.1,1203.8 980.2,1204.9 992.3,1205.2 1004.4,1205.5 1016.5,1205.8 1028.7,1207.0 1040.8,1206.5 1052.9,1205.4 1065.0,1206.4 1077.1,1203.5 1089.3,1203.6 1101.4,1203.9" fill="none" stroke="#7aea7a" stroke-width="1"/>
<path d="M325.7,1196.5L334.6,1212.9L316.8,1212.9Z" fill="#12f512"/>
<path d="M337.8,1195.3L346.7,1211.7L328.9,1211.7Z" fill="#12f512"/>
<path d="M349.9,1196.1L358.8,1212.5L341.0,1212.5Z" fill="#12f512"/>
<path d="M362.1,1196.8L371.0,1213.2L353.2,1213.2Z" fill="#12f512"/>
<path d="M374.2,1197.5L383.1,1213.9L365.3,1213.9Z" fill="#12f512"/>
<path d="M386.3,1198.3L395.2,1214.7L377.4,1214.7Z" fill="#12f512"/>
<path d="M398.4,1197.6L407.3,1214.0L389.5,1214.0Z" fill="#12f512"/>
<path d="M410.5,1197.3L419.4,1213.7L401.6,1213.7Z" fill="#12f512"/>
<path d="M422.7,1198.3L431.6,1214.7L413.8,1214.7Z" fill="#12f512"/>
<path d="M434.8,1198.4L443.7,1214.8L425.9,1214.8Z" fill="#12f512"/>
<path d="M446.9,1196.6L455.8,1213.0L438.0,1213.0Z" fill="#12f512"/>
<path d="M459.0,1198.6L467.9,1215.0L450.1,1215.0Z" fill="#12f512"/>
<path d="M471.1,1186.5L480.0,1202.9L462.2,1202.9Z" fill="#12f512"/>
<path d="M483.3,1094.4L492.2,1110.8L474.4,1110.8Z" fill="#12f512"/>
<path d="M495.4,1041.3L504.3,1057.7L486.5,1057.7Z" fill="#12f512"/>
<path d="M507.5,1002.8L516.4,1019.2L498.6,1019.2Z" fill="#12f512"/>
<path d="M519.6,960.8L528.5,977.2L510.7,977.2Z" fill="#12f512"/>
<path d="M531.7,938.2L540.6,954.6L522.8,954.6Z" fill="#12f512"/>
<path d="M543.9,922.4L552.8,938.8L535.0,938.8Z" fill="#12f512"/>
<path d="M556.0,911.1L564.9,927.5L547.1,927.5Z" fill="#12f512"/>
<path d="M568.1,912.3L577.0,928.7L559.2,928.7Z" fill="#12f512"/>
<path d="M580.2,899.8L589.1,916.2L571.3,916.2Z" fill="#12f512"/>
<path d="M592.3,906.6L601.2,923.0L583.4,923.0Z" fill="#12f512"/>
<path d="M604.5,902.1L613.4,918.5L595.6,918.5Z" fill="#12f512"/>
<path d="M616.6,924.7L625.5,941.1L607.7,941.1Z" fill="#12f512"/>
<path d="M628.7,950.7L637.6,967.1L619.8,967.1Z" fill="#12f512"/>
<path d="M640.8,967.3L649.7,983.7L631.9,983.7Z" fill="#12f512"/>
<path d="M652.9,970.1L661.8,986.5L644.0,986.5Z" fill="#12f512"/>
<path d="M665.1,975.5L674.0,991.9L656.2,991.9Z" fill="#12f512"/>
<path d="M677.2,966.0L686.1,982.4L668.3,982.4Z" fill="#12f512"/>
<path d="M689.3,971.4L698.2,987.8L680.4,987.8Z" fill="#12f512"/>
<path d="M701.4,977.6L710.3,994.0L692.5,994.0Z" fill="#12f512"/>
<path d="M713.5,971.4L722.4,987.8L704.6,987.8Z" fill="#12f512"/>
<path d="M725.7,975.5L734.6,991.9L716.8,991.9Z" fill="#12f512"/>
<path d="M737.8,974.1L746.7,990.5L728.9,990.5Z" fill="#12f512"/>
<path d="M749.9,969.4L758.8,985.8L741.0,985.8Z" fill="#12f512"/>
<path d="M762.0,959.3L770.9,975.7L753.1,975.7Z" fill="#12f512"/>
<path d="M774.1,937.8L783.0,954.2L765.2,954.2Z" fill="#12f512"/>
<path d="M786.3,928.8L795.2,945.2L777.4,945.2Z" fill="#12f512"/>
<path d="M798.4,912.3L807.3,928.7L789.5,928.7Z" fill="#12f512"/>
<path d="M810.5,891.9L819.4,908.3L801.6,908.3Z" fill="#12f512"/>
<path d="M822.6,897.6L831.5,914.0L813.7,914.0Z" fill="#12f512"/>
<path d="M834.7,901.0L843.6,917.4L825.8,917.4Z" fill="#12f512"/>
<path d="M846.9,910.0L855.8,926.4L838.0,926.4Z" fill="#12f512"/>
<path d="M859.0,921.3L867.9,937.7L850.1,937.7Z" fill="#12f512"/>
<path d="M871.1,931.8L880.0,948.2L862.2,948.2Z" fill="#12f512"/>
<path d="M883.2,953.3L892.1,969.7L874.3,969.7Z" fill="#12f512"/>
<path d="M895.3,963.0L904.2,979.4L886.4,979.4Z" fill="#12f512"/>
<path d="M907.5,985.8L916.4,1002.2L898.6,1002.2Z" fill="#12f512"/>
<path d="M919.6,1016.3L928.5,1032.7L910.7,1032.7Z" fill="#12f512"/>
<path d="M931.7,1046.2L940.6,1062.6L922.8,1062.6Z" fill="#12f512"/>
<path d="M943.8,1139.8L952.7,1156.2L934.9,1156.2Z" fill="#12f512"/>
<path d="M955.9,1190.8L964.8,1207.2L947.0,1207.2Z" fill="#12f512"/>
<path d="M968.1,1195.6L977.0,1212.0L959.2,1212.0Z" fill="#12f512"/>
<path d="M980.2,1196.7L989.1,1213.1L971.3,1213.1Z" fill="#12f512"/>
<path d="M992.3,1197.0L1001.2,1213.4L983.4,1213.4Z" fill="#12f512"/>
<path d="M1004.4,1197.3L1013.3,1213.7L995.5,1213.7Z" fill="#12f512"/>
<path d="M1016.5,1197.6L1025.4,1214.0L1007.6,1214.0Z" fill="#12f512"/>
<path d="M1028.7,1198.8L1037.6,1215.2L1019.8,1215.2Z" fill="#12f512"/>
<path d="M1040.8,1198.3L1049.7,1214.7L1031.9,1214.7Z" fill="#12f512"/>
<path d="M1052.9,1197.2L1061.8,1213.6L1044.0,1213.6Z" fill="#12f512"/>
<path d="M1065.0,1198.2L1073.9,1214.6L1056.1,1214.6Z" fill="#12f512"/>
<path d="M1077.1,1195.3L1086.0,1211.7L1068.2,1211.7Z" fill="#12f512"/>
<path d="M1089.3,1195.4L1098.2,1211.8L1080.4,1211.8Z" fill="#12f512"/>
<path d="M1101.4,1195.7L1110.3,1212.1L1092.5,1212.1Z" fill="#12f512"/>
</g>
</svg>
</body></html>
